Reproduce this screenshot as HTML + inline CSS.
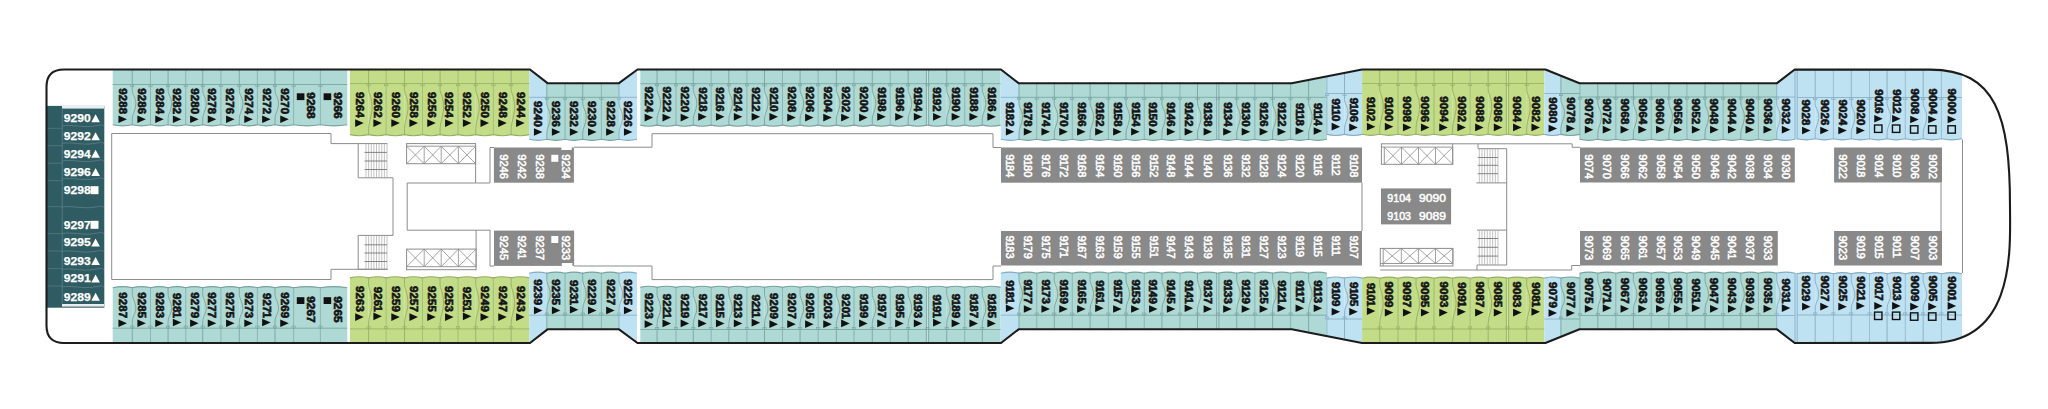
<!DOCTYPE html>
<html><head><meta charset="utf-8"><style>
html,body{margin:0;padding:0;background:#fff;width:2048px;height:409px;overflow:hidden}
svg{display:block}
.cb{font-family:"Liberation Sans", sans-serif;font-weight:bold;font-size:10.4px;fill:#141414;stroke:#141414;stroke-width:0.6px}
.cw{font-family:"Liberation Sans", sans-serif;font-weight:normal;font-size:10.3px;fill:#fff;stroke:#fff;stroke-width:0.5px}
.cwh{font-family:"Liberation Sans", sans-serif;font-weight:normal;font-size:11px;fill:#fff;stroke:#fff;stroke-width:0.5px}
.cwp{font-family:"Liberation Sans", sans-serif;font-weight:bold;font-size:11px;fill:#fff;stroke:#fff;stroke-width:0.25px}
</style></head><body>
<svg width="2048" height="409" viewBox="0 0 2048 409">
<defs><clipPath id="ship"><path d="M64,69.5 L530,69.5 L547.5,83.2 L619,83.2 L637.5,69.5 L1001,69.5 L1018.6,83.2 L1291.7,83.2 L1362,69.5 L1545.4,69.5 L1579.5,83.2 L1777,83.2 L1794.7,69.5 L1930,69.6 C1996,69.6 2010,116 2010,206 C2010,246 2017,342.9 1930,342.9 L1794.7,343 L1777,329.3 L1579.5,329.3 L1545.4,343 L1362,343 L1291.7,329.3 L1018.6,329.3 L1001,343 L637.5,343 L619,329.3 L547.5,329.3 L530,343 L64,343 Q46.5,343 46.5,325.5 L46.5,87 Q46.5,69.5 64,69.5 Z"/></clipPath></defs>
<rect width="2048" height="409" fill="#fff"/>
<g clip-path="url(#ship)">
<path d="M112.7,60 L132.3,60 L132.3,124.8 Q122.5,127 112.7,124.8 Z" fill="#aed9d4"/>
<path d="M132.3,60 L150.5,60 L150.5,124.8 Q141.4,127 132.3,124.8 Z" fill="#aed9d4"/>
<path d="M150.5,60 L168.1,60 L168.1,124.8 Q159.3,127 150.5,124.8 Z" fill="#aed9d4"/>
<path d="M168.1,60 L185.7,60 L185.7,124.8 Q176.9,127 168.1,124.8 Z" fill="#aed9d4"/>
<path d="M185.7,60 L202.7,60 L202.7,124.8 Q194.2,127 185.7,124.8 Z" fill="#aed9d4"/>
<path d="M202.7,60 L220.9,60 L220.9,124.8 Q211.8,127 202.7,124.8 Z" fill="#aed9d4"/>
<path d="M220.9,60 L239.3,60 L239.3,124.8 Q230.1,127 220.9,124.8 Z" fill="#aed9d4"/>
<path d="M239.3,60 L257.4,60 L257.4,124.8 Q248.35,127 239.3,124.8 Z" fill="#aed9d4"/>
<path d="M257.4,60 L275,60 L275,124.8 Q266.2,127 257.4,124.8 Z" fill="#aed9d4"/>
<path d="M275,60 L293.6,60 L293.6,124.8 Q284.3,127 275,124.8 Z" fill="#aed9d4"/>
<path d="M293.6,60 L320.4,60 L320.4,124.8 Q307,127 293.6,124.8 Z" fill="#aed9d4"/>
<path d="M320.4,60 L347.3,60 L347.3,124.8 Q333.85,127 320.4,124.8 Z" fill="#aed9d4"/>
<path d="M349.9,60 L368.6,60 L368.6,134.6 Q359.25,136.8 349.9,134.6 Z" fill="#c3dc88"/>
<path d="M368.6,60 L386.2,60 L386.2,134.6 Q377.4,136.8 368.6,134.6 Z" fill="#c3dc88"/>
<path d="M386.2,60 L404.5,60 L404.5,134.6 Q395.35,136.8 386.2,134.6 Z" fill="#c3dc88"/>
<path d="M404.5,60 L422.5,60 L422.5,134.6 Q413.5,136.8 404.5,134.6 Z" fill="#c3dc88"/>
<path d="M422.5,60 L440.1,60 L440.1,134.6 Q431.3,136.8 422.5,134.6 Z" fill="#c3dc88"/>
<path d="M440.1,60 L458.1,60 L458.1,134.6 Q449.1,136.8 440.1,134.6 Z" fill="#c3dc88"/>
<path d="M458.1,60 L475.7,60 L475.7,134.6 Q466.9,136.8 458.1,134.6 Z" fill="#c3dc88"/>
<path d="M475.7,60 L493.4,60 L493.4,134.6 Q484.55,136.8 475.7,134.6 Z" fill="#c3dc88"/>
<path d="M493.4,60 L511.2,60 L511.2,134.6 Q502.3,136.8 493.4,134.6 Z" fill="#c3dc88"/>
<path d="M511.2,60 L529.2,60 L529.2,134.6 Q520.2,136.8 511.2,134.6 Z" fill="#c3dc88"/>
<path d="M529.2,60 L546.8,60 L546.8,139.3 Q538,141.5 529.2,139.3 Z" fill="#bfe2f3"/>
<path d="M546.8,60 L565.1,60 L565.1,139.3 Q555.95,141.5 546.8,139.3 Z" fill="#aed9d4"/>
<path d="M565.1,60 L582.7,60 L582.7,139.3 Q573.9,141.5 565.1,139.3 Z" fill="#aed9d4"/>
<path d="M582.7,60 L601.4,60 L601.4,139.3 Q592.05,141.5 582.7,139.3 Z" fill="#aed9d4"/>
<path d="M601.4,60 L619,60 L619,139.3 Q610.2,141.5 601.4,139.3 Z" fill="#aed9d4"/>
<path d="M619,60 L637,60 L637,139.3 Q628,141.5 619,139.3 Z" fill="#bfe2f3"/>
<path d="M640.3,60 L657.1,60 L657.1,125.1 Q648.7,127.3 640.3,125.1 Z" fill="#aed9d4"/>
<path d="M657.1,60 L676,60 L676,125.1 Q666.55,127.3 657.1,125.1 Z" fill="#aed9d4"/>
<path d="M676,60 L693.3,60 L693.3,125.1 Q684.65,127.3 676,125.1 Z" fill="#aed9d4"/>
<path d="M693.3,60 L711.2,60 L711.2,125.1 Q702.25,127.3 693.3,125.1 Z" fill="#aed9d4"/>
<path d="M711.2,60 L728.8,60 L728.8,125.1 Q720,127.3 711.2,125.1 Z" fill="#aed9d4"/>
<path d="M728.8,60 L746.9,60 L746.9,125.1 Q737.85,127.3 728.8,125.1 Z" fill="#aed9d4"/>
<path d="M746.9,60 L764.5,60 L764.5,125.1 Q755.7,127.3 746.9,125.1 Z" fill="#aed9d4"/>
<path d="M764.5,60 L782.5,60 L782.5,125.1 Q773.5,127.3 764.5,125.1 Z" fill="#aed9d4"/>
<path d="M782.5,60 L800.1,60 L800.1,125.1 Q791.3,127.3 782.5,125.1 Z" fill="#aed9d4"/>
<path d="M800.1,60 L818.2,60 L818.2,125.1 Q809.15,127.3 800.1,125.1 Z" fill="#aed9d4"/>
<path d="M818.2,60 L836.4,60 L836.4,125.1 Q827.3,127.3 818.2,125.1 Z" fill="#aed9d4"/>
<path d="M836.4,60 L854,60 L854,125.1 Q845.2,127.3 836.4,125.1 Z" fill="#aed9d4"/>
<path d="M854,60 L872.3,60 L872.3,125.1 Q863.15,127.3 854,125.1 Z" fill="#aed9d4"/>
<path d="M872.3,60 L890.3,60 L890.3,125.1 Q881.3,127.3 872.3,125.1 Z" fill="#aed9d4"/>
<path d="M890.3,60 L908.2,60 L908.2,125.1 Q899.25,127.3 890.3,125.1 Z" fill="#aed9d4"/>
<path d="M908.2,60 L927.5,60 L927.5,125.1 Q917.85,127.3 908.2,125.1 Z" fill="#aed9d4"/>
<path d="M927.5,60 L946.7,60 L946.7,125.1 Q937.1,127.3 927.5,125.1 Z" fill="#aed9d4"/>
<path d="M946.7,60 L964.7,60 L964.7,125.1 Q955.7,127.3 946.7,125.1 Z" fill="#aed9d4"/>
<path d="M964.7,60 L982.3,60 L982.3,125.1 Q973.5,127.3 964.7,125.1 Z" fill="#aed9d4"/>
<path d="M982.3,60 L1000.6,60 L1000.6,125.1 Q991.45,127.3 982.3,125.1 Z" fill="#aed9d4"/>
<path d="M1000.8,60 L1019,60 L1019,139.3 Q1009.9,141.5 1000.8,139.3 Z" fill="#bfe2f3"/>
<path d="M1019,60 L1036.7,60 L1036.7,139.3 Q1027.85,141.5 1019,139.3 Z" fill="#aed9d4"/>
<path d="M1036.7,60 L1054.3,60 L1054.3,139.3 Q1045.5,141.5 1036.7,139.3 Z" fill="#aed9d4"/>
<path d="M1054.3,60 L1072.3,60 L1072.3,139.3 Q1063.3,141.5 1054.3,139.3 Z" fill="#aed9d4"/>
<path d="M1072.3,60 L1090.1,60 L1090.1,139.3 Q1081.2,141.5 1072.3,139.3 Z" fill="#aed9d4"/>
<path d="M1090.1,60 L1108.4,60 L1108.4,139.3 Q1099.25,141.5 1090.1,139.3 Z" fill="#aed9d4"/>
<path d="M1108.4,60 L1126,60 L1126,139.3 Q1117.2,141.5 1108.4,139.3 Z" fill="#aed9d4"/>
<path d="M1126,60 L1144.3,60 L1144.3,139.3 Q1135.15,141.5 1126,139.3 Z" fill="#aed9d4"/>
<path d="M1144.3,60 L1161.9,60 L1161.9,139.3 Q1153.1,141.5 1144.3,139.3 Z" fill="#aed9d4"/>
<path d="M1161.9,60 L1179.9,60 L1179.9,139.3 Q1170.9,141.5 1161.9,139.3 Z" fill="#aed9d4"/>
<path d="M1179.9,60 L1197.5,60 L1197.5,139.3 Q1188.7,141.5 1179.9,139.3 Z" fill="#aed9d4"/>
<path d="M1197.5,60 L1217.8,60 L1217.8,139.3 Q1207.65,141.5 1197.5,139.3 Z" fill="#aed9d4"/>
<path d="M1217.8,60 L1236.7,60 L1236.7,139.3 Q1227.25,141.5 1217.8,139.3 Z" fill="#aed9d4"/>
<path d="M1236.7,60 L1254.8,60 L1254.8,139.3 Q1245.75,141.5 1236.7,139.3 Z" fill="#aed9d4"/>
<path d="M1254.8,60 L1272.6,60 L1272.6,139.3 Q1263.7,141.5 1254.8,139.3 Z" fill="#aed9d4"/>
<path d="M1272.6,60 L1290.6,60 L1290.6,139.3 Q1281.6,141.5 1272.6,139.3 Z" fill="#aed9d4"/>
<path d="M1290.6,60 L1308.6,60 L1308.6,139.3 Q1299.6,141.5 1290.6,139.3 Z" fill="#aed9d4"/>
<path d="M1308.6,60 L1326.9,60 L1326.9,139.3 Q1317.75,141.5 1308.6,139.3 Z" fill="#aed9d4"/>
<path d="M1326.9,60 L1344.5,60 L1344.5,134.4 Q1335.7,136.6 1326.9,134.4 Z" fill="#bfe2f3"/>
<path d="M1344.5,60 L1362.1,60 L1362.1,134.4 Q1353.3,136.6 1344.5,134.4 Z" fill="#bfe2f3"/>
<path d="M1362.1,60 L1379.7,60 L1379.7,134.3 Q1370.9,136.5 1362.1,134.3 Z" fill="#c3dc88"/>
<path d="M1379.7,60 L1398,60 L1398,134.3 Q1388.85,136.5 1379.7,134.3 Z" fill="#c3dc88"/>
<path d="M1398,60 L1416,60 L1416,134.3 Q1407,136.5 1398,134.3 Z" fill="#c3dc88"/>
<path d="M1416,60 L1434,60 L1434,134.3 Q1425,136.5 1416,134.3 Z" fill="#c3dc88"/>
<path d="M1434,60 L1452.6,60 L1452.6,134.3 Q1443.3,136.5 1434,134.3 Z" fill="#c3dc88"/>
<path d="M1452.6,60 L1470.2,60 L1470.2,134.3 Q1461.4,136.5 1452.6,134.3 Z" fill="#c3dc88"/>
<path d="M1470.2,60 L1488.2,60 L1488.2,134.3 Q1479.2,136.5 1470.2,134.3 Z" fill="#c3dc88"/>
<path d="M1488.2,60 L1507.5,60 L1507.5,134.3 Q1497.85,136.5 1488.2,134.3 Z" fill="#c3dc88"/>
<path d="M1507.5,60 L1526.7,60 L1526.7,134.3 Q1517.1,136.5 1507.5,134.3 Z" fill="#c3dc88"/>
<path d="M1526.7,60 L1544.3,60 L1544.3,134.3 Q1535.5,136.5 1526.7,134.3 Z" fill="#c3dc88"/>
<path d="M1544.3,60 L1560.9,60 L1560.9,134.4 Q1552.6,136.6 1544.3,134.4 Z" fill="#bfe2f3"/>
<path d="M1560.9,60 L1579.9,60 L1579.9,134.4 Q1570.4,136.6 1560.9,134.4 Z" fill="#aed9d4"/>
<path d="M1579.9,60 L1597.8,60 L1597.8,139.3 Q1588.85,141.5 1579.9,139.3 Z" fill="#aed9d4"/>
<path d="M1597.8,60 L1615.8,60 L1615.8,139.3 Q1606.8,141.5 1597.8,139.3 Z" fill="#aed9d4"/>
<path d="M1615.8,60 L1633.4,60 L1633.4,139.3 Q1624.6,141.5 1615.8,139.3 Z" fill="#aed9d4"/>
<path d="M1633.4,60 L1651.3,60 L1651.3,139.3 Q1642.35,141.5 1633.4,139.3 Z" fill="#aed9d4"/>
<path d="M1651.3,60 L1668.9,60 L1668.9,139.3 Q1660.1,141.5 1651.3,139.3 Z" fill="#aed9d4"/>
<path d="M1668.9,60 L1686.9,60 L1686.9,139.3 Q1677.9,141.5 1668.9,139.3 Z" fill="#aed9d4"/>
<path d="M1686.9,60 L1705,60 L1705,139.3 Q1695.95,141.5 1686.9,139.3 Z" fill="#aed9d4"/>
<path d="M1705,60 L1723.2,60 L1723.2,139.3 Q1714.1,141.5 1705,139.3 Z" fill="#aed9d4"/>
<path d="M1723.2,60 L1740.8,60 L1740.8,139.3 Q1732,141.5 1723.2,139.3 Z" fill="#aed9d4"/>
<path d="M1740.8,60 L1758.4,60 L1758.4,139.3 Q1749.6,141.5 1740.8,139.3 Z" fill="#aed9d4"/>
<path d="M1758.4,60 L1776.7,60 L1776.7,139.3 Q1767.55,141.5 1758.4,139.3 Z" fill="#aed9d4"/>
<path d="M1776.7,60 L1795,60 L1795,139.3 Q1785.85,141.5 1776.7,139.3 Z" fill="#bfe2f3"/>
<path d="M1797,60 L1815.2,60 L1815.2,138.8 Q1806.1,141 1797,138.8 Z" fill="#bfe2f3"/>
<path d="M1815.2,60 L1833.4,60 L1833.4,138.8 Q1824.3,141 1815.2,138.8 Z" fill="#bfe2f3"/>
<path d="M1833.4,60 L1851.3,60 L1851.3,138.8 Q1842.35,141 1833.4,138.8 Z" fill="#bfe2f3"/>
<path d="M1851.3,60 L1869.5,60 L1869.5,138.8 Q1860.4,141 1851.3,138.8 Z" fill="#bfe2f3"/>
<path d="M1869.5,60 L1887.1,60 L1887.1,138.8 Q1878.3,141 1869.5,138.8 Z" fill="#bfe2f3"/>
<path d="M1887.1,60 L1905.3,60 L1905.3,138.8 Q1896.2,141 1887.1,138.8 Z" fill="#bfe2f3"/>
<path d="M1905.3,60 L1923.2,60 L1923.2,138.8 Q1914.25,141 1905.3,138.8 Z" fill="#bfe2f3"/>
<path d="M1923.2,60 L1941.4,60 L1941.4,138.8 Q1932.3,141 1923.2,138.8 Z" fill="#bfe2f3"/>
<path d="M1941.4,60 L1962,60 L1962,138.8 Q1951.7,141 1941.4,138.8 Z" fill="#bfe2f3"/>
<rect x="1794.6" y="60" width="2.8" height="79.5" fill="#bfe2f3"/>
<rect x="1794.6" y="273" width="2.8" height="80" fill="#bfe2f3"/>
<path d="M112.7,287.7 Q122.5,285.5 132.3,287.7 L132.3,352 L112.7,352 Z" fill="#aed9d4"/>
<path d="M132.3,287.7 Q141.4,285.5 150.5,287.7 L150.5,352 L132.3,352 Z" fill="#aed9d4"/>
<path d="M150.5,287.7 Q159.3,285.5 168.1,287.7 L168.1,352 L150.5,352 Z" fill="#aed9d4"/>
<path d="M168.1,287.7 Q176.9,285.5 185.7,287.7 L185.7,352 L168.1,352 Z" fill="#aed9d4"/>
<path d="M185.7,287.7 Q194.2,285.5 202.7,287.7 L202.7,352 L185.7,352 Z" fill="#aed9d4"/>
<path d="M202.7,287.7 Q211.8,285.5 220.9,287.7 L220.9,352 L202.7,352 Z" fill="#aed9d4"/>
<path d="M220.9,287.7 Q230.1,285.5 239.3,287.7 L239.3,352 L220.9,352 Z" fill="#aed9d4"/>
<path d="M239.3,287.7 Q248.35,285.5 257.4,287.7 L257.4,352 L239.3,352 Z" fill="#aed9d4"/>
<path d="M257.4,287.7 Q266.2,285.5 275,287.7 L275,352 L257.4,352 Z" fill="#aed9d4"/>
<path d="M275,287.7 Q284.3,285.5 293.6,287.7 L293.6,352 L275,352 Z" fill="#aed9d4"/>
<path d="M293.6,287.7 Q307,285.5 320.4,287.7 L320.4,352 L293.6,352 Z" fill="#aed9d4"/>
<path d="M320.4,287.7 Q333.85,285.5 347.3,287.7 L347.3,352 L320.4,352 Z" fill="#aed9d4"/>
<path d="M349.9,277.9 Q359.25,275.7 368.6,277.9 L368.6,352 L349.9,352 Z" fill="#c3dc88"/>
<path d="M368.6,277.9 Q377.4,275.7 386.2,277.9 L386.2,352 L368.6,352 Z" fill="#c3dc88"/>
<path d="M386.2,277.9 Q395.35,275.7 404.5,277.9 L404.5,352 L386.2,352 Z" fill="#c3dc88"/>
<path d="M404.5,277.9 Q413.5,275.7 422.5,277.9 L422.5,352 L404.5,352 Z" fill="#c3dc88"/>
<path d="M422.5,277.9 Q431.3,275.7 440.1,277.9 L440.1,352 L422.5,352 Z" fill="#c3dc88"/>
<path d="M440.1,277.9 Q449.1,275.7 458.1,277.9 L458.1,352 L440.1,352 Z" fill="#c3dc88"/>
<path d="M458.1,277.9 Q466.9,275.7 475.7,277.9 L475.7,352 L458.1,352 Z" fill="#c3dc88"/>
<path d="M475.7,277.9 Q484.55,275.7 493.4,277.9 L493.4,352 L475.7,352 Z" fill="#c3dc88"/>
<path d="M493.4,277.9 Q502.3,275.7 511.2,277.9 L511.2,352 L493.4,352 Z" fill="#c3dc88"/>
<path d="M511.2,277.9 Q520.2,275.7 529.2,277.9 L529.2,352 L511.2,352 Z" fill="#c3dc88"/>
<path d="M529.2,273.2 Q538,271 546.8,273.2 L546.8,352 L529.2,352 Z" fill="#bfe2f3"/>
<path d="M546.8,273.2 Q555.95,271 565.1,273.2 L565.1,352 L546.8,352 Z" fill="#aed9d4"/>
<path d="M565.1,273.2 Q573.9,271 582.7,273.2 L582.7,352 L565.1,352 Z" fill="#aed9d4"/>
<path d="M582.7,273.2 Q592.05,271 601.4,273.2 L601.4,352 L582.7,352 Z" fill="#aed9d4"/>
<path d="M601.4,273.2 Q610.2,271 619,273.2 L619,352 L601.4,352 Z" fill="#aed9d4"/>
<path d="M619,273.2 Q628,271 637,273.2 L637,352 L619,352 Z" fill="#bfe2f3"/>
<path d="M640.3,287.4 Q648.7,285.2 657.1,287.4 L657.1,352 L640.3,352 Z" fill="#aed9d4"/>
<path d="M657.1,287.4 Q666.55,285.2 676,287.4 L676,352 L657.1,352 Z" fill="#aed9d4"/>
<path d="M676,287.4 Q684.65,285.2 693.3,287.4 L693.3,352 L676,352 Z" fill="#aed9d4"/>
<path d="M693.3,287.4 Q702.25,285.2 711.2,287.4 L711.2,352 L693.3,352 Z" fill="#aed9d4"/>
<path d="M711.2,287.4 Q720,285.2 728.8,287.4 L728.8,352 L711.2,352 Z" fill="#aed9d4"/>
<path d="M728.8,287.4 Q737.85,285.2 746.9,287.4 L746.9,352 L728.8,352 Z" fill="#aed9d4"/>
<path d="M746.9,287.4 Q755.7,285.2 764.5,287.4 L764.5,352 L746.9,352 Z" fill="#aed9d4"/>
<path d="M764.5,287.4 Q773.5,285.2 782.5,287.4 L782.5,352 L764.5,352 Z" fill="#aed9d4"/>
<path d="M782.5,287.4 Q791.3,285.2 800.1,287.4 L800.1,352 L782.5,352 Z" fill="#aed9d4"/>
<path d="M800.1,287.4 Q809.15,285.2 818.2,287.4 L818.2,352 L800.1,352 Z" fill="#aed9d4"/>
<path d="M818.2,287.4 Q827.3,285.2 836.4,287.4 L836.4,352 L818.2,352 Z" fill="#aed9d4"/>
<path d="M836.4,287.4 Q845.2,285.2 854,287.4 L854,352 L836.4,352 Z" fill="#aed9d4"/>
<path d="M854,287.4 Q863.15,285.2 872.3,287.4 L872.3,352 L854,352 Z" fill="#aed9d4"/>
<path d="M872.3,287.4 Q881.3,285.2 890.3,287.4 L890.3,352 L872.3,352 Z" fill="#aed9d4"/>
<path d="M890.3,287.4 Q899.25,285.2 908.2,287.4 L908.2,352 L890.3,352 Z" fill="#aed9d4"/>
<path d="M908.2,287.4 Q917.85,285.2 927.5,287.4 L927.5,352 L908.2,352 Z" fill="#aed9d4"/>
<path d="M927.5,287.4 Q937.1,285.2 946.7,287.4 L946.7,352 L927.5,352 Z" fill="#aed9d4"/>
<path d="M946.7,287.4 Q955.7,285.2 964.7,287.4 L964.7,352 L946.7,352 Z" fill="#aed9d4"/>
<path d="M964.7,287.4 Q973.5,285.2 982.3,287.4 L982.3,352 L964.7,352 Z" fill="#aed9d4"/>
<path d="M982.3,287.4 Q991.45,285.2 1000.6,287.4 L1000.6,352 L982.3,352 Z" fill="#aed9d4"/>
<path d="M1000.8,273.2 Q1009.9,271 1019,273.2 L1019,352 L1000.8,352 Z" fill="#bfe2f3"/>
<path d="M1019,273.2 Q1027.85,271 1036.7,273.2 L1036.7,352 L1019,352 Z" fill="#aed9d4"/>
<path d="M1036.7,273.2 Q1045.5,271 1054.3,273.2 L1054.3,352 L1036.7,352 Z" fill="#aed9d4"/>
<path d="M1054.3,273.2 Q1063.3,271 1072.3,273.2 L1072.3,352 L1054.3,352 Z" fill="#aed9d4"/>
<path d="M1072.3,273.2 Q1081.2,271 1090.1,273.2 L1090.1,352 L1072.3,352 Z" fill="#aed9d4"/>
<path d="M1090.1,273.2 Q1099.25,271 1108.4,273.2 L1108.4,352 L1090.1,352 Z" fill="#aed9d4"/>
<path d="M1108.4,273.2 Q1117.2,271 1126,273.2 L1126,352 L1108.4,352 Z" fill="#aed9d4"/>
<path d="M1126,273.2 Q1135.15,271 1144.3,273.2 L1144.3,352 L1126,352 Z" fill="#aed9d4"/>
<path d="M1144.3,273.2 Q1153.1,271 1161.9,273.2 L1161.9,352 L1144.3,352 Z" fill="#aed9d4"/>
<path d="M1161.9,273.2 Q1170.9,271 1179.9,273.2 L1179.9,352 L1161.9,352 Z" fill="#aed9d4"/>
<path d="M1179.9,273.2 Q1188.7,271 1197.5,273.2 L1197.5,352 L1179.9,352 Z" fill="#aed9d4"/>
<path d="M1197.5,273.2 Q1207.65,271 1217.8,273.2 L1217.8,352 L1197.5,352 Z" fill="#aed9d4"/>
<path d="M1217.8,273.2 Q1227.25,271 1236.7,273.2 L1236.7,352 L1217.8,352 Z" fill="#aed9d4"/>
<path d="M1236.7,273.2 Q1245.75,271 1254.8,273.2 L1254.8,352 L1236.7,352 Z" fill="#aed9d4"/>
<path d="M1254.8,273.2 Q1263.7,271 1272.6,273.2 L1272.6,352 L1254.8,352 Z" fill="#aed9d4"/>
<path d="M1272.6,273.2 Q1281.6,271 1290.6,273.2 L1290.6,352 L1272.6,352 Z" fill="#aed9d4"/>
<path d="M1290.6,273.2 Q1299.6,271 1308.6,273.2 L1308.6,352 L1290.6,352 Z" fill="#aed9d4"/>
<path d="M1308.6,273.2 Q1317.75,271 1326.9,273.2 L1326.9,352 L1308.6,352 Z" fill="#aed9d4"/>
<path d="M1326.9,278.1 Q1335.7,275.9 1344.5,278.1 L1344.5,352 L1326.9,352 Z" fill="#bfe2f3"/>
<path d="M1344.5,278.1 Q1353.3,275.9 1362.1,278.1 L1362.1,352 L1344.5,352 Z" fill="#bfe2f3"/>
<path d="M1362.1,278.2 Q1370.9,276 1379.7,278.2 L1379.7,352 L1362.1,352 Z" fill="#c3dc88"/>
<path d="M1379.7,278.2 Q1388.85,276 1398,278.2 L1398,352 L1379.7,352 Z" fill="#c3dc88"/>
<path d="M1398,278.2 Q1407,276 1416,278.2 L1416,352 L1398,352 Z" fill="#c3dc88"/>
<path d="M1416,278.2 Q1425,276 1434,278.2 L1434,352 L1416,352 Z" fill="#c3dc88"/>
<path d="M1434,278.2 Q1443.3,276 1452.6,278.2 L1452.6,352 L1434,352 Z" fill="#c3dc88"/>
<path d="M1452.6,278.2 Q1461.4,276 1470.2,278.2 L1470.2,352 L1452.6,352 Z" fill="#c3dc88"/>
<path d="M1470.2,278.2 Q1479.2,276 1488.2,278.2 L1488.2,352 L1470.2,352 Z" fill="#c3dc88"/>
<path d="M1488.2,278.2 Q1497.85,276 1507.5,278.2 L1507.5,352 L1488.2,352 Z" fill="#c3dc88"/>
<path d="M1507.5,278.2 Q1517.1,276 1526.7,278.2 L1526.7,352 L1507.5,352 Z" fill="#c3dc88"/>
<path d="M1526.7,278.2 Q1535.5,276 1544.3,278.2 L1544.3,352 L1526.7,352 Z" fill="#c3dc88"/>
<path d="M1544.3,278.1 Q1552.6,275.9 1560.9,278.1 L1560.9,352 L1544.3,352 Z" fill="#bfe2f3"/>
<path d="M1560.9,278.1 Q1570.4,275.9 1579.9,278.1 L1579.9,352 L1560.9,352 Z" fill="#aed9d4"/>
<path d="M1579.9,273.2 Q1588.85,271 1597.8,273.2 L1597.8,352 L1579.9,352 Z" fill="#aed9d4"/>
<path d="M1597.8,273.2 Q1606.8,271 1615.8,273.2 L1615.8,352 L1597.8,352 Z" fill="#aed9d4"/>
<path d="M1615.8,273.2 Q1624.6,271 1633.4,273.2 L1633.4,352 L1615.8,352 Z" fill="#aed9d4"/>
<path d="M1633.4,273.2 Q1642.35,271 1651.3,273.2 L1651.3,352 L1633.4,352 Z" fill="#aed9d4"/>
<path d="M1651.3,273.2 Q1660.1,271 1668.9,273.2 L1668.9,352 L1651.3,352 Z" fill="#aed9d4"/>
<path d="M1668.9,273.2 Q1677.9,271 1686.9,273.2 L1686.9,352 L1668.9,352 Z" fill="#aed9d4"/>
<path d="M1686.9,273.2 Q1695.95,271 1705,273.2 L1705,352 L1686.9,352 Z" fill="#aed9d4"/>
<path d="M1705,273.2 Q1714.1,271 1723.2,273.2 L1723.2,352 L1705,352 Z" fill="#aed9d4"/>
<path d="M1723.2,273.2 Q1732,271 1740.8,273.2 L1740.8,352 L1723.2,352 Z" fill="#aed9d4"/>
<path d="M1740.8,273.2 Q1749.6,271 1758.4,273.2 L1758.4,352 L1740.8,352 Z" fill="#aed9d4"/>
<path d="M1758.4,273.2 Q1767.55,271 1776.7,273.2 L1776.7,352 L1758.4,352 Z" fill="#aed9d4"/>
<path d="M1776.7,273.2 Q1785.85,271 1795,273.2 L1795,352 L1776.7,352 Z" fill="#bfe2f3"/>
<path d="M1797,273.7 Q1806.1,271.5 1815.2,273.7 L1815.2,352 L1797,352 Z" fill="#bfe2f3"/>
<path d="M1815.2,273.7 Q1824.3,271.5 1833.4,273.7 L1833.4,352 L1815.2,352 Z" fill="#bfe2f3"/>
<path d="M1833.4,273.7 Q1842.35,271.5 1851.3,273.7 L1851.3,352 L1833.4,352 Z" fill="#bfe2f3"/>
<path d="M1851.3,273.7 Q1860.4,271.5 1869.5,273.7 L1869.5,352 L1851.3,352 Z" fill="#bfe2f3"/>
<path d="M1869.5,273.7 Q1878.3,271.5 1887.1,273.7 L1887.1,352 L1869.5,352 Z" fill="#bfe2f3"/>
<path d="M1887.1,273.7 Q1896.2,271.5 1905.3,273.7 L1905.3,352 L1887.1,352 Z" fill="#bfe2f3"/>
<path d="M1905.3,273.7 Q1914.25,271.5 1923.2,273.7 L1923.2,352 L1905.3,352 Z" fill="#bfe2f3"/>
<path d="M1923.2,273.7 Q1932.3,271.5 1941.4,273.7 L1941.4,352 L1923.2,352 Z" fill="#bfe2f3"/>
<path d="M1941.4,273.7 Q1951.7,271.5 1962,273.7 L1962,352 L1941.4,352 Z" fill="#bfe2f3"/>
<path d="M112.7,124.8 Q122.5,127 132.3,124.8" stroke="#77a19e" stroke-width="1.1" fill="none"/>
<path d="M112.7,84.5H132.3" stroke="#77a19e" stroke-width="0.8" fill="none"/>
<path d="M132.3,124.8 Q141.4,127 150.5,124.8" stroke="#77a19e" stroke-width="1.1" fill="none"/>
<path d="M132.3,84.5H150.5" stroke="#77a19e" stroke-width="0.8" fill="none"/>
<rect x="130.7" y="84.7" width="3.2" height="2" fill="#aed9d4" stroke="#77a19e" stroke-width="0.6"/>
<path d="M132.3,60V90.5 C132.3,95.5 136.3,97.5 135.8,105 C135.3,111 132.3,113.5 132.3,118.5 V125.5" stroke="#77a19e" stroke-width="0.9" fill="none"/>
<path d="M150.5,124.8 Q159.3,127 168.1,124.8" stroke="#77a19e" stroke-width="1.1" fill="none"/>
<path d="M150.5,84.5H168.1" stroke="#77a19e" stroke-width="0.8" fill="none"/>
<rect x="148.9" y="84.7" width="3.2" height="2" fill="#aed9d4" stroke="#77a19e" stroke-width="0.6"/>
<path d="M150.5,60V125.5" stroke="#77a19e" stroke-width="0.7" fill="none"/>
<path d="M168.1,124.8 Q176.9,127 185.7,124.8" stroke="#77a19e" stroke-width="1.1" fill="none"/>
<path d="M168.1,84.5H185.7" stroke="#77a19e" stroke-width="0.8" fill="none"/>
<rect x="166.5" y="84.7" width="3.2" height="2" fill="#aed9d4" stroke="#77a19e" stroke-width="0.6"/>
<path d="M168.1,60V90.5 C168.1,95.5 172.1,97.5 171.6,105 C171.1,111 168.1,113.5 168.1,118.5 V125.5" stroke="#77a19e" stroke-width="0.9" fill="none"/>
<path d="M185.7,124.8 Q194.2,127 202.7,124.8" stroke="#77a19e" stroke-width="1.1" fill="none"/>
<path d="M185.7,84.5H202.7" stroke="#77a19e" stroke-width="0.8" fill="none"/>
<rect x="184.1" y="84.7" width="3.2" height="2" fill="#aed9d4" stroke="#77a19e" stroke-width="0.6"/>
<path d="M185.7,60V125.5" stroke="#77a19e" stroke-width="0.7" fill="none"/>
<path d="M202.7,124.8 Q211.8,127 220.9,124.8" stroke="#77a19e" stroke-width="1.1" fill="none"/>
<path d="M202.7,84.5H220.9" stroke="#77a19e" stroke-width="0.8" fill="none"/>
<rect x="201.1" y="84.7" width="3.2" height="2" fill="#aed9d4" stroke="#77a19e" stroke-width="0.6"/>
<path d="M202.7,60V90.5 C202.7,95.5 206.7,97.5 206.2,105 C205.7,111 202.7,113.5 202.7,118.5 V125.5" stroke="#77a19e" stroke-width="0.9" fill="none"/>
<path d="M220.9,124.8 Q230.1,127 239.3,124.8" stroke="#77a19e" stroke-width="1.1" fill="none"/>
<path d="M220.9,84.5H239.3" stroke="#77a19e" stroke-width="0.8" fill="none"/>
<rect x="219.3" y="84.7" width="3.2" height="2" fill="#aed9d4" stroke="#77a19e" stroke-width="0.6"/>
<path d="M220.9,60V125.5" stroke="#77a19e" stroke-width="0.7" fill="none"/>
<path d="M239.3,124.8 Q248.35,127 257.4,124.8" stroke="#77a19e" stroke-width="1.1" fill="none"/>
<path d="M239.3,84.5H257.4" stroke="#77a19e" stroke-width="0.8" fill="none"/>
<rect x="237.7" y="84.7" width="3.2" height="2" fill="#aed9d4" stroke="#77a19e" stroke-width="0.6"/>
<path d="M239.3,60V90.5 C239.3,95.5 243.3,97.5 242.8,105 C242.3,111 239.3,113.5 239.3,118.5 V125.5" stroke="#77a19e" stroke-width="0.9" fill="none"/>
<path d="M257.4,124.8 Q266.2,127 275,124.8" stroke="#77a19e" stroke-width="1.1" fill="none"/>
<path d="M257.4,84.5H275" stroke="#77a19e" stroke-width="0.8" fill="none"/>
<rect x="255.8" y="84.7" width="3.2" height="2" fill="#aed9d4" stroke="#77a19e" stroke-width="0.6"/>
<path d="M257.4,60V125.5" stroke="#77a19e" stroke-width="0.7" fill="none"/>
<path d="M275,124.8 Q284.3,127 293.6,124.8" stroke="#77a19e" stroke-width="1.1" fill="none"/>
<path d="M275,84.5H293.6" stroke="#77a19e" stroke-width="0.8" fill="none"/>
<rect x="273.4" y="84.7" width="3.2" height="2" fill="#aed9d4" stroke="#77a19e" stroke-width="0.6"/>
<path d="M275,60V90.5 C275,95.5 279,97.5 278.5,105 C278,111 275,113.5 275,118.5 V125.5" stroke="#77a19e" stroke-width="0.9" fill="none"/>
<path d="M293.6,124.8 Q307,127 320.4,124.8" stroke="#77a19e" stroke-width="1.1" fill="none"/>
<path d="M293.6,84.5H320.4" stroke="#77a19e" stroke-width="0.8" fill="none"/>
<rect x="292" y="84.7" width="3.2" height="2" fill="#aed9d4" stroke="#77a19e" stroke-width="0.6"/>
<path d="M293.6,60V125.5" stroke="#77a19e" stroke-width="0.7" fill="none"/>
<path d="M320.4,124.8 Q333.85,127 347.3,124.8" stroke="#77a19e" stroke-width="1.1" fill="none"/>
<path d="M320.4,84.5H347.3" stroke="#77a19e" stroke-width="0.8" fill="none"/>
<rect x="318.8" y="84.7" width="3.2" height="2" fill="#aed9d4" stroke="#77a19e" stroke-width="0.6"/>
<path d="M320.4,60V125.5" stroke="#77a19e" stroke-width="0.7" fill="none"/>
<path d="M349.9,134.6 Q359.25,136.8 368.6,134.6" stroke="#94ad64" stroke-width="1.1" fill="none"/>
<path d="M349.9,83.6H368.6" stroke="#94ad64" stroke-width="0.8" fill="none"/>
<path d="M368.6,134.6 Q377.4,136.8 386.2,134.6" stroke="#94ad64" stroke-width="1.1" fill="none"/>
<path d="M368.6,83.6H386.2" stroke="#94ad64" stroke-width="0.8" fill="none"/>
<rect x="367" y="83.8" width="3.2" height="2" fill="#c3dc88" stroke="#94ad64" stroke-width="0.6"/>
<path d="M368.6,60V89.6 C368.6,94.6 372.6,96.6 372.1,109.45 C371.6,115.45 368.6,123.3 368.6,128.3 V135.3" stroke="#94ad64" stroke-width="0.9" fill="none"/>
<path d="M386.2,134.6 Q395.35,136.8 404.5,134.6" stroke="#94ad64" stroke-width="1.1" fill="none"/>
<path d="M386.2,83.6H404.5" stroke="#94ad64" stroke-width="0.8" fill="none"/>
<rect x="384.6" y="83.8" width="3.2" height="2" fill="#c3dc88" stroke="#94ad64" stroke-width="0.6"/>
<path d="M386.2,60V135.3" stroke="#94ad64" stroke-width="0.7" fill="none"/>
<path d="M404.5,134.6 Q413.5,136.8 422.5,134.6" stroke="#94ad64" stroke-width="1.1" fill="none"/>
<path d="M404.5,83.6H422.5" stroke="#94ad64" stroke-width="0.8" fill="none"/>
<rect x="402.9" y="83.8" width="3.2" height="2" fill="#c3dc88" stroke="#94ad64" stroke-width="0.6"/>
<path d="M404.5,60V89.6 C404.5,94.6 408.5,96.6 408,109.45 C407.5,115.45 404.5,123.3 404.5,128.3 V135.3" stroke="#94ad64" stroke-width="0.9" fill="none"/>
<path d="M422.5,134.6 Q431.3,136.8 440.1,134.6" stroke="#94ad64" stroke-width="1.1" fill="none"/>
<path d="M422.5,83.6H440.1" stroke="#94ad64" stroke-width="0.8" fill="none"/>
<rect x="420.9" y="83.8" width="3.2" height="2" fill="#c3dc88" stroke="#94ad64" stroke-width="0.6"/>
<path d="M422.5,60V135.3" stroke="#94ad64" stroke-width="0.7" fill="none"/>
<path d="M440.1,134.6 Q449.1,136.8 458.1,134.6" stroke="#94ad64" stroke-width="1.1" fill="none"/>
<path d="M440.1,83.6H458.1" stroke="#94ad64" stroke-width="0.8" fill="none"/>
<rect x="438.5" y="83.8" width="3.2" height="2" fill="#c3dc88" stroke="#94ad64" stroke-width="0.6"/>
<path d="M440.1,60V89.6 C440.1,94.6 444.1,96.6 443.6,109.45 C443.1,115.45 440.1,123.3 440.1,128.3 V135.3" stroke="#94ad64" stroke-width="0.9" fill="none"/>
<path d="M458.1,134.6 Q466.9,136.8 475.7,134.6" stroke="#94ad64" stroke-width="1.1" fill="none"/>
<path d="M458.1,83.6H475.7" stroke="#94ad64" stroke-width="0.8" fill="none"/>
<rect x="456.5" y="83.8" width="3.2" height="2" fill="#c3dc88" stroke="#94ad64" stroke-width="0.6"/>
<path d="M458.1,60V135.3" stroke="#94ad64" stroke-width="0.7" fill="none"/>
<path d="M475.7,134.6 Q484.55,136.8 493.4,134.6" stroke="#94ad64" stroke-width="1.1" fill="none"/>
<path d="M475.7,83.6H493.4" stroke="#94ad64" stroke-width="0.8" fill="none"/>
<rect x="474.1" y="83.8" width="3.2" height="2" fill="#c3dc88" stroke="#94ad64" stroke-width="0.6"/>
<path d="M475.7,60V89.6 C475.7,94.6 479.7,96.6 479.2,109.45 C478.7,115.45 475.7,123.3 475.7,128.3 V135.3" stroke="#94ad64" stroke-width="0.9" fill="none"/>
<path d="M493.4,134.6 Q502.3,136.8 511.2,134.6" stroke="#94ad64" stroke-width="1.1" fill="none"/>
<path d="M493.4,83.6H511.2" stroke="#94ad64" stroke-width="0.8" fill="none"/>
<rect x="491.8" y="83.8" width="3.2" height="2" fill="#c3dc88" stroke="#94ad64" stroke-width="0.6"/>
<path d="M493.4,60V135.3" stroke="#94ad64" stroke-width="0.7" fill="none"/>
<path d="M511.2,134.6 Q520.2,136.8 529.2,134.6" stroke="#94ad64" stroke-width="1.1" fill="none"/>
<path d="M511.2,83.6H529.2" stroke="#94ad64" stroke-width="0.8" fill="none"/>
<rect x="509.6" y="83.8" width="3.2" height="2" fill="#c3dc88" stroke="#94ad64" stroke-width="0.6"/>
<path d="M511.2,60V89.6 C511.2,94.6 515.2,96.6 514.7,109.45 C514.2,115.45 511.2,123.3 511.2,128.3 V135.3" stroke="#94ad64" stroke-width="0.9" fill="none"/>
<path d="M529.2,139.3 Q538,141.5 546.8,139.3" stroke="#84abc1" stroke-width="1.1" fill="none"/>
<path d="M529.2,97.3H546.8" stroke="#84abc1" stroke-width="0.8" fill="none"/>
<path d="M546.8,139.3 Q555.95,141.5 565.1,139.3" stroke="#77a19e" stroke-width="1.1" fill="none"/>
<path d="M546.8,97.3H565.1" stroke="#77a19e" stroke-width="0.8" fill="none"/>
<rect x="545.2" y="97.5" width="3.2" height="2" fill="#aed9d4" stroke="#77a19e" stroke-width="0.6"/>
<path d="M546.8,60V103.3 C546.8,108.3 550.8,110.3 550.3,118.65 C549.8,124.65 546.8,128 546.8,133 V140" stroke="#77a19e" stroke-width="0.9" fill="none"/>
<path d="M565.1,139.3 Q573.9,141.5 582.7,139.3" stroke="#77a19e" stroke-width="1.1" fill="none"/>
<path d="M565.1,97.3H582.7" stroke="#77a19e" stroke-width="0.8" fill="none"/>
<rect x="563.5" y="97.5" width="3.2" height="2" fill="#aed9d4" stroke="#77a19e" stroke-width="0.6"/>
<path d="M565.1,60V140" stroke="#77a19e" stroke-width="0.7" fill="none"/>
<path d="M582.7,139.3 Q592.05,141.5 601.4,139.3" stroke="#77a19e" stroke-width="1.1" fill="none"/>
<path d="M582.7,97.3H601.4" stroke="#77a19e" stroke-width="0.8" fill="none"/>
<rect x="581.1" y="97.5" width="3.2" height="2" fill="#aed9d4" stroke="#77a19e" stroke-width="0.6"/>
<path d="M582.7,60V103.3 C582.7,108.3 586.7,110.3 586.2,118.65 C585.7,124.65 582.7,128 582.7,133 V140" stroke="#77a19e" stroke-width="0.9" fill="none"/>
<path d="M601.4,139.3 Q610.2,141.5 619,139.3" stroke="#77a19e" stroke-width="1.1" fill="none"/>
<path d="M601.4,97.3H619" stroke="#77a19e" stroke-width="0.8" fill="none"/>
<rect x="599.8" y="97.5" width="3.2" height="2" fill="#aed9d4" stroke="#77a19e" stroke-width="0.6"/>
<path d="M601.4,60V140" stroke="#77a19e" stroke-width="0.7" fill="none"/>
<path d="M619,139.3 Q628,141.5 637,139.3" stroke="#84abc1" stroke-width="1.1" fill="none"/>
<path d="M619,97.3H637" stroke="#84abc1" stroke-width="0.8" fill="none"/>
<rect x="617.4" y="97.5" width="3.2" height="2" fill="#bfe2f3" stroke="#84abc1" stroke-width="0.6"/>
<path d="M619,60V103.3 C619,108.3 623,110.3 622.5,118.65 C622,124.65 619,128 619,133 V140" stroke="#84abc1" stroke-width="0.9" fill="none"/>
<path d="M640.3,125.1 Q648.7,127.3 657.1,125.1" stroke="#77a19e" stroke-width="1.1" fill="none"/>
<path d="M640.3,83.7H657.1" stroke="#77a19e" stroke-width="0.8" fill="none"/>
<path d="M657.1,125.1 Q666.55,127.3 676,125.1" stroke="#77a19e" stroke-width="1.1" fill="none"/>
<path d="M657.1,83.7H676" stroke="#77a19e" stroke-width="0.8" fill="none"/>
<rect x="655.5" y="83.9" width="3.2" height="2" fill="#aed9d4" stroke="#77a19e" stroke-width="0.6"/>
<path d="M657.1,60V89.7 C657.1,94.7 661.1,96.7 660.6,104.75 C660.1,110.75 657.1,113.8 657.1,118.8 V125.8" stroke="#77a19e" stroke-width="0.9" fill="none"/>
<path d="M676,125.1 Q684.65,127.3 693.3,125.1" stroke="#77a19e" stroke-width="1.1" fill="none"/>
<path d="M676,83.7H693.3" stroke="#77a19e" stroke-width="0.8" fill="none"/>
<rect x="674.4" y="83.9" width="3.2" height="2" fill="#aed9d4" stroke="#77a19e" stroke-width="0.6"/>
<path d="M676,60V125.8" stroke="#77a19e" stroke-width="0.7" fill="none"/>
<path d="M693.3,125.1 Q702.25,127.3 711.2,125.1" stroke="#77a19e" stroke-width="1.1" fill="none"/>
<path d="M693.3,83.7H711.2" stroke="#77a19e" stroke-width="0.8" fill="none"/>
<rect x="691.7" y="83.9" width="3.2" height="2" fill="#aed9d4" stroke="#77a19e" stroke-width="0.6"/>
<path d="M693.3,60V89.7 C693.3,94.7 697.3,96.7 696.8,104.75 C696.3,110.75 693.3,113.8 693.3,118.8 V125.8" stroke="#77a19e" stroke-width="0.9" fill="none"/>
<path d="M711.2,125.1 Q720,127.3 728.8,125.1" stroke="#77a19e" stroke-width="1.1" fill="none"/>
<path d="M711.2,83.7H728.8" stroke="#77a19e" stroke-width="0.8" fill="none"/>
<rect x="709.6" y="83.9" width="3.2" height="2" fill="#aed9d4" stroke="#77a19e" stroke-width="0.6"/>
<path d="M711.2,60V125.8" stroke="#77a19e" stroke-width="0.7" fill="none"/>
<path d="M728.8,125.1 Q737.85,127.3 746.9,125.1" stroke="#77a19e" stroke-width="1.1" fill="none"/>
<path d="M728.8,83.7H746.9" stroke="#77a19e" stroke-width="0.8" fill="none"/>
<rect x="727.2" y="83.9" width="3.2" height="2" fill="#aed9d4" stroke="#77a19e" stroke-width="0.6"/>
<path d="M728.8,60V89.7 C728.8,94.7 732.8,96.7 732.3,104.75 C731.8,110.75 728.8,113.8 728.8,118.8 V125.8" stroke="#77a19e" stroke-width="0.9" fill="none"/>
<path d="M746.9,125.1 Q755.7,127.3 764.5,125.1" stroke="#77a19e" stroke-width="1.1" fill="none"/>
<path d="M746.9,83.7H764.5" stroke="#77a19e" stroke-width="0.8" fill="none"/>
<rect x="745.3" y="83.9" width="3.2" height="2" fill="#aed9d4" stroke="#77a19e" stroke-width="0.6"/>
<path d="M746.9,60V125.8" stroke="#77a19e" stroke-width="0.7" fill="none"/>
<path d="M764.5,125.1 Q773.5,127.3 782.5,125.1" stroke="#77a19e" stroke-width="1.1" fill="none"/>
<path d="M764.5,83.7H782.5" stroke="#77a19e" stroke-width="0.8" fill="none"/>
<rect x="762.9" y="83.9" width="3.2" height="2" fill="#aed9d4" stroke="#77a19e" stroke-width="0.6"/>
<path d="M764.5,60V89.7 C764.5,94.7 768.5,96.7 768,104.75 C767.5,110.75 764.5,113.8 764.5,118.8 V125.8" stroke="#77a19e" stroke-width="0.9" fill="none"/>
<path d="M782.5,125.1 Q791.3,127.3 800.1,125.1" stroke="#77a19e" stroke-width="1.1" fill="none"/>
<path d="M782.5,83.7H800.1" stroke="#77a19e" stroke-width="0.8" fill="none"/>
<rect x="780.9" y="83.9" width="3.2" height="2" fill="#aed9d4" stroke="#77a19e" stroke-width="0.6"/>
<path d="M782.5,60V125.8" stroke="#77a19e" stroke-width="0.7" fill="none"/>
<path d="M800.1,125.1 Q809.15,127.3 818.2,125.1" stroke="#77a19e" stroke-width="1.1" fill="none"/>
<path d="M800.1,83.7H818.2" stroke="#77a19e" stroke-width="0.8" fill="none"/>
<rect x="798.5" y="83.9" width="3.2" height="2" fill="#aed9d4" stroke="#77a19e" stroke-width="0.6"/>
<path d="M800.1,60V89.7 C800.1,94.7 804.1,96.7 803.6,104.75 C803.1,110.75 800.1,113.8 800.1,118.8 V125.8" stroke="#77a19e" stroke-width="0.9" fill="none"/>
<path d="M818.2,125.1 Q827.3,127.3 836.4,125.1" stroke="#77a19e" stroke-width="1.1" fill="none"/>
<path d="M818.2,83.7H836.4" stroke="#77a19e" stroke-width="0.8" fill="none"/>
<rect x="816.6" y="83.9" width="3.2" height="2" fill="#aed9d4" stroke="#77a19e" stroke-width="0.6"/>
<path d="M818.2,60V125.8" stroke="#77a19e" stroke-width="0.7" fill="none"/>
<path d="M836.4,125.1 Q845.2,127.3 854,125.1" stroke="#77a19e" stroke-width="1.1" fill="none"/>
<path d="M836.4,83.7H854" stroke="#77a19e" stroke-width="0.8" fill="none"/>
<rect x="834.8" y="83.9" width="3.2" height="2" fill="#aed9d4" stroke="#77a19e" stroke-width="0.6"/>
<path d="M836.4,60V89.7 C836.4,94.7 840.4,96.7 839.9,104.75 C839.4,110.75 836.4,113.8 836.4,118.8 V125.8" stroke="#77a19e" stroke-width="0.9" fill="none"/>
<path d="M854,125.1 Q863.15,127.3 872.3,125.1" stroke="#77a19e" stroke-width="1.1" fill="none"/>
<path d="M854,83.7H872.3" stroke="#77a19e" stroke-width="0.8" fill="none"/>
<rect x="852.4" y="83.9" width="3.2" height="2" fill="#aed9d4" stroke="#77a19e" stroke-width="0.6"/>
<path d="M854,60V125.8" stroke="#77a19e" stroke-width="0.7" fill="none"/>
<path d="M872.3,125.1 Q881.3,127.3 890.3,125.1" stroke="#77a19e" stroke-width="1.1" fill="none"/>
<path d="M872.3,83.7H890.3" stroke="#77a19e" stroke-width="0.8" fill="none"/>
<rect x="870.7" y="83.9" width="3.2" height="2" fill="#aed9d4" stroke="#77a19e" stroke-width="0.6"/>
<path d="M872.3,60V89.7 C872.3,94.7 876.3,96.7 875.8,104.75 C875.3,110.75 872.3,113.8 872.3,118.8 V125.8" stroke="#77a19e" stroke-width="0.9" fill="none"/>
<path d="M890.3,125.1 Q899.25,127.3 908.2,125.1" stroke="#77a19e" stroke-width="1.1" fill="none"/>
<path d="M890.3,83.7H908.2" stroke="#77a19e" stroke-width="0.8" fill="none"/>
<rect x="888.7" y="83.9" width="3.2" height="2" fill="#aed9d4" stroke="#77a19e" stroke-width="0.6"/>
<path d="M890.3,60V125.8" stroke="#77a19e" stroke-width="0.7" fill="none"/>
<path d="M908.2,125.1 Q917.85,127.3 927.5,125.1" stroke="#77a19e" stroke-width="1.1" fill="none"/>
<path d="M908.2,83.7H927.5" stroke="#77a19e" stroke-width="0.8" fill="none"/>
<rect x="906.6" y="83.9" width="3.2" height="2" fill="#aed9d4" stroke="#77a19e" stroke-width="0.6"/>
<path d="M908.2,60V89.7 C908.2,94.7 912.2,96.7 911.7,104.75 C911.2,110.75 908.2,113.8 908.2,118.8 V125.8" stroke="#77a19e" stroke-width="0.9" fill="none"/>
<path d="M927.5,125.1 Q937.1,127.3 946.7,125.1" stroke="#77a19e" stroke-width="1.1" fill="none"/>
<path d="M927.5,83.7H946.7" stroke="#77a19e" stroke-width="0.8" fill="none"/>
<rect x="925.9" y="83.9" width="3.2" height="2" fill="#aed9d4" stroke="#77a19e" stroke-width="0.6"/>
<path d="M926.4,60V125.8M928.6,60V125.8" stroke="#77a19e" stroke-width="0.8" fill="none"/>
<path d="M946.7,125.1 Q955.7,127.3 964.7,125.1" stroke="#77a19e" stroke-width="1.1" fill="none"/>
<path d="M946.7,83.7H964.7" stroke="#77a19e" stroke-width="0.8" fill="none"/>
<rect x="945.1" y="83.9" width="3.2" height="2" fill="#aed9d4" stroke="#77a19e" stroke-width="0.6"/>
<path d="M946.7,60V89.7 C946.7,94.7 950.7,96.7 950.2,104.75 C949.7,110.75 946.7,113.8 946.7,118.8 V125.8" stroke="#77a19e" stroke-width="0.9" fill="none"/>
<path d="M964.7,125.1 Q973.5,127.3 982.3,125.1" stroke="#77a19e" stroke-width="1.1" fill="none"/>
<path d="M964.7,83.7H982.3" stroke="#77a19e" stroke-width="0.8" fill="none"/>
<rect x="963.1" y="83.9" width="3.2" height="2" fill="#aed9d4" stroke="#77a19e" stroke-width="0.6"/>
<path d="M964.7,60V125.8" stroke="#77a19e" stroke-width="0.7" fill="none"/>
<path d="M982.3,125.1 Q991.45,127.3 1000.6,125.1" stroke="#77a19e" stroke-width="1.1" fill="none"/>
<path d="M982.3,83.7H1000.6" stroke="#77a19e" stroke-width="0.8" fill="none"/>
<rect x="980.7" y="83.9" width="3.2" height="2" fill="#aed9d4" stroke="#77a19e" stroke-width="0.6"/>
<path d="M982.3,60V89.7 C982.3,94.7 986.3,96.7 985.8,104.75 C985.3,110.75 982.3,113.8 982.3,118.8 V125.8" stroke="#77a19e" stroke-width="0.9" fill="none"/>
<path d="M1000.8,139.3 Q1009.9,141.5 1019,139.3" stroke="#84abc1" stroke-width="1.1" fill="none"/>
<path d="M1000.8,97.3H1019" stroke="#84abc1" stroke-width="0.8" fill="none"/>
<path d="M1019,139.3 Q1027.85,141.5 1036.7,139.3" stroke="#77a19e" stroke-width="1.1" fill="none"/>
<path d="M1019,97.3H1036.7" stroke="#77a19e" stroke-width="0.8" fill="none"/>
<rect x="1017.4" y="97.5" width="3.2" height="2" fill="#aed9d4" stroke="#77a19e" stroke-width="0.6"/>
<path d="M1019,60V103.3 C1019,108.3 1023,110.3 1022.5,118.65 C1022,124.65 1019,128 1019,133 V140" stroke="#77a19e" stroke-width="0.9" fill="none"/>
<path d="M1036.7,139.3 Q1045.5,141.5 1054.3,139.3" stroke="#77a19e" stroke-width="1.1" fill="none"/>
<path d="M1036.7,97.3H1054.3" stroke="#77a19e" stroke-width="0.8" fill="none"/>
<rect x="1035.1" y="97.5" width="3.2" height="2" fill="#aed9d4" stroke="#77a19e" stroke-width="0.6"/>
<path d="M1036.7,60V140" stroke="#77a19e" stroke-width="0.7" fill="none"/>
<path d="M1054.3,139.3 Q1063.3,141.5 1072.3,139.3" stroke="#77a19e" stroke-width="1.1" fill="none"/>
<path d="M1054.3,97.3H1072.3" stroke="#77a19e" stroke-width="0.8" fill="none"/>
<rect x="1052.7" y="97.5" width="3.2" height="2" fill="#aed9d4" stroke="#77a19e" stroke-width="0.6"/>
<path d="M1054.3,60V103.3 C1054.3,108.3 1058.3,110.3 1057.8,118.65 C1057.3,124.65 1054.3,128 1054.3,133 V140" stroke="#77a19e" stroke-width="0.9" fill="none"/>
<path d="M1072.3,139.3 Q1081.2,141.5 1090.1,139.3" stroke="#77a19e" stroke-width="1.1" fill="none"/>
<path d="M1072.3,97.3H1090.1" stroke="#77a19e" stroke-width="0.8" fill="none"/>
<rect x="1070.7" y="97.5" width="3.2" height="2" fill="#aed9d4" stroke="#77a19e" stroke-width="0.6"/>
<path d="M1072.3,60V140" stroke="#77a19e" stroke-width="0.7" fill="none"/>
<path d="M1090.1,139.3 Q1099.25,141.5 1108.4,139.3" stroke="#77a19e" stroke-width="1.1" fill="none"/>
<path d="M1090.1,97.3H1108.4" stroke="#77a19e" stroke-width="0.8" fill="none"/>
<rect x="1088.5" y="97.5" width="3.2" height="2" fill="#aed9d4" stroke="#77a19e" stroke-width="0.6"/>
<path d="M1090.1,60V103.3 C1090.1,108.3 1094.1,110.3 1093.6,118.65 C1093.1,124.65 1090.1,128 1090.1,133 V140" stroke="#77a19e" stroke-width="0.9" fill="none"/>
<path d="M1108.4,139.3 Q1117.2,141.5 1126,139.3" stroke="#77a19e" stroke-width="1.1" fill="none"/>
<path d="M1108.4,97.3H1126" stroke="#77a19e" stroke-width="0.8" fill="none"/>
<rect x="1106.8" y="97.5" width="3.2" height="2" fill="#aed9d4" stroke="#77a19e" stroke-width="0.6"/>
<path d="M1108.4,60V140" stroke="#77a19e" stroke-width="0.7" fill="none"/>
<path d="M1126,139.3 Q1135.15,141.5 1144.3,139.3" stroke="#77a19e" stroke-width="1.1" fill="none"/>
<path d="M1126,97.3H1144.3" stroke="#77a19e" stroke-width="0.8" fill="none"/>
<rect x="1124.4" y="97.5" width="3.2" height="2" fill="#aed9d4" stroke="#77a19e" stroke-width="0.6"/>
<path d="M1126,60V103.3 C1126,108.3 1130,110.3 1129.5,118.65 C1129,124.65 1126,128 1126,133 V140" stroke="#77a19e" stroke-width="0.9" fill="none"/>
<path d="M1144.3,139.3 Q1153.1,141.5 1161.9,139.3" stroke="#77a19e" stroke-width="1.1" fill="none"/>
<path d="M1144.3,97.3H1161.9" stroke="#77a19e" stroke-width="0.8" fill="none"/>
<rect x="1142.7" y="97.5" width="3.2" height="2" fill="#aed9d4" stroke="#77a19e" stroke-width="0.6"/>
<path d="M1144.3,60V140" stroke="#77a19e" stroke-width="0.7" fill="none"/>
<path d="M1161.9,139.3 Q1170.9,141.5 1179.9,139.3" stroke="#77a19e" stroke-width="1.1" fill="none"/>
<path d="M1161.9,97.3H1179.9" stroke="#77a19e" stroke-width="0.8" fill="none"/>
<rect x="1160.3" y="97.5" width="3.2" height="2" fill="#aed9d4" stroke="#77a19e" stroke-width="0.6"/>
<path d="M1161.9,60V103.3 C1161.9,108.3 1165.9,110.3 1165.4,118.65 C1164.9,124.65 1161.9,128 1161.9,133 V140" stroke="#77a19e" stroke-width="0.9" fill="none"/>
<path d="M1179.9,139.3 Q1188.7,141.5 1197.5,139.3" stroke="#77a19e" stroke-width="1.1" fill="none"/>
<path d="M1179.9,97.3H1197.5" stroke="#77a19e" stroke-width="0.8" fill="none"/>
<rect x="1178.3" y="97.5" width="3.2" height="2" fill="#aed9d4" stroke="#77a19e" stroke-width="0.6"/>
<path d="M1179.9,60V140" stroke="#77a19e" stroke-width="0.7" fill="none"/>
<path d="M1197.5,139.3 Q1207.65,141.5 1217.8,139.3" stroke="#77a19e" stroke-width="1.1" fill="none"/>
<path d="M1197.5,97.3H1217.8" stroke="#77a19e" stroke-width="0.8" fill="none"/>
<rect x="1195.9" y="97.5" width="3.2" height="2" fill="#aed9d4" stroke="#77a19e" stroke-width="0.6"/>
<path d="M1197.5,60V103.3 C1197.5,108.3 1201.5,110.3 1201,118.65 C1200.5,124.65 1197.5,128 1197.5,133 V140" stroke="#77a19e" stroke-width="0.9" fill="none"/>
<path d="M1217.8,139.3 Q1227.25,141.5 1236.7,139.3" stroke="#77a19e" stroke-width="1.1" fill="none"/>
<path d="M1217.8,97.3H1236.7" stroke="#77a19e" stroke-width="0.8" fill="none"/>
<rect x="1216.2" y="97.5" width="3.2" height="2" fill="#aed9d4" stroke="#77a19e" stroke-width="0.6"/>
<path d="M1216.7,60V140M1218.9,60V140" stroke="#77a19e" stroke-width="0.8" fill="none"/>
<path d="M1236.7,139.3 Q1245.75,141.5 1254.8,139.3" stroke="#77a19e" stroke-width="1.1" fill="none"/>
<path d="M1236.7,97.3H1254.8" stroke="#77a19e" stroke-width="0.8" fill="none"/>
<rect x="1235.1" y="97.5" width="3.2" height="2" fill="#aed9d4" stroke="#77a19e" stroke-width="0.6"/>
<path d="M1236.7,60V103.3 C1236.7,108.3 1240.7,110.3 1240.2,118.65 C1239.7,124.65 1236.7,128 1236.7,133 V140" stroke="#77a19e" stroke-width="0.9" fill="none"/>
<path d="M1254.8,139.3 Q1263.7,141.5 1272.6,139.3" stroke="#77a19e" stroke-width="1.1" fill="none"/>
<path d="M1254.8,97.3H1272.6" stroke="#77a19e" stroke-width="0.8" fill="none"/>
<rect x="1253.2" y="97.5" width="3.2" height="2" fill="#aed9d4" stroke="#77a19e" stroke-width="0.6"/>
<path d="M1254.8,60V140" stroke="#77a19e" stroke-width="0.7" fill="none"/>
<path d="M1272.6,139.3 Q1281.6,141.5 1290.6,139.3" stroke="#77a19e" stroke-width="1.1" fill="none"/>
<path d="M1272.6,97.3H1290.6" stroke="#77a19e" stroke-width="0.8" fill="none"/>
<rect x="1271" y="97.5" width="3.2" height="2" fill="#aed9d4" stroke="#77a19e" stroke-width="0.6"/>
<path d="M1272.6,60V103.3 C1272.6,108.3 1276.6,110.3 1276.1,118.65 C1275.6,124.65 1272.6,128 1272.6,133 V140" stroke="#77a19e" stroke-width="0.9" fill="none"/>
<path d="M1290.6,139.3 Q1299.6,141.5 1308.6,139.3" stroke="#77a19e" stroke-width="1.1" fill="none"/>
<path d="M1290.6,97.3H1308.6" stroke="#77a19e" stroke-width="0.8" fill="none"/>
<rect x="1289" y="97.5" width="3.2" height="2" fill="#aed9d4" stroke="#77a19e" stroke-width="0.6"/>
<path d="M1290.6,60V140" stroke="#77a19e" stroke-width="0.7" fill="none"/>
<path d="M1308.6,139.3 Q1317.75,141.5 1326.9,139.3" stroke="#77a19e" stroke-width="1.1" fill="none"/>
<path d="M1308.6,97.3H1326.9" stroke="#77a19e" stroke-width="0.8" fill="none"/>
<rect x="1307" y="97.5" width="3.2" height="2" fill="#aed9d4" stroke="#77a19e" stroke-width="0.6"/>
<path d="M1308.6,60V103.3 C1308.6,108.3 1312.6,110.3 1312.1,118.65 C1311.6,124.65 1308.6,128 1308.6,133 V140" stroke="#77a19e" stroke-width="0.9" fill="none"/>
<path d="M1326.9,134.4 Q1335.7,136.6 1344.5,134.4" stroke="#84abc1" stroke-width="1.1" fill="none"/>
<path d="M1326.9,93.5H1344.5" stroke="#84abc1" stroke-width="0.8" fill="none"/>
<rect x="1325.3" y="93.7" width="3.2" height="2" fill="#bfe2f3" stroke="#84abc1" stroke-width="0.6"/>
<path d="M1326.9,60V135.1" stroke="#84abc1" stroke-width="0.7" fill="none"/>
<path d="M1344.5,134.4 Q1353.3,136.6 1362.1,134.4" stroke="#84abc1" stroke-width="1.1" fill="none"/>
<path d="M1344.5,93.5H1362.1" stroke="#84abc1" stroke-width="0.8" fill="none"/>
<rect x="1342.9" y="93.7" width="3.2" height="2" fill="#bfe2f3" stroke="#84abc1" stroke-width="0.6"/>
<path d="M1344.5,60V99.5 C1344.5,104.5 1348.5,106.5 1348,114.3 C1347.5,120.3 1344.5,123.1 1344.5,128.1 V135.1" stroke="#84abc1" stroke-width="0.9" fill="none"/>
<path d="M1362.1,134.3 Q1370.9,136.5 1379.7,134.3" stroke="#94ad64" stroke-width="1.1" fill="none"/>
<path d="M1362.1,83.5H1379.7" stroke="#94ad64" stroke-width="0.8" fill="none"/>
<path d="M1379.7,134.3 Q1388.85,136.5 1398,134.3" stroke="#94ad64" stroke-width="1.1" fill="none"/>
<path d="M1379.7,83.5H1398" stroke="#94ad64" stroke-width="0.8" fill="none"/>
<rect x="1378.1" y="83.7" width="3.2" height="2" fill="#c3dc88" stroke="#94ad64" stroke-width="0.6"/>
<path d="M1379.7,60V89.5 C1379.7,94.5 1383.7,96.5 1383.2,109.25 C1382.7,115.25 1379.7,123 1379.7,128 V135" stroke="#94ad64" stroke-width="0.9" fill="none"/>
<path d="M1398,134.3 Q1407,136.5 1416,134.3" stroke="#94ad64" stroke-width="1.1" fill="none"/>
<path d="M1398,83.5H1416" stroke="#94ad64" stroke-width="0.8" fill="none"/>
<rect x="1396.4" y="83.7" width="3.2" height="2" fill="#c3dc88" stroke="#94ad64" stroke-width="0.6"/>
<path d="M1398,60V135" stroke="#94ad64" stroke-width="0.7" fill="none"/>
<path d="M1416,134.3 Q1425,136.5 1434,134.3" stroke="#94ad64" stroke-width="1.1" fill="none"/>
<path d="M1416,83.5H1434" stroke="#94ad64" stroke-width="0.8" fill="none"/>
<rect x="1414.4" y="83.7" width="3.2" height="2" fill="#c3dc88" stroke="#94ad64" stroke-width="0.6"/>
<path d="M1416,60V89.5 C1416,94.5 1420,96.5 1419.5,109.25 C1419,115.25 1416,123 1416,128 V135" stroke="#94ad64" stroke-width="0.9" fill="none"/>
<path d="M1434,134.3 Q1443.3,136.5 1452.6,134.3" stroke="#94ad64" stroke-width="1.1" fill="none"/>
<path d="M1434,83.5H1452.6" stroke="#94ad64" stroke-width="0.8" fill="none"/>
<rect x="1432.4" y="83.7" width="3.2" height="2" fill="#c3dc88" stroke="#94ad64" stroke-width="0.6"/>
<path d="M1434,60V135" stroke="#94ad64" stroke-width="0.7" fill="none"/>
<path d="M1452.6,134.3 Q1461.4,136.5 1470.2,134.3" stroke="#94ad64" stroke-width="1.1" fill="none"/>
<path d="M1452.6,83.5H1470.2" stroke="#94ad64" stroke-width="0.8" fill="none"/>
<rect x="1451" y="83.7" width="3.2" height="2" fill="#c3dc88" stroke="#94ad64" stroke-width="0.6"/>
<path d="M1452.6,60V89.5 C1452.6,94.5 1456.6,96.5 1456.1,109.25 C1455.6,115.25 1452.6,123 1452.6,128 V135" stroke="#94ad64" stroke-width="0.9" fill="none"/>
<path d="M1470.2,134.3 Q1479.2,136.5 1488.2,134.3" stroke="#94ad64" stroke-width="1.1" fill="none"/>
<path d="M1470.2,83.5H1488.2" stroke="#94ad64" stroke-width="0.8" fill="none"/>
<rect x="1468.6" y="83.7" width="3.2" height="2" fill="#c3dc88" stroke="#94ad64" stroke-width="0.6"/>
<path d="M1470.2,60V135" stroke="#94ad64" stroke-width="0.7" fill="none"/>
<path d="M1488.2,134.3 Q1497.85,136.5 1507.5,134.3" stroke="#94ad64" stroke-width="1.1" fill="none"/>
<path d="M1488.2,83.5H1507.5" stroke="#94ad64" stroke-width="0.8" fill="none"/>
<rect x="1486.6" y="83.7" width="3.2" height="2" fill="#c3dc88" stroke="#94ad64" stroke-width="0.6"/>
<path d="M1488.2,60V89.5 C1488.2,94.5 1492.2,96.5 1491.7,109.25 C1491.2,115.25 1488.2,123 1488.2,128 V135" stroke="#94ad64" stroke-width="0.9" fill="none"/>
<path d="M1507.5,134.3 Q1517.1,136.5 1526.7,134.3" stroke="#94ad64" stroke-width="1.1" fill="none"/>
<path d="M1507.5,83.5H1526.7" stroke="#94ad64" stroke-width="0.8" fill="none"/>
<rect x="1505.9" y="83.7" width="3.2" height="2" fill="#c3dc88" stroke="#94ad64" stroke-width="0.6"/>
<path d="M1506.4,60V135M1508.6,60V135" stroke="#94ad64" stroke-width="0.8" fill="none"/>
<path d="M1526.7,134.3 Q1535.5,136.5 1544.3,134.3" stroke="#94ad64" stroke-width="1.1" fill="none"/>
<path d="M1526.7,83.5H1544.3" stroke="#94ad64" stroke-width="0.8" fill="none"/>
<rect x="1525.1" y="83.7" width="3.2" height="2" fill="#c3dc88" stroke="#94ad64" stroke-width="0.6"/>
<path d="M1526.7,60V89.5 C1526.7,94.5 1530.7,96.5 1530.2,109.25 C1529.7,115.25 1526.7,123 1526.7,128 V135" stroke="#94ad64" stroke-width="0.9" fill="none"/>
<path d="M1544.3,134.4 Q1552.6,136.6 1560.9,134.4" stroke="#84abc1" stroke-width="1.1" fill="none"/>
<path d="M1544.3,93.5H1560.9" stroke="#84abc1" stroke-width="0.8" fill="none"/>
<path d="M1560.9,134.4 Q1570.4,136.6 1579.9,134.4" stroke="#77a19e" stroke-width="1.1" fill="none"/>
<path d="M1560.9,93.5H1579.9" stroke="#77a19e" stroke-width="0.8" fill="none"/>
<rect x="1559.3" y="93.7" width="3.2" height="2" fill="#aed9d4" stroke="#77a19e" stroke-width="0.6"/>
<path d="M1560.9,60V99.5 C1560.9,104.5 1564.9,106.5 1564.4,114.3 C1563.9,120.3 1560.9,123.1 1560.9,128.1 V135.1" stroke="#77a19e" stroke-width="0.9" fill="none"/>
<path d="M1579.9,139.3 Q1588.85,141.5 1597.8,139.3" stroke="#77a19e" stroke-width="1.1" fill="none"/>
<path d="M1579.9,97H1597.8" stroke="#77a19e" stroke-width="0.8" fill="none"/>
<rect x="1578.3" y="97.2" width="3.2" height="2" fill="#aed9d4" stroke="#77a19e" stroke-width="0.6"/>
<path d="M1579.9,60V140" stroke="#77a19e" stroke-width="0.7" fill="none"/>
<path d="M1597.8,139.3 Q1606.8,141.5 1615.8,139.3" stroke="#77a19e" stroke-width="1.1" fill="none"/>
<path d="M1597.8,97H1615.8" stroke="#77a19e" stroke-width="0.8" fill="none"/>
<rect x="1596.2" y="97.2" width="3.2" height="2" fill="#aed9d4" stroke="#77a19e" stroke-width="0.6"/>
<path d="M1597.8,60V103 C1597.8,108 1601.8,110 1601.3,118.5 C1600.8,124.5 1597.8,128 1597.8,133 V140" stroke="#77a19e" stroke-width="0.9" fill="none"/>
<path d="M1615.8,139.3 Q1624.6,141.5 1633.4,139.3" stroke="#77a19e" stroke-width="1.1" fill="none"/>
<path d="M1615.8,97H1633.4" stroke="#77a19e" stroke-width="0.8" fill="none"/>
<rect x="1614.2" y="97.2" width="3.2" height="2" fill="#aed9d4" stroke="#77a19e" stroke-width="0.6"/>
<path d="M1615.8,60V140" stroke="#77a19e" stroke-width="0.7" fill="none"/>
<path d="M1633.4,139.3 Q1642.35,141.5 1651.3,139.3" stroke="#77a19e" stroke-width="1.1" fill="none"/>
<path d="M1633.4,97H1651.3" stroke="#77a19e" stroke-width="0.8" fill="none"/>
<rect x="1631.8" y="97.2" width="3.2" height="2" fill="#aed9d4" stroke="#77a19e" stroke-width="0.6"/>
<path d="M1633.4,60V103 C1633.4,108 1637.4,110 1636.9,118.5 C1636.4,124.5 1633.4,128 1633.4,133 V140" stroke="#77a19e" stroke-width="0.9" fill="none"/>
<path d="M1651.3,139.3 Q1660.1,141.5 1668.9,139.3" stroke="#77a19e" stroke-width="1.1" fill="none"/>
<path d="M1651.3,97H1668.9" stroke="#77a19e" stroke-width="0.8" fill="none"/>
<rect x="1649.7" y="97.2" width="3.2" height="2" fill="#aed9d4" stroke="#77a19e" stroke-width="0.6"/>
<path d="M1651.3,60V140" stroke="#77a19e" stroke-width="0.7" fill="none"/>
<path d="M1668.9,139.3 Q1677.9,141.5 1686.9,139.3" stroke="#77a19e" stroke-width="1.1" fill="none"/>
<path d="M1668.9,97H1686.9" stroke="#77a19e" stroke-width="0.8" fill="none"/>
<rect x="1667.3" y="97.2" width="3.2" height="2" fill="#aed9d4" stroke="#77a19e" stroke-width="0.6"/>
<path d="M1668.9,60V103 C1668.9,108 1672.9,110 1672.4,118.5 C1671.9,124.5 1668.9,128 1668.9,133 V140" stroke="#77a19e" stroke-width="0.9" fill="none"/>
<path d="M1686.9,139.3 Q1695.95,141.5 1705,139.3" stroke="#77a19e" stroke-width="1.1" fill="none"/>
<path d="M1686.9,97H1705" stroke="#77a19e" stroke-width="0.8" fill="none"/>
<rect x="1685.3" y="97.2" width="3.2" height="2" fill="#aed9d4" stroke="#77a19e" stroke-width="0.6"/>
<path d="M1686.9,60V140" stroke="#77a19e" stroke-width="0.7" fill="none"/>
<path d="M1705,139.3 Q1714.1,141.5 1723.2,139.3" stroke="#77a19e" stroke-width="1.1" fill="none"/>
<path d="M1705,97H1723.2" stroke="#77a19e" stroke-width="0.8" fill="none"/>
<rect x="1703.4" y="97.2" width="3.2" height="2" fill="#aed9d4" stroke="#77a19e" stroke-width="0.6"/>
<path d="M1705,60V103 C1705,108 1709,110 1708.5,118.5 C1708,124.5 1705,128 1705,133 V140" stroke="#77a19e" stroke-width="0.9" fill="none"/>
<path d="M1723.2,139.3 Q1732,141.5 1740.8,139.3" stroke="#77a19e" stroke-width="1.1" fill="none"/>
<path d="M1723.2,97H1740.8" stroke="#77a19e" stroke-width="0.8" fill="none"/>
<rect x="1721.6" y="97.2" width="3.2" height="2" fill="#aed9d4" stroke="#77a19e" stroke-width="0.6"/>
<path d="M1723.2,60V140" stroke="#77a19e" stroke-width="0.7" fill="none"/>
<path d="M1740.8,139.3 Q1749.6,141.5 1758.4,139.3" stroke="#77a19e" stroke-width="1.1" fill="none"/>
<path d="M1740.8,97H1758.4" stroke="#77a19e" stroke-width="0.8" fill="none"/>
<rect x="1739.2" y="97.2" width="3.2" height="2" fill="#aed9d4" stroke="#77a19e" stroke-width="0.6"/>
<path d="M1740.8,60V103 C1740.8,108 1744.8,110 1744.3,118.5 C1743.8,124.5 1740.8,128 1740.8,133 V140" stroke="#77a19e" stroke-width="0.9" fill="none"/>
<path d="M1758.4,139.3 Q1767.55,141.5 1776.7,139.3" stroke="#77a19e" stroke-width="1.1" fill="none"/>
<path d="M1758.4,97H1776.7" stroke="#77a19e" stroke-width="0.8" fill="none"/>
<rect x="1756.8" y="97.2" width="3.2" height="2" fill="#aed9d4" stroke="#77a19e" stroke-width="0.6"/>
<path d="M1758.4,60V140" stroke="#77a19e" stroke-width="0.7" fill="none"/>
<path d="M1776.7,139.3 Q1785.85,141.5 1795,139.3" stroke="#84abc1" stroke-width="1.1" fill="none"/>
<path d="M1776.7,97H1795" stroke="#84abc1" stroke-width="0.8" fill="none"/>
<rect x="1775.1" y="97.2" width="3.2" height="2" fill="#bfe2f3" stroke="#84abc1" stroke-width="0.6"/>
<path d="M1776.7,60V103 C1776.7,108 1780.7,110 1780.2,118.5 C1779.7,124.5 1776.7,128 1776.7,133 V140" stroke="#84abc1" stroke-width="0.9" fill="none"/>
<path d="M1797,138.8 Q1806.1,141 1815.2,138.8" stroke="#84abc1" stroke-width="1.1" fill="none"/>
<path d="M1797,97.5H1815.2" stroke="#84abc1" stroke-width="0.8" fill="none"/>
<path d="M1815.2,138.8 Q1824.3,141 1833.4,138.8" stroke="#84abc1" stroke-width="1.1" fill="none"/>
<path d="M1815.2,97.5H1833.4" stroke="#84abc1" stroke-width="0.8" fill="none"/>
<rect x="1813.6" y="97.7" width="3.2" height="2" fill="#bfe2f3" stroke="#84abc1" stroke-width="0.6"/>
<path d="M1815.2,60V103.5 C1815.2,108.5 1819.2,110.5 1818.7,118.5 C1818.2,124.5 1815.2,127.5 1815.2,132.5 V139.5" stroke="#84abc1" stroke-width="0.9" fill="none"/>
<path d="M1833.4,138.8 Q1842.35,141 1851.3,138.8" stroke="#84abc1" stroke-width="1.1" fill="none"/>
<path d="M1833.4,97.5H1851.3" stroke="#84abc1" stroke-width="0.8" fill="none"/>
<rect x="1831.8" y="97.7" width="3.2" height="2" fill="#bfe2f3" stroke="#84abc1" stroke-width="0.6"/>
<path d="M1833.4,60V139.5" stroke="#84abc1" stroke-width="0.7" fill="none"/>
<path d="M1851.3,138.8 Q1860.4,141 1869.5,138.8" stroke="#84abc1" stroke-width="1.1" fill="none"/>
<path d="M1851.3,97.5H1869.5" stroke="#84abc1" stroke-width="0.8" fill="none"/>
<rect x="1849.7" y="97.7" width="3.2" height="2" fill="#bfe2f3" stroke="#84abc1" stroke-width="0.6"/>
<path d="M1851.3,60V103.5 C1851.3,108.5 1855.3,110.5 1854.8,118.5 C1854.3,124.5 1851.3,127.5 1851.3,132.5 V139.5" stroke="#84abc1" stroke-width="0.9" fill="none"/>
<path d="M1869.5,138.8 Q1878.3,141 1887.1,138.8" stroke="#84abc1" stroke-width="1.1" fill="none"/>
<path d="M1869.5,97.5H1887.1" stroke="#84abc1" stroke-width="0.8" fill="none"/>
<rect x="1867.9" y="97.7" width="3.2" height="2" fill="#bfe2f3" stroke="#84abc1" stroke-width="0.6"/>
<path d="M1869.5,60V139.5" stroke="#84abc1" stroke-width="0.7" fill="none"/>
<path d="M1887.1,138.8 Q1896.2,141 1905.3,138.8" stroke="#84abc1" stroke-width="1.1" fill="none"/>
<path d="M1887.1,97.5H1905.3" stroke="#84abc1" stroke-width="0.8" fill="none"/>
<rect x="1885.5" y="97.7" width="3.2" height="2" fill="#bfe2f3" stroke="#84abc1" stroke-width="0.6"/>
<path d="M1887.1,60V103.5 C1887.1,108.5 1891.1,110.5 1890.6,118.5 C1890.1,124.5 1887.1,127.5 1887.1,132.5 V139.5" stroke="#84abc1" stroke-width="0.9" fill="none"/>
<path d="M1905.3,138.8 Q1914.25,141 1923.2,138.8" stroke="#84abc1" stroke-width="1.1" fill="none"/>
<path d="M1905.3,97.5H1923.2" stroke="#84abc1" stroke-width="0.8" fill="none"/>
<rect x="1903.7" y="97.7" width="3.2" height="2" fill="#bfe2f3" stroke="#84abc1" stroke-width="0.6"/>
<path d="M1905.3,60V139.5" stroke="#84abc1" stroke-width="0.7" fill="none"/>
<path d="M1923.2,138.8 Q1932.3,141 1941.4,138.8" stroke="#84abc1" stroke-width="1.1" fill="none"/>
<path d="M1923.2,97.5H1941.4" stroke="#84abc1" stroke-width="0.8" fill="none"/>
<rect x="1921.6" y="97.7" width="3.2" height="2" fill="#bfe2f3" stroke="#84abc1" stroke-width="0.6"/>
<path d="M1923.2,60V103.5 C1923.2,108.5 1927.2,110.5 1926.7,118.5 C1926.2,124.5 1923.2,127.5 1923.2,132.5 V139.5" stroke="#84abc1" stroke-width="0.9" fill="none"/>
<path d="M1941.4,138.8 Q1951.7,141 1962,138.8" stroke="#84abc1" stroke-width="1.1" fill="none"/>
<path d="M1941.4,97.5H1962" stroke="#84abc1" stroke-width="0.8" fill="none"/>
<rect x="1939.8" y="97.7" width="3.2" height="2" fill="#bfe2f3" stroke="#84abc1" stroke-width="0.6"/>
<path d="M1941.4,60V139.5" stroke="#84abc1" stroke-width="0.7" fill="none"/>
<path d="M1795,60V139.5M1797.2,60V139.5M1795,273V353M1797.2,273V353" stroke="#84abc1" stroke-width="0.8"/>
<path d="M112.7,287.7 Q122.5,285.5 132.3,287.7" stroke="#77a19e" stroke-width="1.1" fill="none"/>
<path d="M112.7,328.2H132.3" stroke="#77a19e" stroke-width="0.8" fill="none"/>
<path d="M132.3,287.7 Q141.4,285.5 150.5,287.7" stroke="#77a19e" stroke-width="1.1" fill="none"/>
<path d="M132.3,328.2H150.5" stroke="#77a19e" stroke-width="0.8" fill="none"/>
<rect x="130.7" y="326" width="3.2" height="2" fill="#aed9d4" stroke="#77a19e" stroke-width="0.6"/>
<path d="M132.3,287V294 C132.3,299 135.3,301 135.8,307.6 C136.3,313.6 132.3,315.2 132.3,322.2 V352" stroke="#77a19e" stroke-width="0.9" fill="none"/>
<path d="M150.5,287.7 Q159.3,285.5 168.1,287.7" stroke="#77a19e" stroke-width="1.1" fill="none"/>
<path d="M150.5,328.2H168.1" stroke="#77a19e" stroke-width="0.8" fill="none"/>
<rect x="148.9" y="326" width="3.2" height="2" fill="#aed9d4" stroke="#77a19e" stroke-width="0.6"/>
<path d="M150.5,287V352" stroke="#77a19e" stroke-width="0.7" fill="none"/>
<path d="M168.1,287.7 Q176.9,285.5 185.7,287.7" stroke="#77a19e" stroke-width="1.1" fill="none"/>
<path d="M168.1,328.2H185.7" stroke="#77a19e" stroke-width="0.8" fill="none"/>
<rect x="166.5" y="326" width="3.2" height="2" fill="#aed9d4" stroke="#77a19e" stroke-width="0.6"/>
<path d="M168.1,287V294 C168.1,299 171.1,301 171.6,307.6 C172.1,313.6 168.1,315.2 168.1,322.2 V352" stroke="#77a19e" stroke-width="0.9" fill="none"/>
<path d="M185.7,287.7 Q194.2,285.5 202.7,287.7" stroke="#77a19e" stroke-width="1.1" fill="none"/>
<path d="M185.7,328.2H202.7" stroke="#77a19e" stroke-width="0.8" fill="none"/>
<rect x="184.1" y="326" width="3.2" height="2" fill="#aed9d4" stroke="#77a19e" stroke-width="0.6"/>
<path d="M185.7,287V352" stroke="#77a19e" stroke-width="0.7" fill="none"/>
<path d="M202.7,287.7 Q211.8,285.5 220.9,287.7" stroke="#77a19e" stroke-width="1.1" fill="none"/>
<path d="M202.7,328.2H220.9" stroke="#77a19e" stroke-width="0.8" fill="none"/>
<rect x="201.1" y="326" width="3.2" height="2" fill="#aed9d4" stroke="#77a19e" stroke-width="0.6"/>
<path d="M202.7,287V294 C202.7,299 205.7,301 206.2,307.6 C206.7,313.6 202.7,315.2 202.7,322.2 V352" stroke="#77a19e" stroke-width="0.9" fill="none"/>
<path d="M220.9,287.7 Q230.1,285.5 239.3,287.7" stroke="#77a19e" stroke-width="1.1" fill="none"/>
<path d="M220.9,328.2H239.3" stroke="#77a19e" stroke-width="0.8" fill="none"/>
<rect x="219.3" y="326" width="3.2" height="2" fill="#aed9d4" stroke="#77a19e" stroke-width="0.6"/>
<path d="M220.9,287V352" stroke="#77a19e" stroke-width="0.7" fill="none"/>
<path d="M239.3,287.7 Q248.35,285.5 257.4,287.7" stroke="#77a19e" stroke-width="1.1" fill="none"/>
<path d="M239.3,328.2H257.4" stroke="#77a19e" stroke-width="0.8" fill="none"/>
<rect x="237.7" y="326" width="3.2" height="2" fill="#aed9d4" stroke="#77a19e" stroke-width="0.6"/>
<path d="M239.3,287V294 C239.3,299 242.3,301 242.8,307.6 C243.3,313.6 239.3,315.2 239.3,322.2 V352" stroke="#77a19e" stroke-width="0.9" fill="none"/>
<path d="M257.4,287.7 Q266.2,285.5 275,287.7" stroke="#77a19e" stroke-width="1.1" fill="none"/>
<path d="M257.4,328.2H275" stroke="#77a19e" stroke-width="0.8" fill="none"/>
<rect x="255.8" y="326" width="3.2" height="2" fill="#aed9d4" stroke="#77a19e" stroke-width="0.6"/>
<path d="M257.4,287V352" stroke="#77a19e" stroke-width="0.7" fill="none"/>
<path d="M275,287.7 Q284.3,285.5 293.6,287.7" stroke="#77a19e" stroke-width="1.1" fill="none"/>
<path d="M275,328.2H293.6" stroke="#77a19e" stroke-width="0.8" fill="none"/>
<rect x="273.4" y="326" width="3.2" height="2" fill="#aed9d4" stroke="#77a19e" stroke-width="0.6"/>
<path d="M275,287V294 C275,299 278,301 278.5,307.6 C279,313.6 275,315.2 275,322.2 V352" stroke="#77a19e" stroke-width="0.9" fill="none"/>
<path d="M293.6,287.7 Q307,285.5 320.4,287.7" stroke="#77a19e" stroke-width="1.1" fill="none"/>
<path d="M293.6,328.2H320.4" stroke="#77a19e" stroke-width="0.8" fill="none"/>
<rect x="292" y="326" width="3.2" height="2" fill="#aed9d4" stroke="#77a19e" stroke-width="0.6"/>
<path d="M293.6,287V352" stroke="#77a19e" stroke-width="0.7" fill="none"/>
<path d="M320.4,287.7 Q333.85,285.5 347.3,287.7" stroke="#77a19e" stroke-width="1.1" fill="none"/>
<path d="M320.4,328.2H347.3" stroke="#77a19e" stroke-width="0.8" fill="none"/>
<rect x="318.8" y="326" width="3.2" height="2" fill="#aed9d4" stroke="#77a19e" stroke-width="0.6"/>
<path d="M320.4,287V352" stroke="#77a19e" stroke-width="0.7" fill="none"/>
<path d="M349.9,277.9 Q359.25,275.7 368.6,277.9" stroke="#94ad64" stroke-width="1.1" fill="none"/>
<path d="M349.9,328.9H368.6" stroke="#94ad64" stroke-width="0.8" fill="none"/>
<path d="M368.6,277.9 Q377.4,275.7 386.2,277.9" stroke="#94ad64" stroke-width="1.1" fill="none"/>
<path d="M368.6,328.9H386.2" stroke="#94ad64" stroke-width="0.8" fill="none"/>
<rect x="367" y="326.7" width="3.2" height="2" fill="#c3dc88" stroke="#94ad64" stroke-width="0.6"/>
<path d="M368.6,277.2V284.2 C368.6,289.2 371.6,291.2 372.1,303.05 C372.6,309.05 368.6,315.9 368.6,322.9 V352" stroke="#94ad64" stroke-width="0.9" fill="none"/>
<path d="M386.2,277.9 Q395.35,275.7 404.5,277.9" stroke="#94ad64" stroke-width="1.1" fill="none"/>
<path d="M386.2,328.9H404.5" stroke="#94ad64" stroke-width="0.8" fill="none"/>
<rect x="384.6" y="326.7" width="3.2" height="2" fill="#c3dc88" stroke="#94ad64" stroke-width="0.6"/>
<path d="M386.2,277.2V352" stroke="#94ad64" stroke-width="0.7" fill="none"/>
<path d="M404.5,277.9 Q413.5,275.7 422.5,277.9" stroke="#94ad64" stroke-width="1.1" fill="none"/>
<path d="M404.5,328.9H422.5" stroke="#94ad64" stroke-width="0.8" fill="none"/>
<rect x="402.9" y="326.7" width="3.2" height="2" fill="#c3dc88" stroke="#94ad64" stroke-width="0.6"/>
<path d="M404.5,277.2V284.2 C404.5,289.2 407.5,291.2 408,303.05 C408.5,309.05 404.5,315.9 404.5,322.9 V352" stroke="#94ad64" stroke-width="0.9" fill="none"/>
<path d="M422.5,277.9 Q431.3,275.7 440.1,277.9" stroke="#94ad64" stroke-width="1.1" fill="none"/>
<path d="M422.5,328.9H440.1" stroke="#94ad64" stroke-width="0.8" fill="none"/>
<rect x="420.9" y="326.7" width="3.2" height="2" fill="#c3dc88" stroke="#94ad64" stroke-width="0.6"/>
<path d="M422.5,277.2V352" stroke="#94ad64" stroke-width="0.7" fill="none"/>
<path d="M440.1,277.9 Q449.1,275.7 458.1,277.9" stroke="#94ad64" stroke-width="1.1" fill="none"/>
<path d="M440.1,328.9H458.1" stroke="#94ad64" stroke-width="0.8" fill="none"/>
<rect x="438.5" y="326.7" width="3.2" height="2" fill="#c3dc88" stroke="#94ad64" stroke-width="0.6"/>
<path d="M440.1,277.2V284.2 C440.1,289.2 443.1,291.2 443.6,303.05 C444.1,309.05 440.1,315.9 440.1,322.9 V352" stroke="#94ad64" stroke-width="0.9" fill="none"/>
<path d="M458.1,277.9 Q466.9,275.7 475.7,277.9" stroke="#94ad64" stroke-width="1.1" fill="none"/>
<path d="M458.1,328.9H475.7" stroke="#94ad64" stroke-width="0.8" fill="none"/>
<rect x="456.5" y="326.7" width="3.2" height="2" fill="#c3dc88" stroke="#94ad64" stroke-width="0.6"/>
<path d="M458.1,277.2V352" stroke="#94ad64" stroke-width="0.7" fill="none"/>
<path d="M475.7,277.9 Q484.55,275.7 493.4,277.9" stroke="#94ad64" stroke-width="1.1" fill="none"/>
<path d="M475.7,328.9H493.4" stroke="#94ad64" stroke-width="0.8" fill="none"/>
<rect x="474.1" y="326.7" width="3.2" height="2" fill="#c3dc88" stroke="#94ad64" stroke-width="0.6"/>
<path d="M475.7,277.2V284.2 C475.7,289.2 478.7,291.2 479.2,303.05 C479.7,309.05 475.7,315.9 475.7,322.9 V352" stroke="#94ad64" stroke-width="0.9" fill="none"/>
<path d="M493.4,277.9 Q502.3,275.7 511.2,277.9" stroke="#94ad64" stroke-width="1.1" fill="none"/>
<path d="M493.4,328.9H511.2" stroke="#94ad64" stroke-width="0.8" fill="none"/>
<rect x="491.8" y="326.7" width="3.2" height="2" fill="#c3dc88" stroke="#94ad64" stroke-width="0.6"/>
<path d="M493.4,277.2V352" stroke="#94ad64" stroke-width="0.7" fill="none"/>
<path d="M511.2,277.9 Q520.2,275.7 529.2,277.9" stroke="#94ad64" stroke-width="1.1" fill="none"/>
<path d="M511.2,328.9H529.2" stroke="#94ad64" stroke-width="0.8" fill="none"/>
<rect x="509.6" y="326.7" width="3.2" height="2" fill="#c3dc88" stroke="#94ad64" stroke-width="0.6"/>
<path d="M511.2,277.2V284.2 C511.2,289.2 514.2,291.2 514.7,303.05 C515.2,309.05 511.2,315.9 511.2,322.9 V352" stroke="#94ad64" stroke-width="0.9" fill="none"/>
<path d="M529.2,273.2 Q538,271 546.8,273.2" stroke="#84abc1" stroke-width="1.1" fill="none"/>
<path d="M529.2,315.2H546.8" stroke="#84abc1" stroke-width="0.8" fill="none"/>
<path d="M546.8,273.2 Q555.95,271 565.1,273.2" stroke="#77a19e" stroke-width="1.1" fill="none"/>
<path d="M546.8,315.2H565.1" stroke="#77a19e" stroke-width="0.8" fill="none"/>
<rect x="545.2" y="313" width="3.2" height="2" fill="#aed9d4" stroke="#77a19e" stroke-width="0.6"/>
<path d="M546.8,272.5V279.5 C546.8,284.5 549.8,286.5 550.3,293.85 C550.8,299.85 546.8,302.2 546.8,309.2 V352" stroke="#77a19e" stroke-width="0.9" fill="none"/>
<path d="M565.1,273.2 Q573.9,271 582.7,273.2" stroke="#77a19e" stroke-width="1.1" fill="none"/>
<path d="M565.1,315.2H582.7" stroke="#77a19e" stroke-width="0.8" fill="none"/>
<rect x="563.5" y="313" width="3.2" height="2" fill="#aed9d4" stroke="#77a19e" stroke-width="0.6"/>
<path d="M565.1,272.5V352" stroke="#77a19e" stroke-width="0.7" fill="none"/>
<path d="M582.7,273.2 Q592.05,271 601.4,273.2" stroke="#77a19e" stroke-width="1.1" fill="none"/>
<path d="M582.7,315.2H601.4" stroke="#77a19e" stroke-width="0.8" fill="none"/>
<rect x="581.1" y="313" width="3.2" height="2" fill="#aed9d4" stroke="#77a19e" stroke-width="0.6"/>
<path d="M582.7,272.5V279.5 C582.7,284.5 585.7,286.5 586.2,293.85 C586.7,299.85 582.7,302.2 582.7,309.2 V352" stroke="#77a19e" stroke-width="0.9" fill="none"/>
<path d="M601.4,273.2 Q610.2,271 619,273.2" stroke="#77a19e" stroke-width="1.1" fill="none"/>
<path d="M601.4,315.2H619" stroke="#77a19e" stroke-width="0.8" fill="none"/>
<rect x="599.8" y="313" width="3.2" height="2" fill="#aed9d4" stroke="#77a19e" stroke-width="0.6"/>
<path d="M601.4,272.5V352" stroke="#77a19e" stroke-width="0.7" fill="none"/>
<path d="M619,273.2 Q628,271 637,273.2" stroke="#84abc1" stroke-width="1.1" fill="none"/>
<path d="M619,315.2H637" stroke="#84abc1" stroke-width="0.8" fill="none"/>
<rect x="617.4" y="313" width="3.2" height="2" fill="#bfe2f3" stroke="#84abc1" stroke-width="0.6"/>
<path d="M619,272.5V279.5 C619,284.5 622,286.5 622.5,293.85 C623,299.85 619,302.2 619,309.2 V352" stroke="#84abc1" stroke-width="0.9" fill="none"/>
<path d="M640.3,287.4 Q648.7,285.2 657.1,287.4" stroke="#77a19e" stroke-width="1.1" fill="none"/>
<path d="M640.3,329.5H657.1" stroke="#77a19e" stroke-width="0.8" fill="none"/>
<path d="M657.1,287.4 Q666.55,285.2 676,287.4" stroke="#77a19e" stroke-width="1.1" fill="none"/>
<path d="M657.1,329.5H676" stroke="#77a19e" stroke-width="0.8" fill="none"/>
<rect x="655.5" y="327.3" width="3.2" height="2" fill="#aed9d4" stroke="#77a19e" stroke-width="0.6"/>
<path d="M657.1,286.7V293.7 C657.1,298.7 660.1,300.7 660.6,308.1 C661.1,314.1 657.1,316.5 657.1,323.5 V352" stroke="#77a19e" stroke-width="0.9" fill="none"/>
<path d="M676,287.4 Q684.65,285.2 693.3,287.4" stroke="#77a19e" stroke-width="1.1" fill="none"/>
<path d="M676,329.5H693.3" stroke="#77a19e" stroke-width="0.8" fill="none"/>
<rect x="674.4" y="327.3" width="3.2" height="2" fill="#aed9d4" stroke="#77a19e" stroke-width="0.6"/>
<path d="M676,286.7V352" stroke="#77a19e" stroke-width="0.7" fill="none"/>
<path d="M693.3,287.4 Q702.25,285.2 711.2,287.4" stroke="#77a19e" stroke-width="1.1" fill="none"/>
<path d="M693.3,329.5H711.2" stroke="#77a19e" stroke-width="0.8" fill="none"/>
<rect x="691.7" y="327.3" width="3.2" height="2" fill="#aed9d4" stroke="#77a19e" stroke-width="0.6"/>
<path d="M693.3,286.7V293.7 C693.3,298.7 696.3,300.7 696.8,308.1 C697.3,314.1 693.3,316.5 693.3,323.5 V352" stroke="#77a19e" stroke-width="0.9" fill="none"/>
<path d="M711.2,287.4 Q720,285.2 728.8,287.4" stroke="#77a19e" stroke-width="1.1" fill="none"/>
<path d="M711.2,329.5H728.8" stroke="#77a19e" stroke-width="0.8" fill="none"/>
<rect x="709.6" y="327.3" width="3.2" height="2" fill="#aed9d4" stroke="#77a19e" stroke-width="0.6"/>
<path d="M711.2,286.7V352" stroke="#77a19e" stroke-width="0.7" fill="none"/>
<path d="M728.8,287.4 Q737.85,285.2 746.9,287.4" stroke="#77a19e" stroke-width="1.1" fill="none"/>
<path d="M728.8,329.5H746.9" stroke="#77a19e" stroke-width="0.8" fill="none"/>
<rect x="727.2" y="327.3" width="3.2" height="2" fill="#aed9d4" stroke="#77a19e" stroke-width="0.6"/>
<path d="M728.8,286.7V293.7 C728.8,298.7 731.8,300.7 732.3,308.1 C732.8,314.1 728.8,316.5 728.8,323.5 V352" stroke="#77a19e" stroke-width="0.9" fill="none"/>
<path d="M746.9,287.4 Q755.7,285.2 764.5,287.4" stroke="#77a19e" stroke-width="1.1" fill="none"/>
<path d="M746.9,329.5H764.5" stroke="#77a19e" stroke-width="0.8" fill="none"/>
<rect x="745.3" y="327.3" width="3.2" height="2" fill="#aed9d4" stroke="#77a19e" stroke-width="0.6"/>
<path d="M746.9,286.7V352" stroke="#77a19e" stroke-width="0.7" fill="none"/>
<path d="M764.5,287.4 Q773.5,285.2 782.5,287.4" stroke="#77a19e" stroke-width="1.1" fill="none"/>
<path d="M764.5,329.5H782.5" stroke="#77a19e" stroke-width="0.8" fill="none"/>
<rect x="762.9" y="327.3" width="3.2" height="2" fill="#aed9d4" stroke="#77a19e" stroke-width="0.6"/>
<path d="M764.5,286.7V293.7 C764.5,298.7 767.5,300.7 768,308.1 C768.5,314.1 764.5,316.5 764.5,323.5 V352" stroke="#77a19e" stroke-width="0.9" fill="none"/>
<path d="M782.5,287.4 Q791.3,285.2 800.1,287.4" stroke="#77a19e" stroke-width="1.1" fill="none"/>
<path d="M782.5,329.5H800.1" stroke="#77a19e" stroke-width="0.8" fill="none"/>
<rect x="780.9" y="327.3" width="3.2" height="2" fill="#aed9d4" stroke="#77a19e" stroke-width="0.6"/>
<path d="M782.5,286.7V352" stroke="#77a19e" stroke-width="0.7" fill="none"/>
<path d="M800.1,287.4 Q809.15,285.2 818.2,287.4" stroke="#77a19e" stroke-width="1.1" fill="none"/>
<path d="M800.1,329.5H818.2" stroke="#77a19e" stroke-width="0.8" fill="none"/>
<rect x="798.5" y="327.3" width="3.2" height="2" fill="#aed9d4" stroke="#77a19e" stroke-width="0.6"/>
<path d="M800.1,286.7V293.7 C800.1,298.7 803.1,300.7 803.6,308.1 C804.1,314.1 800.1,316.5 800.1,323.5 V352" stroke="#77a19e" stroke-width="0.9" fill="none"/>
<path d="M818.2,287.4 Q827.3,285.2 836.4,287.4" stroke="#77a19e" stroke-width="1.1" fill="none"/>
<path d="M818.2,329.5H836.4" stroke="#77a19e" stroke-width="0.8" fill="none"/>
<rect x="816.6" y="327.3" width="3.2" height="2" fill="#aed9d4" stroke="#77a19e" stroke-width="0.6"/>
<path d="M818.2,286.7V352" stroke="#77a19e" stroke-width="0.7" fill="none"/>
<path d="M836.4,287.4 Q845.2,285.2 854,287.4" stroke="#77a19e" stroke-width="1.1" fill="none"/>
<path d="M836.4,329.5H854" stroke="#77a19e" stroke-width="0.8" fill="none"/>
<rect x="834.8" y="327.3" width="3.2" height="2" fill="#aed9d4" stroke="#77a19e" stroke-width="0.6"/>
<path d="M836.4,286.7V293.7 C836.4,298.7 839.4,300.7 839.9,308.1 C840.4,314.1 836.4,316.5 836.4,323.5 V352" stroke="#77a19e" stroke-width="0.9" fill="none"/>
<path d="M854,287.4 Q863.15,285.2 872.3,287.4" stroke="#77a19e" stroke-width="1.1" fill="none"/>
<path d="M854,329.5H872.3" stroke="#77a19e" stroke-width="0.8" fill="none"/>
<rect x="852.4" y="327.3" width="3.2" height="2" fill="#aed9d4" stroke="#77a19e" stroke-width="0.6"/>
<path d="M854,286.7V352" stroke="#77a19e" stroke-width="0.7" fill="none"/>
<path d="M872.3,287.4 Q881.3,285.2 890.3,287.4" stroke="#77a19e" stroke-width="1.1" fill="none"/>
<path d="M872.3,329.5H890.3" stroke="#77a19e" stroke-width="0.8" fill="none"/>
<rect x="870.7" y="327.3" width="3.2" height="2" fill="#aed9d4" stroke="#77a19e" stroke-width="0.6"/>
<path d="M872.3,286.7V293.7 C872.3,298.7 875.3,300.7 875.8,308.1 C876.3,314.1 872.3,316.5 872.3,323.5 V352" stroke="#77a19e" stroke-width="0.9" fill="none"/>
<path d="M890.3,287.4 Q899.25,285.2 908.2,287.4" stroke="#77a19e" stroke-width="1.1" fill="none"/>
<path d="M890.3,329.5H908.2" stroke="#77a19e" stroke-width="0.8" fill="none"/>
<rect x="888.7" y="327.3" width="3.2" height="2" fill="#aed9d4" stroke="#77a19e" stroke-width="0.6"/>
<path d="M890.3,286.7V352" stroke="#77a19e" stroke-width="0.7" fill="none"/>
<path d="M908.2,287.4 Q917.85,285.2 927.5,287.4" stroke="#77a19e" stroke-width="1.1" fill="none"/>
<path d="M908.2,329.5H927.5" stroke="#77a19e" stroke-width="0.8" fill="none"/>
<rect x="906.6" y="327.3" width="3.2" height="2" fill="#aed9d4" stroke="#77a19e" stroke-width="0.6"/>
<path d="M908.2,286.7V293.7 C908.2,298.7 911.2,300.7 911.7,308.1 C912.2,314.1 908.2,316.5 908.2,323.5 V352" stroke="#77a19e" stroke-width="0.9" fill="none"/>
<path d="M927.5,287.4 Q937.1,285.2 946.7,287.4" stroke="#77a19e" stroke-width="1.1" fill="none"/>
<path d="M927.5,329.5H946.7" stroke="#77a19e" stroke-width="0.8" fill="none"/>
<rect x="925.9" y="327.3" width="3.2" height="2" fill="#aed9d4" stroke="#77a19e" stroke-width="0.6"/>
<path d="M926.4,286.7V352M928.6,286.7V352" stroke="#77a19e" stroke-width="0.8" fill="none"/>
<path d="M946.7,287.4 Q955.7,285.2 964.7,287.4" stroke="#77a19e" stroke-width="1.1" fill="none"/>
<path d="M946.7,329.5H964.7" stroke="#77a19e" stroke-width="0.8" fill="none"/>
<rect x="945.1" y="327.3" width="3.2" height="2" fill="#aed9d4" stroke="#77a19e" stroke-width="0.6"/>
<path d="M946.7,286.7V293.7 C946.7,298.7 949.7,300.7 950.2,308.1 C950.7,314.1 946.7,316.5 946.7,323.5 V352" stroke="#77a19e" stroke-width="0.9" fill="none"/>
<path d="M964.7,287.4 Q973.5,285.2 982.3,287.4" stroke="#77a19e" stroke-width="1.1" fill="none"/>
<path d="M964.7,329.5H982.3" stroke="#77a19e" stroke-width="0.8" fill="none"/>
<rect x="963.1" y="327.3" width="3.2" height="2" fill="#aed9d4" stroke="#77a19e" stroke-width="0.6"/>
<path d="M964.7,286.7V352" stroke="#77a19e" stroke-width="0.7" fill="none"/>
<path d="M982.3,287.4 Q991.45,285.2 1000.6,287.4" stroke="#77a19e" stroke-width="1.1" fill="none"/>
<path d="M982.3,329.5H1000.6" stroke="#77a19e" stroke-width="0.8" fill="none"/>
<rect x="980.7" y="327.3" width="3.2" height="2" fill="#aed9d4" stroke="#77a19e" stroke-width="0.6"/>
<path d="M982.3,286.7V293.7 C982.3,298.7 985.3,300.7 985.8,308.1 C986.3,314.1 982.3,316.5 982.3,323.5 V352" stroke="#77a19e" stroke-width="0.9" fill="none"/>
<path d="M1000.8,273.2 Q1009.9,271 1019,273.2" stroke="#84abc1" stroke-width="1.1" fill="none"/>
<path d="M1000.8,315.2H1019" stroke="#84abc1" stroke-width="0.8" fill="none"/>
<path d="M1019,273.2 Q1027.85,271 1036.7,273.2" stroke="#77a19e" stroke-width="1.1" fill="none"/>
<path d="M1019,315.2H1036.7" stroke="#77a19e" stroke-width="0.8" fill="none"/>
<rect x="1017.4" y="313" width="3.2" height="2" fill="#aed9d4" stroke="#77a19e" stroke-width="0.6"/>
<path d="M1019,272.5V279.5 C1019,284.5 1022,286.5 1022.5,293.85 C1023,299.85 1019,302.2 1019,309.2 V352" stroke="#77a19e" stroke-width="0.9" fill="none"/>
<path d="M1036.7,273.2 Q1045.5,271 1054.3,273.2" stroke="#77a19e" stroke-width="1.1" fill="none"/>
<path d="M1036.7,315.2H1054.3" stroke="#77a19e" stroke-width="0.8" fill="none"/>
<rect x="1035.1" y="313" width="3.2" height="2" fill="#aed9d4" stroke="#77a19e" stroke-width="0.6"/>
<path d="M1036.7,272.5V352" stroke="#77a19e" stroke-width="0.7" fill="none"/>
<path d="M1054.3,273.2 Q1063.3,271 1072.3,273.2" stroke="#77a19e" stroke-width="1.1" fill="none"/>
<path d="M1054.3,315.2H1072.3" stroke="#77a19e" stroke-width="0.8" fill="none"/>
<rect x="1052.7" y="313" width="3.2" height="2" fill="#aed9d4" stroke="#77a19e" stroke-width="0.6"/>
<path d="M1054.3,272.5V279.5 C1054.3,284.5 1057.3,286.5 1057.8,293.85 C1058.3,299.85 1054.3,302.2 1054.3,309.2 V352" stroke="#77a19e" stroke-width="0.9" fill="none"/>
<path d="M1072.3,273.2 Q1081.2,271 1090.1,273.2" stroke="#77a19e" stroke-width="1.1" fill="none"/>
<path d="M1072.3,315.2H1090.1" stroke="#77a19e" stroke-width="0.8" fill="none"/>
<rect x="1070.7" y="313" width="3.2" height="2" fill="#aed9d4" stroke="#77a19e" stroke-width="0.6"/>
<path d="M1072.3,272.5V352" stroke="#77a19e" stroke-width="0.7" fill="none"/>
<path d="M1090.1,273.2 Q1099.25,271 1108.4,273.2" stroke="#77a19e" stroke-width="1.1" fill="none"/>
<path d="M1090.1,315.2H1108.4" stroke="#77a19e" stroke-width="0.8" fill="none"/>
<rect x="1088.5" y="313" width="3.2" height="2" fill="#aed9d4" stroke="#77a19e" stroke-width="0.6"/>
<path d="M1090.1,272.5V279.5 C1090.1,284.5 1093.1,286.5 1093.6,293.85 C1094.1,299.85 1090.1,302.2 1090.1,309.2 V352" stroke="#77a19e" stroke-width="0.9" fill="none"/>
<path d="M1108.4,273.2 Q1117.2,271 1126,273.2" stroke="#77a19e" stroke-width="1.1" fill="none"/>
<path d="M1108.4,315.2H1126" stroke="#77a19e" stroke-width="0.8" fill="none"/>
<rect x="1106.8" y="313" width="3.2" height="2" fill="#aed9d4" stroke="#77a19e" stroke-width="0.6"/>
<path d="M1108.4,272.5V352" stroke="#77a19e" stroke-width="0.7" fill="none"/>
<path d="M1126,273.2 Q1135.15,271 1144.3,273.2" stroke="#77a19e" stroke-width="1.1" fill="none"/>
<path d="M1126,315.2H1144.3" stroke="#77a19e" stroke-width="0.8" fill="none"/>
<rect x="1124.4" y="313" width="3.2" height="2" fill="#aed9d4" stroke="#77a19e" stroke-width="0.6"/>
<path d="M1126,272.5V279.5 C1126,284.5 1129,286.5 1129.5,293.85 C1130,299.85 1126,302.2 1126,309.2 V352" stroke="#77a19e" stroke-width="0.9" fill="none"/>
<path d="M1144.3,273.2 Q1153.1,271 1161.9,273.2" stroke="#77a19e" stroke-width="1.1" fill="none"/>
<path d="M1144.3,315.2H1161.9" stroke="#77a19e" stroke-width="0.8" fill="none"/>
<rect x="1142.7" y="313" width="3.2" height="2" fill="#aed9d4" stroke="#77a19e" stroke-width="0.6"/>
<path d="M1144.3,272.5V352" stroke="#77a19e" stroke-width="0.7" fill="none"/>
<path d="M1161.9,273.2 Q1170.9,271 1179.9,273.2" stroke="#77a19e" stroke-width="1.1" fill="none"/>
<path d="M1161.9,315.2H1179.9" stroke="#77a19e" stroke-width="0.8" fill="none"/>
<rect x="1160.3" y="313" width="3.2" height="2" fill="#aed9d4" stroke="#77a19e" stroke-width="0.6"/>
<path d="M1161.9,272.5V279.5 C1161.9,284.5 1164.9,286.5 1165.4,293.85 C1165.9,299.85 1161.9,302.2 1161.9,309.2 V352" stroke="#77a19e" stroke-width="0.9" fill="none"/>
<path d="M1179.9,273.2 Q1188.7,271 1197.5,273.2" stroke="#77a19e" stroke-width="1.1" fill="none"/>
<path d="M1179.9,315.2H1197.5" stroke="#77a19e" stroke-width="0.8" fill="none"/>
<rect x="1178.3" y="313" width="3.2" height="2" fill="#aed9d4" stroke="#77a19e" stroke-width="0.6"/>
<path d="M1179.9,272.5V352" stroke="#77a19e" stroke-width="0.7" fill="none"/>
<path d="M1197.5,273.2 Q1207.65,271 1217.8,273.2" stroke="#77a19e" stroke-width="1.1" fill="none"/>
<path d="M1197.5,315.2H1217.8" stroke="#77a19e" stroke-width="0.8" fill="none"/>
<rect x="1195.9" y="313" width="3.2" height="2" fill="#aed9d4" stroke="#77a19e" stroke-width="0.6"/>
<path d="M1197.5,272.5V279.5 C1197.5,284.5 1200.5,286.5 1201,293.85 C1201.5,299.85 1197.5,302.2 1197.5,309.2 V352" stroke="#77a19e" stroke-width="0.9" fill="none"/>
<path d="M1217.8,273.2 Q1227.25,271 1236.7,273.2" stroke="#77a19e" stroke-width="1.1" fill="none"/>
<path d="M1217.8,315.2H1236.7" stroke="#77a19e" stroke-width="0.8" fill="none"/>
<rect x="1216.2" y="313" width="3.2" height="2" fill="#aed9d4" stroke="#77a19e" stroke-width="0.6"/>
<path d="M1216.7,272.5V352M1218.9,272.5V352" stroke="#77a19e" stroke-width="0.8" fill="none"/>
<path d="M1236.7,273.2 Q1245.75,271 1254.8,273.2" stroke="#77a19e" stroke-width="1.1" fill="none"/>
<path d="M1236.7,315.2H1254.8" stroke="#77a19e" stroke-width="0.8" fill="none"/>
<rect x="1235.1" y="313" width="3.2" height="2" fill="#aed9d4" stroke="#77a19e" stroke-width="0.6"/>
<path d="M1236.7,272.5V279.5 C1236.7,284.5 1239.7,286.5 1240.2,293.85 C1240.7,299.85 1236.7,302.2 1236.7,309.2 V352" stroke="#77a19e" stroke-width="0.9" fill="none"/>
<path d="M1254.8,273.2 Q1263.7,271 1272.6,273.2" stroke="#77a19e" stroke-width="1.1" fill="none"/>
<path d="M1254.8,315.2H1272.6" stroke="#77a19e" stroke-width="0.8" fill="none"/>
<rect x="1253.2" y="313" width="3.2" height="2" fill="#aed9d4" stroke="#77a19e" stroke-width="0.6"/>
<path d="M1254.8,272.5V352" stroke="#77a19e" stroke-width="0.7" fill="none"/>
<path d="M1272.6,273.2 Q1281.6,271 1290.6,273.2" stroke="#77a19e" stroke-width="1.1" fill="none"/>
<path d="M1272.6,315.2H1290.6" stroke="#77a19e" stroke-width="0.8" fill="none"/>
<rect x="1271" y="313" width="3.2" height="2" fill="#aed9d4" stroke="#77a19e" stroke-width="0.6"/>
<path d="M1272.6,272.5V279.5 C1272.6,284.5 1275.6,286.5 1276.1,293.85 C1276.6,299.85 1272.6,302.2 1272.6,309.2 V352" stroke="#77a19e" stroke-width="0.9" fill="none"/>
<path d="M1290.6,273.2 Q1299.6,271 1308.6,273.2" stroke="#77a19e" stroke-width="1.1" fill="none"/>
<path d="M1290.6,315.2H1308.6" stroke="#77a19e" stroke-width="0.8" fill="none"/>
<rect x="1289" y="313" width="3.2" height="2" fill="#aed9d4" stroke="#77a19e" stroke-width="0.6"/>
<path d="M1290.6,272.5V352" stroke="#77a19e" stroke-width="0.7" fill="none"/>
<path d="M1308.6,273.2 Q1317.75,271 1326.9,273.2" stroke="#77a19e" stroke-width="1.1" fill="none"/>
<path d="M1308.6,315.2H1326.9" stroke="#77a19e" stroke-width="0.8" fill="none"/>
<rect x="1307" y="313" width="3.2" height="2" fill="#aed9d4" stroke="#77a19e" stroke-width="0.6"/>
<path d="M1308.6,272.5V279.5 C1308.6,284.5 1311.6,286.5 1312.1,293.85 C1312.6,299.85 1308.6,302.2 1308.6,309.2 V352" stroke="#77a19e" stroke-width="0.9" fill="none"/>
<path d="M1326.9,278.1 Q1335.7,275.9 1344.5,278.1" stroke="#84abc1" stroke-width="1.1" fill="none"/>
<path d="M1326.9,319H1344.5" stroke="#84abc1" stroke-width="0.8" fill="none"/>
<rect x="1325.3" y="316.8" width="3.2" height="2" fill="#bfe2f3" stroke="#84abc1" stroke-width="0.6"/>
<path d="M1326.9,277.4V352" stroke="#84abc1" stroke-width="0.7" fill="none"/>
<path d="M1344.5,278.1 Q1353.3,275.9 1362.1,278.1" stroke="#84abc1" stroke-width="1.1" fill="none"/>
<path d="M1344.5,319H1362.1" stroke="#84abc1" stroke-width="0.8" fill="none"/>
<rect x="1342.9" y="316.8" width="3.2" height="2" fill="#bfe2f3" stroke="#84abc1" stroke-width="0.6"/>
<path d="M1344.5,277.4V284.4 C1344.5,289.4 1347.5,291.4 1348,298.2 C1348.5,304.2 1344.5,306 1344.5,313 V352" stroke="#84abc1" stroke-width="0.9" fill="none"/>
<path d="M1362.1,278.2 Q1370.9,276 1379.7,278.2" stroke="#94ad64" stroke-width="1.1" fill="none"/>
<path d="M1362.1,329H1379.7" stroke="#94ad64" stroke-width="0.8" fill="none"/>
<path d="M1379.7,278.2 Q1388.85,276 1398,278.2" stroke="#94ad64" stroke-width="1.1" fill="none"/>
<path d="M1379.7,329H1398" stroke="#94ad64" stroke-width="0.8" fill="none"/>
<rect x="1378.1" y="326.8" width="3.2" height="2" fill="#c3dc88" stroke="#94ad64" stroke-width="0.6"/>
<path d="M1379.7,277.5V284.5 C1379.7,289.5 1382.7,291.5 1383.2,303.25 C1383.7,309.25 1379.7,316 1379.7,323 V352" stroke="#94ad64" stroke-width="0.9" fill="none"/>
<path d="M1398,278.2 Q1407,276 1416,278.2" stroke="#94ad64" stroke-width="1.1" fill="none"/>
<path d="M1398,329H1416" stroke="#94ad64" stroke-width="0.8" fill="none"/>
<rect x="1396.4" y="326.8" width="3.2" height="2" fill="#c3dc88" stroke="#94ad64" stroke-width="0.6"/>
<path d="M1398,277.5V352" stroke="#94ad64" stroke-width="0.7" fill="none"/>
<path d="M1416,278.2 Q1425,276 1434,278.2" stroke="#94ad64" stroke-width="1.1" fill="none"/>
<path d="M1416,329H1434" stroke="#94ad64" stroke-width="0.8" fill="none"/>
<rect x="1414.4" y="326.8" width="3.2" height="2" fill="#c3dc88" stroke="#94ad64" stroke-width="0.6"/>
<path d="M1416,277.5V284.5 C1416,289.5 1419,291.5 1419.5,303.25 C1420,309.25 1416,316 1416,323 V352" stroke="#94ad64" stroke-width="0.9" fill="none"/>
<path d="M1434,278.2 Q1443.3,276 1452.6,278.2" stroke="#94ad64" stroke-width="1.1" fill="none"/>
<path d="M1434,329H1452.6" stroke="#94ad64" stroke-width="0.8" fill="none"/>
<rect x="1432.4" y="326.8" width="3.2" height="2" fill="#c3dc88" stroke="#94ad64" stroke-width="0.6"/>
<path d="M1434,277.5V352" stroke="#94ad64" stroke-width="0.7" fill="none"/>
<path d="M1452.6,278.2 Q1461.4,276 1470.2,278.2" stroke="#94ad64" stroke-width="1.1" fill="none"/>
<path d="M1452.6,329H1470.2" stroke="#94ad64" stroke-width="0.8" fill="none"/>
<rect x="1451" y="326.8" width="3.2" height="2" fill="#c3dc88" stroke="#94ad64" stroke-width="0.6"/>
<path d="M1452.6,277.5V284.5 C1452.6,289.5 1455.6,291.5 1456.1,303.25 C1456.6,309.25 1452.6,316 1452.6,323 V352" stroke="#94ad64" stroke-width="0.9" fill="none"/>
<path d="M1470.2,278.2 Q1479.2,276 1488.2,278.2" stroke="#94ad64" stroke-width="1.1" fill="none"/>
<path d="M1470.2,329H1488.2" stroke="#94ad64" stroke-width="0.8" fill="none"/>
<rect x="1468.6" y="326.8" width="3.2" height="2" fill="#c3dc88" stroke="#94ad64" stroke-width="0.6"/>
<path d="M1470.2,277.5V352" stroke="#94ad64" stroke-width="0.7" fill="none"/>
<path d="M1488.2,278.2 Q1497.85,276 1507.5,278.2" stroke="#94ad64" stroke-width="1.1" fill="none"/>
<path d="M1488.2,329H1507.5" stroke="#94ad64" stroke-width="0.8" fill="none"/>
<rect x="1486.6" y="326.8" width="3.2" height="2" fill="#c3dc88" stroke="#94ad64" stroke-width="0.6"/>
<path d="M1488.2,277.5V284.5 C1488.2,289.5 1491.2,291.5 1491.7,303.25 C1492.2,309.25 1488.2,316 1488.2,323 V352" stroke="#94ad64" stroke-width="0.9" fill="none"/>
<path d="M1507.5,278.2 Q1517.1,276 1526.7,278.2" stroke="#94ad64" stroke-width="1.1" fill="none"/>
<path d="M1507.5,329H1526.7" stroke="#94ad64" stroke-width="0.8" fill="none"/>
<rect x="1505.9" y="326.8" width="3.2" height="2" fill="#c3dc88" stroke="#94ad64" stroke-width="0.6"/>
<path d="M1506.4,277.5V352M1508.6,277.5V352" stroke="#94ad64" stroke-width="0.8" fill="none"/>
<path d="M1526.7,278.2 Q1535.5,276 1544.3,278.2" stroke="#94ad64" stroke-width="1.1" fill="none"/>
<path d="M1526.7,329H1544.3" stroke="#94ad64" stroke-width="0.8" fill="none"/>
<rect x="1525.1" y="326.8" width="3.2" height="2" fill="#c3dc88" stroke="#94ad64" stroke-width="0.6"/>
<path d="M1526.7,277.5V284.5 C1526.7,289.5 1529.7,291.5 1530.2,303.25 C1530.7,309.25 1526.7,316 1526.7,323 V352" stroke="#94ad64" stroke-width="0.9" fill="none"/>
<path d="M1544.3,278.1 Q1552.6,275.9 1560.9,278.1" stroke="#84abc1" stroke-width="1.1" fill="none"/>
<path d="M1544.3,319H1560.9" stroke="#84abc1" stroke-width="0.8" fill="none"/>
<path d="M1560.9,278.1 Q1570.4,275.9 1579.9,278.1" stroke="#77a19e" stroke-width="1.1" fill="none"/>
<path d="M1560.9,319H1579.9" stroke="#77a19e" stroke-width="0.8" fill="none"/>
<rect x="1559.3" y="316.8" width="3.2" height="2" fill="#aed9d4" stroke="#77a19e" stroke-width="0.6"/>
<path d="M1560.9,277.4V284.4 C1560.9,289.4 1563.9,291.4 1564.4,298.2 C1564.9,304.2 1560.9,306 1560.9,313 V352" stroke="#77a19e" stroke-width="0.9" fill="none"/>
<path d="M1579.9,273.2 Q1588.85,271 1597.8,273.2" stroke="#77a19e" stroke-width="1.1" fill="none"/>
<path d="M1579.9,315.5H1597.8" stroke="#77a19e" stroke-width="0.8" fill="none"/>
<rect x="1578.3" y="313.3" width="3.2" height="2" fill="#aed9d4" stroke="#77a19e" stroke-width="0.6"/>
<path d="M1579.9,272.5V352" stroke="#77a19e" stroke-width="0.7" fill="none"/>
<path d="M1597.8,273.2 Q1606.8,271 1615.8,273.2" stroke="#77a19e" stroke-width="1.1" fill="none"/>
<path d="M1597.8,315.5H1615.8" stroke="#77a19e" stroke-width="0.8" fill="none"/>
<rect x="1596.2" y="313.3" width="3.2" height="2" fill="#aed9d4" stroke="#77a19e" stroke-width="0.6"/>
<path d="M1597.8,272.5V279.5 C1597.8,284.5 1600.8,286.5 1601.3,294 C1601.8,300 1597.8,302.5 1597.8,309.5 V352" stroke="#77a19e" stroke-width="0.9" fill="none"/>
<path d="M1615.8,273.2 Q1624.6,271 1633.4,273.2" stroke="#77a19e" stroke-width="1.1" fill="none"/>
<path d="M1615.8,315.5H1633.4" stroke="#77a19e" stroke-width="0.8" fill="none"/>
<rect x="1614.2" y="313.3" width="3.2" height="2" fill="#aed9d4" stroke="#77a19e" stroke-width="0.6"/>
<path d="M1615.8,272.5V352" stroke="#77a19e" stroke-width="0.7" fill="none"/>
<path d="M1633.4,273.2 Q1642.35,271 1651.3,273.2" stroke="#77a19e" stroke-width="1.1" fill="none"/>
<path d="M1633.4,315.5H1651.3" stroke="#77a19e" stroke-width="0.8" fill="none"/>
<rect x="1631.8" y="313.3" width="3.2" height="2" fill="#aed9d4" stroke="#77a19e" stroke-width="0.6"/>
<path d="M1633.4,272.5V279.5 C1633.4,284.5 1636.4,286.5 1636.9,294 C1637.4,300 1633.4,302.5 1633.4,309.5 V352" stroke="#77a19e" stroke-width="0.9" fill="none"/>
<path d="M1651.3,273.2 Q1660.1,271 1668.9,273.2" stroke="#77a19e" stroke-width="1.1" fill="none"/>
<path d="M1651.3,315.5H1668.9" stroke="#77a19e" stroke-width="0.8" fill="none"/>
<rect x="1649.7" y="313.3" width="3.2" height="2" fill="#aed9d4" stroke="#77a19e" stroke-width="0.6"/>
<path d="M1651.3,272.5V352" stroke="#77a19e" stroke-width="0.7" fill="none"/>
<path d="M1668.9,273.2 Q1677.9,271 1686.9,273.2" stroke="#77a19e" stroke-width="1.1" fill="none"/>
<path d="M1668.9,315.5H1686.9" stroke="#77a19e" stroke-width="0.8" fill="none"/>
<rect x="1667.3" y="313.3" width="3.2" height="2" fill="#aed9d4" stroke="#77a19e" stroke-width="0.6"/>
<path d="M1668.9,272.5V279.5 C1668.9,284.5 1671.9,286.5 1672.4,294 C1672.9,300 1668.9,302.5 1668.9,309.5 V352" stroke="#77a19e" stroke-width="0.9" fill="none"/>
<path d="M1686.9,273.2 Q1695.95,271 1705,273.2" stroke="#77a19e" stroke-width="1.1" fill="none"/>
<path d="M1686.9,315.5H1705" stroke="#77a19e" stroke-width="0.8" fill="none"/>
<rect x="1685.3" y="313.3" width="3.2" height="2" fill="#aed9d4" stroke="#77a19e" stroke-width="0.6"/>
<path d="M1686.9,272.5V352" stroke="#77a19e" stroke-width="0.7" fill="none"/>
<path d="M1705,273.2 Q1714.1,271 1723.2,273.2" stroke="#77a19e" stroke-width="1.1" fill="none"/>
<path d="M1705,315.5H1723.2" stroke="#77a19e" stroke-width="0.8" fill="none"/>
<rect x="1703.4" y="313.3" width="3.2" height="2" fill="#aed9d4" stroke="#77a19e" stroke-width="0.6"/>
<path d="M1705,272.5V279.5 C1705,284.5 1708,286.5 1708.5,294 C1709,300 1705,302.5 1705,309.5 V352" stroke="#77a19e" stroke-width="0.9" fill="none"/>
<path d="M1723.2,273.2 Q1732,271 1740.8,273.2" stroke="#77a19e" stroke-width="1.1" fill="none"/>
<path d="M1723.2,315.5H1740.8" stroke="#77a19e" stroke-width="0.8" fill="none"/>
<rect x="1721.6" y="313.3" width="3.2" height="2" fill="#aed9d4" stroke="#77a19e" stroke-width="0.6"/>
<path d="M1723.2,272.5V352" stroke="#77a19e" stroke-width="0.7" fill="none"/>
<path d="M1740.8,273.2 Q1749.6,271 1758.4,273.2" stroke="#77a19e" stroke-width="1.1" fill="none"/>
<path d="M1740.8,315.5H1758.4" stroke="#77a19e" stroke-width="0.8" fill="none"/>
<rect x="1739.2" y="313.3" width="3.2" height="2" fill="#aed9d4" stroke="#77a19e" stroke-width="0.6"/>
<path d="M1740.8,272.5V279.5 C1740.8,284.5 1743.8,286.5 1744.3,294 C1744.8,300 1740.8,302.5 1740.8,309.5 V352" stroke="#77a19e" stroke-width="0.9" fill="none"/>
<path d="M1758.4,273.2 Q1767.55,271 1776.7,273.2" stroke="#77a19e" stroke-width="1.1" fill="none"/>
<path d="M1758.4,315.5H1776.7" stroke="#77a19e" stroke-width="0.8" fill="none"/>
<rect x="1756.8" y="313.3" width="3.2" height="2" fill="#aed9d4" stroke="#77a19e" stroke-width="0.6"/>
<path d="M1758.4,272.5V352" stroke="#77a19e" stroke-width="0.7" fill="none"/>
<path d="M1776.7,273.2 Q1785.85,271 1795,273.2" stroke="#84abc1" stroke-width="1.1" fill="none"/>
<path d="M1776.7,315.5H1795" stroke="#84abc1" stroke-width="0.8" fill="none"/>
<rect x="1775.1" y="313.3" width="3.2" height="2" fill="#bfe2f3" stroke="#84abc1" stroke-width="0.6"/>
<path d="M1776.7,272.5V279.5 C1776.7,284.5 1779.7,286.5 1780.2,294 C1780.7,300 1776.7,302.5 1776.7,309.5 V352" stroke="#84abc1" stroke-width="0.9" fill="none"/>
<path d="M1797,273.7 Q1806.1,271.5 1815.2,273.7" stroke="#84abc1" stroke-width="1.1" fill="none"/>
<path d="M1797,315H1815.2" stroke="#84abc1" stroke-width="0.8" fill="none"/>
<path d="M1815.2,273.7 Q1824.3,271.5 1833.4,273.7" stroke="#84abc1" stroke-width="1.1" fill="none"/>
<path d="M1815.2,315H1833.4" stroke="#84abc1" stroke-width="0.8" fill="none"/>
<rect x="1813.6" y="312.8" width="3.2" height="2" fill="#bfe2f3" stroke="#84abc1" stroke-width="0.6"/>
<path d="M1815.2,273V280 C1815.2,285 1818.2,287 1818.7,294 C1819.2,300 1815.2,302 1815.2,309 V352" stroke="#84abc1" stroke-width="0.9" fill="none"/>
<path d="M1833.4,273.7 Q1842.35,271.5 1851.3,273.7" stroke="#84abc1" stroke-width="1.1" fill="none"/>
<path d="M1833.4,315H1851.3" stroke="#84abc1" stroke-width="0.8" fill="none"/>
<rect x="1831.8" y="312.8" width="3.2" height="2" fill="#bfe2f3" stroke="#84abc1" stroke-width="0.6"/>
<path d="M1833.4,273V352" stroke="#84abc1" stroke-width="0.7" fill="none"/>
<path d="M1851.3,273.7 Q1860.4,271.5 1869.5,273.7" stroke="#84abc1" stroke-width="1.1" fill="none"/>
<path d="M1851.3,315H1869.5" stroke="#84abc1" stroke-width="0.8" fill="none"/>
<rect x="1849.7" y="312.8" width="3.2" height="2" fill="#bfe2f3" stroke="#84abc1" stroke-width="0.6"/>
<path d="M1851.3,273V280 C1851.3,285 1854.3,287 1854.8,294 C1855.3,300 1851.3,302 1851.3,309 V352" stroke="#84abc1" stroke-width="0.9" fill="none"/>
<path d="M1869.5,273.7 Q1878.3,271.5 1887.1,273.7" stroke="#84abc1" stroke-width="1.1" fill="none"/>
<path d="M1869.5,315H1887.1" stroke="#84abc1" stroke-width="0.8" fill="none"/>
<rect x="1867.9" y="312.8" width="3.2" height="2" fill="#bfe2f3" stroke="#84abc1" stroke-width="0.6"/>
<path d="M1869.5,273V352" stroke="#84abc1" stroke-width="0.7" fill="none"/>
<path d="M1887.1,273.7 Q1896.2,271.5 1905.3,273.7" stroke="#84abc1" stroke-width="1.1" fill="none"/>
<path d="M1887.1,315H1905.3" stroke="#84abc1" stroke-width="0.8" fill="none"/>
<rect x="1885.5" y="312.8" width="3.2" height="2" fill="#bfe2f3" stroke="#84abc1" stroke-width="0.6"/>
<path d="M1887.1,273V280 C1887.1,285 1890.1,287 1890.6,294 C1891.1,300 1887.1,302 1887.1,309 V352" stroke="#84abc1" stroke-width="0.9" fill="none"/>
<path d="M1905.3,273.7 Q1914.25,271.5 1923.2,273.7" stroke="#84abc1" stroke-width="1.1" fill="none"/>
<path d="M1905.3,315H1923.2" stroke="#84abc1" stroke-width="0.8" fill="none"/>
<rect x="1903.7" y="312.8" width="3.2" height="2" fill="#bfe2f3" stroke="#84abc1" stroke-width="0.6"/>
<path d="M1905.3,273V352" stroke="#84abc1" stroke-width="0.7" fill="none"/>
<path d="M1923.2,273.7 Q1932.3,271.5 1941.4,273.7" stroke="#84abc1" stroke-width="1.1" fill="none"/>
<path d="M1923.2,315H1941.4" stroke="#84abc1" stroke-width="0.8" fill="none"/>
<rect x="1921.6" y="312.8" width="3.2" height="2" fill="#bfe2f3" stroke="#84abc1" stroke-width="0.6"/>
<path d="M1923.2,273V280 C1923.2,285 1926.2,287 1926.7,294 C1927.2,300 1923.2,302 1923.2,309 V352" stroke="#84abc1" stroke-width="0.9" fill="none"/>
<path d="M1941.4,273.7 Q1951.7,271.5 1962,273.7" stroke="#84abc1" stroke-width="1.1" fill="none"/>
<path d="M1941.4,315H1962" stroke="#84abc1" stroke-width="0.8" fill="none"/>
<rect x="1939.8" y="312.8" width="3.2" height="2" fill="#bfe2f3" stroke="#84abc1" stroke-width="0.6"/>
<path d="M1941.4,273V352" stroke="#84abc1" stroke-width="0.7" fill="none"/>
<rect x="46.5" y="105.9" width="57.8" height="201.8" fill="#2f5b63"/>
<rect x="62" y="106" width="42" height="2.6" fill="#e8eef0"/>
<rect x="62" y="304" width="42" height="2.6" fill="#e8eef0"/>
<path d="M62.2,108V304" stroke="#5d8188" stroke-width="0.8"/>
<path d="M46.5,128.3H62" stroke="#56797f" stroke-width="0.8"/>
<path d="M46.5,145.7H62" stroke="#56797f" stroke-width="0.8"/>
<path d="M46.5,163.2H62" stroke="#56797f" stroke-width="0.8"/>
<path d="M46.5,180.7H62" stroke="#56797f" stroke-width="0.8"/>
<path d="M46.5,206.7H62" stroke="#56797f" stroke-width="0.8"/>
<path d="M46.5,233.6H62" stroke="#56797f" stroke-width="0.8"/>
<path d="M46.5,251H62" stroke="#56797f" stroke-width="0.8"/>
<path d="M46.5,268.6H62" stroke="#56797f" stroke-width="0.8"/>
<path d="M46.5,286H62" stroke="#56797f" stroke-width="0.8"/>
<path d="M62,126 C72,124 82,128 94,126 S100,125 104,126" stroke="#5d8188" stroke-width="0.8" fill="none"/>
<path d="M62,143.5 C72,141.5 82,145.5 94,143.5 S100,142.5 104,143.5" stroke="#5d8188" stroke-width="0.8" fill="none"/>
<path d="M62,161 C72,159 82,163 94,161 S100,160 104,161" stroke="#5d8188" stroke-width="0.8" fill="none"/>
<path d="M62,179 C72,177 82,181 94,179 S100,178 104,179" stroke="#5d8188" stroke-width="0.8" fill="none"/>
<path d="M62,207.2 C72,205.2 82,209.2 94,207.2 S100,206.2 104,207.2" stroke="#5d8188" stroke-width="0.8" fill="none"/>
<path d="M62,233.6 C72,231.6 82,235.6 94,233.6 S100,232.6 104,233.6" stroke="#5d8188" stroke-width="0.8" fill="none"/>
<path d="M62,251.5 C72,249.5 82,253.5 94,251.5 S100,250.5 104,251.5" stroke="#5d8188" stroke-width="0.8" fill="none"/>
<path d="M62,269.5 C72,267.5 82,271.5 94,269.5 S100,268.5 104,269.5" stroke="#5d8188" stroke-width="0.8" fill="none"/>
<path d="M62,287 C72,285 82,289 94,287 S100,286 104,287" stroke="#5d8188" stroke-width="0.8" fill="none"/>
<text x="63.7" y="122" textLength="27" lengthAdjust="spacingAndGlyphs" class="cwp">9290</text>
<path d="M91.3,122.2 L99.9,122.2 L95.6,114.2 Z" fill="#fff"/>
<text x="63.7" y="140" textLength="27" lengthAdjust="spacingAndGlyphs" class="cwp">9292</text>
<path d="M91.3,140.2 L99.9,140.2 L95.6,132.2 Z" fill="#fff"/>
<text x="63.7" y="157.5" textLength="27" lengthAdjust="spacingAndGlyphs" class="cwp">9294</text>
<path d="M91.3,157.7 L99.9,157.7 L95.6,149.7 Z" fill="#fff"/>
<text x="63.7" y="175.8" textLength="27" lengthAdjust="spacingAndGlyphs" class="cwp">9296</text>
<path d="M91.3,176 L99.9,176 L95.6,168 Z" fill="#fff"/>
<text x="63.7" y="193.9" textLength="27" lengthAdjust="spacingAndGlyphs" class="cwp">9298</text>
<rect x="90.5" y="186.2" width="8" height="8" fill="#fff"/>
<text x="63.7" y="228.5" textLength="27" lengthAdjust="spacingAndGlyphs" class="cwp">9297</text>
<rect x="90.5" y="220.8" width="8" height="8" fill="#fff"/>
<text x="63.7" y="246.2" textLength="27" lengthAdjust="spacingAndGlyphs" class="cwp">9295</text>
<path d="M91.3,246.4 L99.9,246.4 L95.6,238.4 Z" fill="#fff"/>
<text x="63.7" y="264.7" textLength="27" lengthAdjust="spacingAndGlyphs" class="cwp">9293</text>
<path d="M91.3,264.9 L99.9,264.9 L95.6,256.9 Z" fill="#fff"/>
<text x="63.7" y="282.2" textLength="27" lengthAdjust="spacingAndGlyphs" class="cwp">9291</text>
<path d="M91.3,282.4 L99.9,282.4 L95.6,274.4 Z" fill="#fff"/>
<text x="63.7" y="300.6" textLength="27" lengthAdjust="spacingAndGlyphs" class="cwp">9289</text>
<path d="M91.3,300.8 L99.9,300.8 L95.6,292.8 Z" fill="#fff"/>
</g>
<path d="M111.7,133.5 L331,133.5 L331,143.6 L387.5,143.6" stroke="#8c8c8c" stroke-width="1" fill="none"/>
<path d="M358.2,143.6 L358.2,177.8 L393,177.8 L393,235.4 L358.2,235.4 L358.2,269.3 L387.5,269.3" stroke="#8c8c8c" stroke-width="1" fill="none"/>
<path d="M387.5,269.3 L331,269.3 L331,279.5 L111.7,279.5 L111.7,133.5" stroke="#8c8c8c" stroke-width="1" fill="none"/>
<path d="M366,143.6V177.8" stroke="#9a9a9a" stroke-width="0.6"/>
<path d="M368.62,143.6V177.8" stroke="#9a9a9a" stroke-width="0.6"/>
<path d="M371.25,143.6V177.8" stroke="#9a9a9a" stroke-width="0.6"/>
<path d="M373.88,143.6V177.8" stroke="#9a9a9a" stroke-width="0.6"/>
<path d="M376.5,143.6V177.8" stroke="#9a9a9a" stroke-width="0.6"/>
<path d="M379.12,143.6V177.8" stroke="#9a9a9a" stroke-width="0.6"/>
<path d="M381.75,143.6V177.8" stroke="#9a9a9a" stroke-width="0.6"/>
<path d="M384.38,143.6V177.8" stroke="#9a9a9a" stroke-width="0.6"/>
<path d="M387,143.6V177.8" stroke="#9a9a9a" stroke-width="0.6"/>
<path d="M364.5,152.4H387" stroke="#777" stroke-width="0.9"/>
<path d="M364.5,161H387" stroke="#777" stroke-width="0.9"/>
<path d="M364.5,169.5H387" stroke="#777" stroke-width="0.9"/>
<path d="M366,235.4V269.3" stroke="#9a9a9a" stroke-width="0.6"/>
<path d="M368.62,235.4V269.3" stroke="#9a9a9a" stroke-width="0.6"/>
<path d="M371.25,235.4V269.3" stroke="#9a9a9a" stroke-width="0.6"/>
<path d="M373.88,235.4V269.3" stroke="#9a9a9a" stroke-width="0.6"/>
<path d="M376.5,235.4V269.3" stroke="#9a9a9a" stroke-width="0.6"/>
<path d="M379.12,235.4V269.3" stroke="#9a9a9a" stroke-width="0.6"/>
<path d="M381.75,235.4V269.3" stroke="#9a9a9a" stroke-width="0.6"/>
<path d="M384.38,235.4V269.3" stroke="#9a9a9a" stroke-width="0.6"/>
<path d="M387,235.4V269.3" stroke="#9a9a9a" stroke-width="0.6"/>
<path d="M364.5,244.8H387" stroke="#777" stroke-width="0.9"/>
<path d="M364.5,253H387" stroke="#777" stroke-width="0.9"/>
<path d="M364.5,261.5H387" stroke="#777" stroke-width="0.9"/>
<rect x="406.6" y="143.6" width="69" height="20.1" fill="none" stroke="#8c8c8c" stroke-width="1"/>
<path d="M406.6,146.2H475.6" stroke="#8c8c8c" stroke-width="0.9"/>
<path d="M424.2,146.2V163.7 M406.6,146.2L424.2,163.7 M424.2,146.2L406.6,163.7" stroke="#8c8c8c" stroke-width="0.8" fill="none"/>
<path d="M441.2,146.2V163.7 M424.2,146.2L441.2,163.7 M441.2,146.2L424.2,163.7" stroke="#8c8c8c" stroke-width="0.8" fill="none"/>
<path d="M458.4,146.2V163.7 M441.2,146.2L458.4,163.7 M458.4,146.2L441.2,163.7" stroke="#8c8c8c" stroke-width="0.8" fill="none"/>
<path d="M475.6,146.2V163.7 M458.4,146.2L475.6,163.7 M475.6,146.2L458.4,163.7" stroke="#8c8c8c" stroke-width="0.8" fill="none"/>
<rect x="406.6" y="249.1" width="69.5" height="20.6" fill="none" stroke="#8c8c8c" stroke-width="1"/>
<path d="M406.6,266.7H476.1" stroke="#8c8c8c" stroke-width="0.9"/>
<path d="M424.2,249.1V266.7 M406.6,249.1L424.2,266.7 M424.2,249.1L406.6,266.7" stroke="#8c8c8c" stroke-width="0.8" fill="none"/>
<path d="M441.2,249.1V266.7 M424.2,249.1L441.2,266.7 M441.2,249.1L424.2,266.7" stroke="#8c8c8c" stroke-width="0.8" fill="none"/>
<path d="M458.4,249.1V266.7 M441.2,249.1L458.4,266.7 M458.4,249.1L441.2,266.7" stroke="#8c8c8c" stroke-width="0.8" fill="none"/>
<path d="M476.1,249.1V266.7 M458.4,249.1L476.1,266.7 M476.1,249.1L458.4,266.7" stroke="#8c8c8c" stroke-width="0.8" fill="none"/>
<path d="M475.6,163.7 L475.6,183 L407.2,183 L407.2,230.2 L490.2,230.2" stroke="#8c8c8c" stroke-width="1" fill="none"/>
<path d="M476.1,230.2 L476.1,249.1" stroke="#8c8c8c" stroke-width="1" fill="none"/>
<path d="M475.6,183 L490,183 L490,147.5 L494,147.5" stroke="#8c8c8c" stroke-width="1" fill="none"/>
<path d="M490,230.2 L490,266 L494,266" stroke="#8c8c8c" stroke-width="1" fill="none"/>
<path d="M574,147.2 L652,147.2 L652,133.7 L993,133.7 L993,147.5 L1001,147.5" stroke="#8c8c8c" stroke-width="1" fill="none"/>
<path d="M574,266 L652,266 L652,279.6 L993,279.6 L993,266 L1001,266" stroke="#8c8c8c" stroke-width="1" fill="none"/>
<path d="M1362,182.7 L1362,231" stroke="#8c8c8c" stroke-width="1" fill="none"/>
<rect x="1381.4" y="143.8" width="71.3" height="20.5" fill="none" stroke="#8c8c8c" stroke-width="1"/>
<path d="M1381.4,147.1H1452.7" stroke="#8c8c8c" stroke-width="0.9"/>
<path d="M1401.5,147.1V164.3 M1384.3,147.1L1401.5,164.3 M1401.5,147.1L1384.3,164.3" stroke="#8c8c8c" stroke-width="0.8" fill="none"/>
<path d="M1418.5,147.1V164.3 M1401.5,147.1L1418.5,164.3 M1418.5,147.1L1401.5,164.3" stroke="#8c8c8c" stroke-width="0.8" fill="none"/>
<path d="M1435.5,147.1V164.3 M1418.5,147.1L1435.5,164.3 M1435.5,147.1L1418.5,164.3" stroke="#8c8c8c" stroke-width="0.8" fill="none"/>
<path d="M1452.7,147.1V164.3 M1435.5,147.1L1452.7,164.3 M1452.7,147.1L1435.5,164.3" stroke="#8c8c8c" stroke-width="0.8" fill="none"/>
<path d="M1384.3,147.1V164.3" stroke="#8c8c8c" stroke-width="0.9"/>
<rect x="1380.3" y="248.4" width="72.6" height="17.6" fill="none" stroke="#8c8c8c" stroke-width="1"/>
<path d="M1380.3,263.5H1452.9" stroke="#8c8c8c" stroke-width="0.9"/>
<path d="M1401.3,248.4V263.5 M1383.2,248.4L1401.3,263.5 M1401.3,248.4L1383.2,263.5" stroke="#8c8c8c" stroke-width="0.8" fill="none"/>
<path d="M1418.4,248.4V263.5 M1401.3,248.4L1418.4,263.5 M1418.4,248.4L1401.3,263.5" stroke="#8c8c8c" stroke-width="0.8" fill="none"/>
<path d="M1435.5,248.4V263.5 M1418.4,248.4L1435.5,263.5 M1435.5,248.4L1418.4,263.5" stroke="#8c8c8c" stroke-width="0.8" fill="none"/>
<path d="M1452.9,248.4V263.5 M1435.5,248.4L1452.9,263.5 M1452.9,248.4L1435.5,263.5" stroke="#8c8c8c" stroke-width="0.8" fill="none"/>
<path d="M1383.2,248.4V266" stroke="#8c8c8c" stroke-width="0.9"/>
<path d="M1452.7,143.8 L1572.2,143.8 L1572.2,147.3 L1580,147.3" stroke="#8c8c8c" stroke-width="1" fill="none"/>
<path d="M1478,143.8 L1478,148.7 L1506.7,148.7 L1506.7,265 L1477,265 L1477,270" stroke="#8c8c8c" stroke-width="1" fill="none"/>
<path d="M1476.4,182.9 L1506.7,182.9" stroke="#8c8c8c" stroke-width="1" fill="none"/>
<path d="M1477,230.1 L1506.7,230.1" stroke="#8c8c8c" stroke-width="1" fill="none"/>
<path d="M1380.3,270 L1571.7,270 L1571.7,265.5 L1580,265.5" stroke="#8c8c8c" stroke-width="1" fill="none"/>
<path d="M1479.3,148.7V182.9" stroke="#9a9a9a" stroke-width="0.6"/>
<path d="M1481.97,148.7V182.9" stroke="#9a9a9a" stroke-width="0.6"/>
<path d="M1484.64,148.7V182.9" stroke="#9a9a9a" stroke-width="0.6"/>
<path d="M1487.31,148.7V182.9" stroke="#9a9a9a" stroke-width="0.6"/>
<path d="M1489.99,148.7V182.9" stroke="#9a9a9a" stroke-width="0.6"/>
<path d="M1492.66,148.7V182.9" stroke="#9a9a9a" stroke-width="0.6"/>
<path d="M1495.33,148.7V182.9" stroke="#9a9a9a" stroke-width="0.6"/>
<path d="M1498,148.7V182.9" stroke="#9a9a9a" stroke-width="0.6"/>
<path d="M1477.8,157.5H1498" stroke="#777" stroke-width="0.9"/>
<path d="M1477.8,165.3H1498" stroke="#777" stroke-width="0.9"/>
<path d="M1477.8,173.7H1498" stroke="#777" stroke-width="0.9"/>
<path d="M1479.3,230.1V265" stroke="#9a9a9a" stroke-width="0.6"/>
<path d="M1481.97,230.1V265" stroke="#9a9a9a" stroke-width="0.6"/>
<path d="M1484.64,230.1V265" stroke="#9a9a9a" stroke-width="0.6"/>
<path d="M1487.31,230.1V265" stroke="#9a9a9a" stroke-width="0.6"/>
<path d="M1489.99,230.1V265" stroke="#9a9a9a" stroke-width="0.6"/>
<path d="M1492.66,230.1V265" stroke="#9a9a9a" stroke-width="0.6"/>
<path d="M1495.33,230.1V265" stroke="#9a9a9a" stroke-width="0.6"/>
<path d="M1498,230.1V265" stroke="#9a9a9a" stroke-width="0.6"/>
<path d="M1477.8,238.5H1498" stroke="#777" stroke-width="0.9"/>
<path d="M1477.8,247.3H1498" stroke="#777" stroke-width="0.9"/>
<path d="M1477.8,256.1H1498" stroke="#777" stroke-width="0.9"/>
<path d="M1941,182.5 L1941,231" stroke="#8c8c8c" stroke-width="1" fill="none"/>
<path d="M1962.5,139.5 L1962.5,273" stroke="#8c8c8c" stroke-width="1" fill="none"/>
<rect x="493.9" y="147.5" width="80" height="35.2" fill="#898989"/>
<text transform="translate(499.9,154.2) rotate(90) scale(1.08,1)" x="0 5.74 11.48 17.22" class="cw">9246</text>
<text transform="translate(517.5,154.2) rotate(90) scale(1.08,1)" x="0 5.74 11.48 17.22" class="cw">9242</text>
<text transform="translate(535.9,154.2) rotate(90) scale(1.08,1)" x="0 5.74 11.48 17.22" class="cw">9238</text>
<rect x="551.3" y="154.8" width="7" height="7" fill="#fff"/>
<text transform="translate(562,154.2) rotate(90) scale(1.08,1)" x="0 5.74 11.48 17.22" class="cw">9234</text>
<rect x="561.4" y="147" width="10.3" height="3" fill="#fff"/>
<rect x="494" y="230.6" width="80.1" height="35.3" fill="#898989"/>
<text transform="translate(499.9,235.4) rotate(90) scale(1.08,1)" x="0 5.74 11.48 17.22" class="cw">9245</text>
<text transform="translate(517.5,235.4) rotate(90) scale(1.08,1)" x="0 5.74 11.48 16.57" class="cw">9241</text>
<text transform="translate(535.9,235.4) rotate(90) scale(1.08,1)" x="0 5.74 11.48 17.22" class="cw">9237</text>
<rect x="551.3" y="236" width="7" height="7" fill="#fff"/>
<text transform="translate(562,235.4) rotate(90) scale(1.08,1)" x="0 5.74 11.48 17.22" class="cw">9233</text>
<rect x="561.8" y="263" width="10.6" height="3.4" fill="#fff"/>
<rect x="1001" y="147.5" width="361" height="35.2" fill="#898989"/>
<text transform="translate(1006.3,154.2) rotate(90) scale(1.08,1)" x="0 5.09 10 15.74" class="cw">9184</text>
<text transform="translate(1024.25,154.2) rotate(90) scale(1.08,1)" x="0 5.09 10 15.74" class="cw">9180</text>
<text transform="translate(1041.9,154.2) rotate(90) scale(1.08,1)" x="0 5.09 10 15.74" class="cw">9176</text>
<text transform="translate(1059.7,154.2) rotate(90) scale(1.08,1)" x="0 5.09 10 15.74" class="cw">9172</text>
<text transform="translate(1077.6,154.2) rotate(90) scale(1.08,1)" x="0 5.09 10 15.74" class="cw">9168</text>
<text transform="translate(1095.65,154.2) rotate(90) scale(1.08,1)" x="0 5.09 10 15.74" class="cw">9164</text>
<text transform="translate(1113.6,154.2) rotate(90) scale(1.08,1)" x="0 5.09 10 15.74" class="cw">9160</text>
<text transform="translate(1131.55,154.2) rotate(90) scale(1.08,1)" x="0 5.09 10 15.74" class="cw">9156</text>
<text transform="translate(1149.5,154.2) rotate(90) scale(1.08,1)" x="0 5.09 10 15.74" class="cw">9152</text>
<text transform="translate(1167.3,154.2) rotate(90) scale(1.08,1)" x="0 5.09 10 15.74" class="cw">9148</text>
<text transform="translate(1185.1,154.2) rotate(90) scale(1.08,1)" x="0 5.09 10 15.74" class="cw">9144</text>
<text transform="translate(1204.05,154.2) rotate(90) scale(1.08,1)" x="0 5.09 10 15.74" class="cw">9140</text>
<text transform="translate(1223.65,154.2) rotate(90) scale(1.08,1)" x="0 5.09 10 15.74" class="cw">9136</text>
<text transform="translate(1242.15,154.2) rotate(90) scale(1.08,1)" x="0 5.09 10 15.74" class="cw">9132</text>
<text transform="translate(1260.1,154.2) rotate(90) scale(1.08,1)" x="0 5.09 10 15.74" class="cw">9128</text>
<text transform="translate(1278,154.2) rotate(90) scale(1.08,1)" x="0 5.09 10 15.74" class="cw">9124</text>
<text transform="translate(1296,154.2) rotate(90) scale(1.08,1)" x="0 5.09 10 15.74" class="cw">9120</text>
<text transform="translate(1314.15,154.2) rotate(90) scale(1.08,1)" x="0 5.09 9.35 14.26" class="cw">9116</text>
<text transform="translate(1332.1,154.2) rotate(90) scale(1.08,1)" x="0 5.09 9.35 14.26" class="cw">9112</text>
<text transform="translate(1349.7,154.2) rotate(90) scale(1.08,1)" x="0 5.09 10 15.74" class="cw">9108</text>
<rect x="1001" y="231" width="361" height="34.5" fill="#898989"/>
<text transform="translate(1006.3,235.4) rotate(90) scale(1.08,1)" x="0 5.09 10 15.74" class="cw">9183</text>
<text transform="translate(1024.25,235.4) rotate(90) scale(1.08,1)" x="0 5.09 10 15.74" class="cw">9179</text>
<text transform="translate(1041.9,235.4) rotate(90) scale(1.08,1)" x="0 5.09 10 15.74" class="cw">9175</text>
<text transform="translate(1059.7,235.4) rotate(90) scale(1.08,1)" x="0 5.09 10 15.09" class="cw">9171</text>
<text transform="translate(1077.6,235.4) rotate(90) scale(1.08,1)" x="0 5.09 10 15.74" class="cw">9167</text>
<text transform="translate(1095.65,235.4) rotate(90) scale(1.08,1)" x="0 5.09 10 15.74" class="cw">9163</text>
<text transform="translate(1113.6,235.4) rotate(90) scale(1.08,1)" x="0 5.09 10 15.74" class="cw">9159</text>
<text transform="translate(1131.55,235.4) rotate(90) scale(1.08,1)" x="0 5.09 10 15.74" class="cw">9155</text>
<text transform="translate(1149.5,235.4) rotate(90) scale(1.08,1)" x="0 5.09 10 15.09" class="cw">9151</text>
<text transform="translate(1167.3,235.4) rotate(90) scale(1.08,1)" x="0 5.09 10 15.74" class="cw">9147</text>
<text transform="translate(1185.1,235.4) rotate(90) scale(1.08,1)" x="0 5.09 10 15.74" class="cw">9143</text>
<text transform="translate(1204.05,235.4) rotate(90) scale(1.08,1)" x="0 5.09 10 15.74" class="cw">9139</text>
<text transform="translate(1223.65,235.4) rotate(90) scale(1.08,1)" x="0 5.09 10 15.74" class="cw">9135</text>
<text transform="translate(1242.15,235.4) rotate(90) scale(1.08,1)" x="0 5.09 10 15.09" class="cw">9131</text>
<text transform="translate(1260.1,235.4) rotate(90) scale(1.08,1)" x="0 5.09 10 15.74" class="cw">9127</text>
<text transform="translate(1278,235.4) rotate(90) scale(1.08,1)" x="0 5.09 10 15.74" class="cw">9123</text>
<text transform="translate(1296,235.4) rotate(90) scale(1.08,1)" x="0 5.09 9.35 14.26" class="cw">9119</text>
<text transform="translate(1314.15,235.4) rotate(90) scale(1.08,1)" x="0 5.09 9.35 14.26" class="cw">9115</text>
<text transform="translate(1332.1,235.4) rotate(90) scale(1.08,1)" x="0 5.09 9.35 13.61" class="cw">9111</text>
<text transform="translate(1349.7,235.4) rotate(90) scale(1.08,1)" x="0 5.09 10 15.74" class="cw">9107</text>
<rect x="1580" y="147.5" width="214.8" height="35" fill="#898989"/>
<text transform="translate(1585.25,154.2) rotate(90) scale(1.08,1)" x="0 5.74 11.48 17.22" class="cw">9074</text>
<text transform="translate(1603.2,154.2) rotate(90) scale(1.08,1)" x="0 5.74 11.48 17.22" class="cw">9070</text>
<text transform="translate(1621,154.2) rotate(90) scale(1.08,1)" x="0 5.74 11.48 17.22" class="cw">9066</text>
<text transform="translate(1638.75,154.2) rotate(90) scale(1.08,1)" x="0 5.74 11.48 17.22" class="cw">9062</text>
<text transform="translate(1656.5,154.2) rotate(90) scale(1.08,1)" x="0 5.74 11.48 17.22" class="cw">9058</text>
<text transform="translate(1674.3,154.2) rotate(90) scale(1.08,1)" x="0 5.74 11.48 17.22" class="cw">9054</text>
<text transform="translate(1692.35,154.2) rotate(90) scale(1.08,1)" x="0 5.74 11.48 17.22" class="cw">9050</text>
<text transform="translate(1710.5,154.2) rotate(90) scale(1.08,1)" x="0 5.74 11.48 17.22" class="cw">9046</text>
<text transform="translate(1728.4,154.2) rotate(90) scale(1.08,1)" x="0 5.74 11.48 17.22" class="cw">9042</text>
<text transform="translate(1746,154.2) rotate(90) scale(1.08,1)" x="0 5.74 11.48 17.22" class="cw">9038</text>
<text transform="translate(1763.95,154.2) rotate(90) scale(1.08,1)" x="0 5.74 11.48 17.22" class="cw">9034</text>
<text transform="translate(1782.25,154.2) rotate(90) scale(1.08,1)" x="0 5.74 11.48 17.22" class="cw">9030</text>
<rect x="1580" y="231" width="197.8" height="34.5" fill="#898989"/>
<text transform="translate(1585.25,235.4) rotate(90) scale(1.08,1)" x="0 5.74 11.48 17.22" class="cw">9073</text>
<text transform="translate(1603.2,235.4) rotate(90) scale(1.08,1)" x="0 5.74 11.48 17.22" class="cw">9069</text>
<text transform="translate(1621,235.4) rotate(90) scale(1.08,1)" x="0 5.74 11.48 17.22" class="cw">9065</text>
<text transform="translate(1638.75,235.4) rotate(90) scale(1.08,1)" x="0 5.74 11.48 16.57" class="cw">9061</text>
<text transform="translate(1656.5,235.4) rotate(90) scale(1.08,1)" x="0 5.74 11.48 17.22" class="cw">9057</text>
<text transform="translate(1674.3,235.4) rotate(90) scale(1.08,1)" x="0 5.74 11.48 17.22" class="cw">9053</text>
<text transform="translate(1692.35,235.4) rotate(90) scale(1.08,1)" x="0 5.74 11.48 17.22" class="cw">9049</text>
<text transform="translate(1710.5,235.4) rotate(90) scale(1.08,1)" x="0 5.74 11.48 17.22" class="cw">9045</text>
<text transform="translate(1728.4,235.4) rotate(90) scale(1.08,1)" x="0 5.74 11.48 16.57" class="cw">9041</text>
<text transform="translate(1746,235.4) rotate(90) scale(1.08,1)" x="0 5.74 11.48 17.22" class="cw">9037</text>
<text transform="translate(1763.95,235.4) rotate(90) scale(1.08,1)" x="0 5.74 11.48 17.22" class="cw">9033</text>
<rect x="1834.1" y="147.5" width="107.9" height="35" fill="#898989"/>
<text transform="translate(1839.3,154.2) rotate(90) scale(1.08,1)" x="0 5.74 11.48 17.22" class="cw">9022</text>
<text transform="translate(1857.24,154.2) rotate(90) scale(1.08,1)" x="0 5.74 10.83 15.74" class="cw">9018</text>
<text transform="translate(1875.18,154.2) rotate(90) scale(1.08,1)" x="0 5.74 10.83 15.74" class="cw">9014</text>
<text transform="translate(1893.12,154.2) rotate(90) scale(1.08,1)" x="0 5.74 10.83 15.74" class="cw">9010</text>
<text transform="translate(1911.06,154.2) rotate(90) scale(1.08,1)" x="0 5.74 11.48 17.22" class="cw">9006</text>
<text transform="translate(1929,154.2) rotate(90) scale(1.08,1)" x="0 5.74 11.48 17.22" class="cw">9002</text>
<rect x="1834.1" y="231" width="107.9" height="34.5" fill="#898989"/>
<text transform="translate(1839.3,235.4) rotate(90) scale(1.08,1)" x="0 5.74 11.48 17.22" class="cw">9023</text>
<text transform="translate(1857.24,235.4) rotate(90) scale(1.08,1)" x="0 5.74 10.83 15.74" class="cw">9019</text>
<text transform="translate(1875.18,235.4) rotate(90) scale(1.08,1)" x="0 5.74 10.83 15.74" class="cw">9015</text>
<text transform="translate(1893.12,235.4) rotate(90) scale(1.08,1)" x="0 5.74 10.83 15.09" class="cw">9011</text>
<text transform="translate(1911.06,235.4) rotate(90) scale(1.08,1)" x="0 5.74 11.48 17.22" class="cw">9007</text>
<text transform="translate(1929,235.4) rotate(90) scale(1.08,1)" x="0 5.74 11.48 17.22" class="cw">9003</text>
<rect x="1381" y="188.4" width="70.1" height="36" fill="#898989"/>
<text x="1387.3" y="202" textLength="23.7" lengthAdjust="spacingAndGlyphs" class="cwh">9104</text>
<text x="1419.1" y="202" textLength="26.9" lengthAdjust="spacingAndGlyphs" class="cwh">9090</text>
<text x="1387.3" y="219.9" textLength="23.7" lengthAdjust="spacingAndGlyphs" class="cwh">9103</text>
<text x="1419.1" y="219.9" textLength="26.9" lengthAdjust="spacingAndGlyphs" class="cwh">9089</text>
<text transform="translate(118.85,88.15) rotate(90) scale(1.1,1)" x="0 5.91 11.82 17.73" class="cb">9288</text>
<path d="M118.45,115.45L118.45,123.05L126.95,119.25Z" fill="#111"/>
<text transform="translate(137.75,88.15) rotate(90) scale(1.1,1)" x="0 5.91 11.82 17.73" class="cb">9286</text>
<path d="M137.35,115.45L137.35,123.05L145.85,119.25Z" fill="#111"/>
<text transform="translate(155.65,88.15) rotate(90) scale(1.1,1)" x="0 5.91 11.82 17.73" class="cb">9284</text>
<path d="M155.25,115.45L155.25,123.05L163.75,119.25Z" fill="#111"/>
<text transform="translate(173.25,88.15) rotate(90) scale(1.1,1)" x="0 5.91 11.82 17.73" class="cb">9282</text>
<path d="M172.85,115.45L172.85,123.05L181.35,119.25Z" fill="#111"/>
<text transform="translate(190.55,88.15) rotate(90) scale(1.1,1)" x="0 5.91 11.82 17.73" class="cb">9280</text>
<path d="M190.15,115.45L190.15,123.05L198.65,119.25Z" fill="#111"/>
<text transform="translate(208.15,88.15) rotate(90) scale(1.1,1)" x="0 5.91 11.82 17.73" class="cb">9278</text>
<path d="M207.75,115.45L207.75,123.05L216.25,119.25Z" fill="#111"/>
<text transform="translate(226.45,88.15) rotate(90) scale(1.1,1)" x="0 5.91 11.82 17.73" class="cb">9276</text>
<path d="M226.05,115.45L226.05,123.05L234.55,119.25Z" fill="#111"/>
<text transform="translate(244.7,88.15) rotate(90) scale(1.1,1)" x="0 5.91 11.82 17.73" class="cb">9274</text>
<path d="M244.3,115.45L244.3,123.05L252.8,119.25Z" fill="#111"/>
<text transform="translate(262.55,88.15) rotate(90) scale(1.1,1)" x="0 5.91 11.82 17.73" class="cb">9272</text>
<path d="M262.15,115.45L262.15,123.05L270.65,119.25Z" fill="#111"/>
<text transform="translate(280.65,88.15) rotate(90) scale(1.1,1)" x="0 5.91 11.82 17.73" class="cb">9270</text>
<path d="M280.25,115.45L280.25,123.05L288.75,119.25Z" fill="#111"/>
<text transform="translate(307.2,92.3) rotate(90)" textLength="26.4" lengthAdjust="spacingAndGlyphs" class="cb">9268</text>
<rect x="296.8" y="93.3" width="7.6" height="6.8" fill="#111"/>
<text transform="translate(334,92.3) rotate(90)" textLength="26.4" lengthAdjust="spacingAndGlyphs" class="cb">9266</text>
<rect x="323.6" y="93.3" width="7.6" height="6.8" fill="#111"/>
<text transform="translate(355.6,92) rotate(90) scale(1.1,1)" x="0 5.91 11.82 17.73" class="cb">9264</text>
<path d="M355.2,119.3L355.2,126.9L363.7,123.1Z" fill="#111"/>
<text transform="translate(373.75,92) rotate(90) scale(1.1,1)" x="0 5.91 11.82 17.73" class="cb">9262</text>
<path d="M373.35,119.3L373.35,126.9L381.85,123.1Z" fill="#111"/>
<text transform="translate(391.7,92) rotate(90) scale(1.1,1)" x="0 5.91 11.82 17.73" class="cb">9260</text>
<path d="M391.3,119.3L391.3,126.9L399.8,123.1Z" fill="#111"/>
<text transform="translate(409.85,92) rotate(90) scale(1.1,1)" x="0 5.91 11.82 17.73" class="cb">9258</text>
<path d="M409.45,119.3L409.45,126.9L417.95,123.1Z" fill="#111"/>
<text transform="translate(427.65,92) rotate(90) scale(1.1,1)" x="0 5.91 11.82 17.73" class="cb">9256</text>
<path d="M427.25,119.3L427.25,126.9L435.75,123.1Z" fill="#111"/>
<text transform="translate(445.45,92) rotate(90) scale(1.1,1)" x="0 5.91 11.82 17.73" class="cb">9254</text>
<path d="M445.05,119.3L445.05,126.9L453.55,123.1Z" fill="#111"/>
<text transform="translate(463.25,92) rotate(90) scale(1.1,1)" x="0 5.91 11.82 17.73" class="cb">9252</text>
<path d="M462.85,119.3L462.85,126.9L471.35,123.1Z" fill="#111"/>
<text transform="translate(480.9,92) rotate(90) scale(1.1,1)" x="0 5.91 11.82 17.73" class="cb">9250</text>
<path d="M480.5,119.3L480.5,126.9L489,123.1Z" fill="#111"/>
<text transform="translate(498.65,92) rotate(90) scale(1.1,1)" x="0 5.91 11.82 17.73" class="cb">9248</text>
<path d="M498.25,119.3L498.25,126.9L506.75,123.1Z" fill="#111"/>
<text transform="translate(516.55,92) rotate(90) scale(1.1,1)" x="0 5.91 11.82 17.73" class="cb">9244</text>
<path d="M516.15,119.3L516.15,126.9L524.65,123.1Z" fill="#111"/>
<text transform="translate(534.35,100.9) rotate(90) scale(1.1,1)" x="0 5.91 11.82 17.73" class="cb">9240</text>
<path d="M533.95,128.2L533.95,135.8L542.45,132Z" fill="#111"/>
<text transform="translate(552.3,100.9) rotate(90) scale(1.1,1)" x="0 5.91 11.82 17.73" class="cb">9236</text>
<path d="M551.9,128.2L551.9,135.8L560.4,132Z" fill="#111"/>
<text transform="translate(570.25,100.9) rotate(90) scale(1.1,1)" x="0 5.91 11.82 17.73" class="cb">9232</text>
<path d="M569.85,128.2L569.85,135.8L578.35,132Z" fill="#111"/>
<text transform="translate(588.4,100.9) rotate(90) scale(1.1,1)" x="0 5.91 11.82 17.73" class="cb">9230</text>
<path d="M588,128.2L588,135.8L596.5,132Z" fill="#111"/>
<text transform="translate(606.55,100.9) rotate(90) scale(1.1,1)" x="0 5.91 11.82 17.73" class="cb">9228</text>
<path d="M606.15,128.2L606.15,135.8L614.65,132Z" fill="#111"/>
<text transform="translate(624.35,100.9) rotate(90) scale(1.1,1)" x="0 5.91 11.82 17.73" class="cb">9226</text>
<path d="M623.95,128.2L623.95,135.8L632.45,132Z" fill="#111"/>
<text transform="translate(645.05,86.5) rotate(90) scale(1.1,1)" x="0 5.91 11.82 17.73" class="cb">9224</text>
<path d="M644.65,113.8L644.65,121.4L653.15,117.6Z" fill="#111"/>
<text transform="translate(662.9,86.5) rotate(90) scale(1.1,1)" x="0 5.91 11.82 17.73" class="cb">9222</text>
<path d="M662.5,113.8L662.5,121.4L671,117.6Z" fill="#111"/>
<text transform="translate(681,86.5) rotate(90) scale(1.1,1)" x="0 5.91 11.82 17.73" class="cb">9220</text>
<path d="M680.6,113.8L680.6,121.4L689.1,117.6Z" fill="#111"/>
<text transform="translate(698.6,87.25) rotate(90) scale(1.1,1)" x="0 5.91 11.18 16.36" class="cb">9218</text>
<path d="M698.2,113.05L698.2,120.65L706.7,116.85Z" fill="#111"/>
<text transform="translate(716.35,87.25) rotate(90) scale(1.1,1)" x="0 5.91 11.18 16.36" class="cb">9216</text>
<path d="M715.95,113.05L715.95,120.65L724.45,116.85Z" fill="#111"/>
<text transform="translate(734.2,87.25) rotate(90) scale(1.1,1)" x="0 5.91 11.18 16.36" class="cb">9214</text>
<path d="M733.8,113.05L733.8,120.65L742.3,116.85Z" fill="#111"/>
<text transform="translate(752.05,87.25) rotate(90) scale(1.1,1)" x="0 5.91 11.18 16.36" class="cb">9212</text>
<path d="M751.65,113.05L751.65,120.65L760.15,116.85Z" fill="#111"/>
<text transform="translate(769.85,87.25) rotate(90) scale(1.1,1)" x="0 5.91 11.18 16.36" class="cb">9210</text>
<path d="M769.45,113.05L769.45,120.65L777.95,116.85Z" fill="#111"/>
<text transform="translate(787.65,86.5) rotate(90) scale(1.1,1)" x="0 5.91 11.82 17.73" class="cb">9208</text>
<path d="M787.25,113.8L787.25,121.4L795.75,117.6Z" fill="#111"/>
<text transform="translate(805.5,86.5) rotate(90) scale(1.1,1)" x="0 5.91 11.82 17.73" class="cb">9206</text>
<path d="M805.1,113.8L805.1,121.4L813.6,117.6Z" fill="#111"/>
<text transform="translate(823.65,86.5) rotate(90) scale(1.1,1)" x="0 5.91 11.82 17.73" class="cb">9204</text>
<path d="M823.25,113.8L823.25,121.4L831.75,117.6Z" fill="#111"/>
<text transform="translate(841.55,86.5) rotate(90) scale(1.1,1)" x="0 5.91 11.82 17.73" class="cb">9202</text>
<path d="M841.15,113.8L841.15,121.4L849.65,117.6Z" fill="#111"/>
<text transform="translate(859.5,86.5) rotate(90) scale(1.1,1)" x="0 5.91 11.82 17.73" class="cb">9200</text>
<path d="M859.1,113.8L859.1,121.4L867.6,117.6Z" fill="#111"/>
<text transform="translate(877.65,87.25) rotate(90) scale(1.1,1)" x="0 5.27 10.45 16.36" class="cb">9198</text>
<path d="M877.25,113.05L877.25,120.65L885.75,116.85Z" fill="#111"/>
<text transform="translate(895.6,87.25) rotate(90) scale(1.1,1)" x="0 5.27 10.45 16.36" class="cb">9196</text>
<path d="M895.2,113.05L895.2,120.65L903.7,116.85Z" fill="#111"/>
<text transform="translate(914.2,87.25) rotate(90) scale(1.1,1)" x="0 5.27 10.45 16.36" class="cb">9194</text>
<path d="M913.8,113.05L913.8,120.65L922.3,116.85Z" fill="#111"/>
<text transform="translate(933.45,87.25) rotate(90) scale(1.1,1)" x="0 5.27 10.45 16.36" class="cb">9192</text>
<path d="M933.05,113.05L933.05,120.65L941.55,116.85Z" fill="#111"/>
<text transform="translate(952.05,87.25) rotate(90) scale(1.1,1)" x="0 5.27 10.45 16.36" class="cb">9190</text>
<path d="M951.65,113.05L951.65,120.65L960.15,116.85Z" fill="#111"/>
<text transform="translate(969.85,87.25) rotate(90) scale(1.1,1)" x="0 5.27 10.45 16.36" class="cb">9188</text>
<path d="M969.45,113.05L969.45,120.65L977.95,116.85Z" fill="#111"/>
<text transform="translate(987.8,87.25) rotate(90) scale(1.1,1)" x="0 5.27 10.45 16.36" class="cb">9186</text>
<path d="M987.4,113.05L987.4,120.65L995.9,116.85Z" fill="#111"/>
<text transform="translate(1006.25,102.15) rotate(90) scale(1.1,1)" x="0 5.27 10.45 16.36" class="cb">9182</text>
<path d="M1005.85,127.95L1005.85,135.55L1014.35,131.75Z" fill="#111"/>
<text transform="translate(1024.2,102.15) rotate(90) scale(1.1,1)" x="0 5.27 10.45 16.36" class="cb">9178</text>
<path d="M1023.8,127.95L1023.8,135.55L1032.3,131.75Z" fill="#111"/>
<text transform="translate(1041.85,102.15) rotate(90) scale(1.1,1)" x="0 5.27 10.45 16.36" class="cb">9174</text>
<path d="M1041.45,127.95L1041.45,135.55L1049.95,131.75Z" fill="#111"/>
<text transform="translate(1059.65,102.15) rotate(90) scale(1.1,1)" x="0 5.27 10.45 16.36" class="cb">9170</text>
<path d="M1059.25,127.95L1059.25,135.55L1067.75,131.75Z" fill="#111"/>
<text transform="translate(1077.55,102.15) rotate(90) scale(1.1,1)" x="0 5.27 10.45 16.36" class="cb">9166</text>
<path d="M1077.15,127.95L1077.15,135.55L1085.65,131.75Z" fill="#111"/>
<text transform="translate(1095.6,102.15) rotate(90) scale(1.1,1)" x="0 5.27 10.45 16.36" class="cb">9162</text>
<path d="M1095.2,127.95L1095.2,135.55L1103.7,131.75Z" fill="#111"/>
<text transform="translate(1113.55,102.15) rotate(90) scale(1.1,1)" x="0 5.27 10.45 16.36" class="cb">9158</text>
<path d="M1113.15,127.95L1113.15,135.55L1121.65,131.75Z" fill="#111"/>
<text transform="translate(1131.5,102.15) rotate(90) scale(1.1,1)" x="0 5.27 10.45 16.36" class="cb">9154</text>
<path d="M1131.1,127.95L1131.1,135.55L1139.6,131.75Z" fill="#111"/>
<text transform="translate(1149.45,102.15) rotate(90) scale(1.1,1)" x="0 5.27 10.45 16.36" class="cb">9150</text>
<path d="M1149.05,127.95L1149.05,135.55L1157.55,131.75Z" fill="#111"/>
<text transform="translate(1167.25,102.15) rotate(90) scale(1.1,1)" x="0 5.27 10.45 16.36" class="cb">9146</text>
<path d="M1166.85,127.95L1166.85,135.55L1175.35,131.75Z" fill="#111"/>
<text transform="translate(1185.05,102.15) rotate(90) scale(1.1,1)" x="0 5.27 10.45 16.36" class="cb">9142</text>
<path d="M1184.65,127.95L1184.65,135.55L1193.15,131.75Z" fill="#111"/>
<text transform="translate(1204,102.15) rotate(90) scale(1.1,1)" x="0 5.27 10.45 16.36" class="cb">9138</text>
<path d="M1203.6,127.95L1203.6,135.55L1212.1,131.75Z" fill="#111"/>
<text transform="translate(1223.6,102.15) rotate(90) scale(1.1,1)" x="0 5.27 10.45 16.36" class="cb">9134</text>
<path d="M1223.2,127.95L1223.2,135.55L1231.7,131.75Z" fill="#111"/>
<text transform="translate(1242.1,102.15) rotate(90) scale(1.1,1)" x="0 5.27 10.45 16.36" class="cb">9130</text>
<path d="M1241.7,127.95L1241.7,135.55L1250.2,131.75Z" fill="#111"/>
<text transform="translate(1260.05,102.15) rotate(90) scale(1.1,1)" x="0 5.27 10.45 16.36" class="cb">9126</text>
<path d="M1259.65,127.95L1259.65,135.55L1268.15,131.75Z" fill="#111"/>
<text transform="translate(1277.95,102.15) rotate(90) scale(1.1,1)" x="0 5.27 10.45 16.36" class="cb">9122</text>
<path d="M1277.55,127.95L1277.55,135.55L1286.05,131.75Z" fill="#111"/>
<text transform="translate(1295.95,102.9) rotate(90) scale(1.1,1)" x="0 5.27 9.82 15" class="cb">9118</text>
<path d="M1295.55,127.2L1295.55,134.8L1304.05,131Z" fill="#111"/>
<text transform="translate(1314.1,102.9) rotate(90) scale(1.1,1)" x="0 5.27 9.82 15" class="cb">9114</text>
<path d="M1313.7,127.2L1313.7,134.8L1322.2,131Z" fill="#111"/>
<text transform="translate(1332.05,98.55) rotate(90) scale(1.1,1)" x="0 5.27 9.82 15" class="cb">9110</text>
<path d="M1331.65,122.85L1331.65,130.45L1340.15,126.65Z" fill="#111"/>
<text transform="translate(1349.65,97.8) rotate(90) scale(1.1,1)" x="0 5.27 10.45 16.36" class="cb">9106</text>
<path d="M1349.25,123.6L1349.25,131.2L1357.75,127.4Z" fill="#111"/>
<text transform="translate(1367.25,97.05) rotate(90) scale(1.1,1)" x="0 5.27 10.45 16.36" class="cb">9102</text>
<path d="M1366.85,122.85L1366.85,130.45L1375.35,126.65Z" fill="#111"/>
<text transform="translate(1385.2,97.05) rotate(90) scale(1.1,1)" x="0 5.27 10.45 16.36" class="cb">9100</text>
<path d="M1384.8,122.85L1384.8,130.45L1393.3,126.65Z" fill="#111"/>
<text transform="translate(1403.35,96.3) rotate(90) scale(1.1,1)" x="0 5.91 11.82 17.73" class="cb">9098</text>
<path d="M1402.95,123.6L1402.95,131.2L1411.45,127.4Z" fill="#111"/>
<text transform="translate(1421.35,96.3) rotate(90) scale(1.1,1)" x="0 5.91 11.82 17.73" class="cb">9096</text>
<path d="M1420.95,123.6L1420.95,131.2L1429.45,127.4Z" fill="#111"/>
<text transform="translate(1439.65,96.3) rotate(90) scale(1.1,1)" x="0 5.91 11.82 17.73" class="cb">9094</text>
<path d="M1439.25,123.6L1439.25,131.2L1447.75,127.4Z" fill="#111"/>
<text transform="translate(1457.75,96.3) rotate(90) scale(1.1,1)" x="0 5.91 11.82 17.73" class="cb">9092</text>
<path d="M1457.35,123.6L1457.35,131.2L1465.85,127.4Z" fill="#111"/>
<text transform="translate(1475.55,96.3) rotate(90) scale(1.1,1)" x="0 5.91 11.82 17.73" class="cb">9088</text>
<path d="M1475.15,123.6L1475.15,131.2L1483.65,127.4Z" fill="#111"/>
<text transform="translate(1494.2,96.3) rotate(90) scale(1.1,1)" x="0 5.91 11.82 17.73" class="cb">9086</text>
<path d="M1493.8,123.6L1493.8,131.2L1502.3,127.4Z" fill="#111"/>
<text transform="translate(1513.45,96.3) rotate(90) scale(1.1,1)" x="0 5.91 11.82 17.73" class="cb">9084</text>
<path d="M1513.05,123.6L1513.05,131.2L1521.55,127.4Z" fill="#111"/>
<text transform="translate(1531.85,96.3) rotate(90) scale(1.1,1)" x="0 5.91 11.82 17.73" class="cb">9082</text>
<path d="M1531.45,123.6L1531.45,131.2L1539.95,127.4Z" fill="#111"/>
<text transform="translate(1548.95,97.35) rotate(90) scale(1.1,1)" x="0 5.91 11.82 17.73" class="cb">9080</text>
<path d="M1548.55,124.65L1548.55,132.25L1557.05,128.45Z" fill="#111"/>
<text transform="translate(1566.75,97.35) rotate(90) scale(1.1,1)" x="0 5.91 11.82 17.73" class="cb">9078</text>
<path d="M1566.35,124.65L1566.35,132.25L1574.85,128.45Z" fill="#111"/>
<text transform="translate(1585.2,98.55) rotate(90) scale(1.1,1)" x="0 5.91 11.82 17.73" class="cb">9076</text>
<path d="M1584.8,125.85L1584.8,133.45L1593.3,129.65Z" fill="#111"/>
<text transform="translate(1603.15,98.55) rotate(90) scale(1.1,1)" x="0 5.91 11.82 17.73" class="cb">9072</text>
<path d="M1602.75,125.85L1602.75,133.45L1611.25,129.65Z" fill="#111"/>
<text transform="translate(1620.95,98.55) rotate(90) scale(1.1,1)" x="0 5.91 11.82 17.73" class="cb">9068</text>
<path d="M1620.55,125.85L1620.55,133.45L1629.05,129.65Z" fill="#111"/>
<text transform="translate(1638.7,98.55) rotate(90) scale(1.1,1)" x="0 5.91 11.82 17.73" class="cb">9064</text>
<path d="M1638.3,125.85L1638.3,133.45L1646.8,129.65Z" fill="#111"/>
<text transform="translate(1656.45,98.55) rotate(90) scale(1.1,1)" x="0 5.91 11.82 17.73" class="cb">9060</text>
<path d="M1656.05,125.85L1656.05,133.45L1664.55,129.65Z" fill="#111"/>
<text transform="translate(1674.25,98.55) rotate(90) scale(1.1,1)" x="0 5.91 11.82 17.73" class="cb">9056</text>
<path d="M1673.85,125.85L1673.85,133.45L1682.35,129.65Z" fill="#111"/>
<text transform="translate(1692.3,98.55) rotate(90) scale(1.1,1)" x="0 5.91 11.82 17.73" class="cb">9052</text>
<path d="M1691.9,125.85L1691.9,133.45L1700.4,129.65Z" fill="#111"/>
<text transform="translate(1710.45,98.55) rotate(90) scale(1.1,1)" x="0 5.91 11.82 17.73" class="cb">9048</text>
<path d="M1710.05,125.85L1710.05,133.45L1718.55,129.65Z" fill="#111"/>
<text transform="translate(1728.35,98.55) rotate(90) scale(1.1,1)" x="0 5.91 11.82 17.73" class="cb">9044</text>
<path d="M1727.95,125.85L1727.95,133.45L1736.45,129.65Z" fill="#111"/>
<text transform="translate(1745.95,98.55) rotate(90) scale(1.1,1)" x="0 5.91 11.82 17.73" class="cb">9040</text>
<path d="M1745.55,125.85L1745.55,133.45L1754.05,129.65Z" fill="#111"/>
<text transform="translate(1763.9,98.55) rotate(90) scale(1.1,1)" x="0 5.91 11.82 17.73" class="cb">9036</text>
<path d="M1763.5,125.85L1763.5,133.45L1772,129.65Z" fill="#111"/>
<text transform="translate(1782.2,98.55) rotate(90) scale(1.1,1)" x="0 5.91 11.82 17.73" class="cb">9032</text>
<path d="M1781.8,125.85L1781.8,133.45L1790.3,129.65Z" fill="#111"/>
<text transform="translate(1802.45,99.45) rotate(90) scale(1.1,1)" x="0 5.91 11.82 17.73" class="cb">9028</text>
<path d="M1802.05,126.75L1802.05,134.35L1810.55,130.55Z" fill="#111"/>
<text transform="translate(1820.65,99.45) rotate(90) scale(1.1,1)" x="0 5.91 11.82 17.73" class="cb">9026</text>
<path d="M1820.25,126.75L1820.25,134.35L1828.75,130.55Z" fill="#111"/>
<text transform="translate(1838.7,99.45) rotate(90) scale(1.1,1)" x="0 5.91 11.82 17.73" class="cb">9024</text>
<path d="M1838.3,126.75L1838.3,134.35L1846.8,130.55Z" fill="#111"/>
<text transform="translate(1856.75,99.45) rotate(90) scale(1.1,1)" x="0 5.91 11.82 17.73" class="cb">9020</text>
<path d="M1856.35,126.75L1856.35,134.35L1864.85,130.55Z" fill="#111"/>
<text transform="translate(1874.65,89.2) rotate(90) scale(1.1,1)" x="0 5.91 11.18 16.36" class="cb">9016</text>
<path d="M1874.25,115L1874.25,122.6L1882.75,118.8Z" fill="#111"/>
<rect x="1874.55" y="125" width="7.4" height="7.4" fill="none" stroke="#111" stroke-width="1.4"/>
<text transform="translate(1892.55,89.2) rotate(90) scale(1.1,1)" x="0 5.91 11.18 16.36" class="cb">9012</text>
<path d="M1892.15,115L1892.15,122.6L1900.65,118.8Z" fill="#111"/>
<rect x="1892.45" y="125" width="7.4" height="7.4" fill="none" stroke="#111" stroke-width="1.4"/>
<text transform="translate(1910.6,88.45) rotate(90) scale(1.1,1)" x="0 5.91 11.82 17.73" class="cb">9008</text>
<path d="M1910.2,115.75L1910.2,123.35L1918.7,119.55Z" fill="#111"/>
<rect x="1910.5" y="125.75" width="7.4" height="7.4" fill="none" stroke="#111" stroke-width="1.4"/>
<text transform="translate(1928.65,88.45) rotate(90) scale(1.1,1)" x="0 5.91 11.82 17.73" class="cb">9004</text>
<path d="M1928.25,115.75L1928.25,123.35L1936.75,119.55Z" fill="#111"/>
<rect x="1928.55" y="125.75" width="7.4" height="7.4" fill="none" stroke="#111" stroke-width="1.4"/>
<text transform="translate(1948.05,88.45) rotate(90) scale(1.1,1)" x="0 5.91 11.82 17.73" class="cb">9000</text>
<path d="M1947.65,115.75L1947.65,123.35L1956.15,119.55Z" fill="#111"/>
<rect x="1947.95" y="125.75" width="7.4" height="7.4" fill="none" stroke="#111" stroke-width="1.4"/>
<text transform="translate(118.85,292.15) rotate(90) scale(1.1,1)" x="0 5.91 11.82 17.73" class="cb">9287</text>
<path d="M118.45,319.45L118.45,327.05L126.95,323.25Z" fill="#111"/>
<text transform="translate(137.75,292.15) rotate(90) scale(1.1,1)" x="0 5.91 11.82 17.73" class="cb">9285</text>
<path d="M137.35,319.45L137.35,327.05L145.85,323.25Z" fill="#111"/>
<text transform="translate(155.65,292.15) rotate(90) scale(1.1,1)" x="0 5.91 11.82 17.73" class="cb">9283</text>
<path d="M155.25,319.45L155.25,327.05L163.75,323.25Z" fill="#111"/>
<text transform="translate(173.25,292.9) rotate(90) scale(1.1,1)" x="0 5.91 11.82 17.09" class="cb">9281</text>
<path d="M172.85,318.7L172.85,326.3L181.35,322.5Z" fill="#111"/>
<text transform="translate(190.55,292.15) rotate(90) scale(1.1,1)" x="0 5.91 11.82 17.73" class="cb">9279</text>
<path d="M190.15,319.45L190.15,327.05L198.65,323.25Z" fill="#111"/>
<text transform="translate(208.15,292.15) rotate(90) scale(1.1,1)" x="0 5.91 11.82 17.73" class="cb">9277</text>
<path d="M207.75,319.45L207.75,327.05L216.25,323.25Z" fill="#111"/>
<text transform="translate(226.45,292.15) rotate(90) scale(1.1,1)" x="0 5.91 11.82 17.73" class="cb">9275</text>
<path d="M226.05,319.45L226.05,327.05L234.55,323.25Z" fill="#111"/>
<text transform="translate(244.7,292.15) rotate(90) scale(1.1,1)" x="0 5.91 11.82 17.73" class="cb">9273</text>
<path d="M244.3,319.45L244.3,327.05L252.8,323.25Z" fill="#111"/>
<text transform="translate(262.55,292.9) rotate(90) scale(1.1,1)" x="0 5.91 11.82 17.09" class="cb">9271</text>
<path d="M262.15,318.7L262.15,326.3L270.65,322.5Z" fill="#111"/>
<text transform="translate(280.65,292.15) rotate(90) scale(1.1,1)" x="0 5.91 11.82 17.73" class="cb">9269</text>
<path d="M280.25,319.45L280.25,327.05L288.75,323.25Z" fill="#111"/>
<text transform="translate(307.2,296.2) rotate(90)" textLength="26.4" lengthAdjust="spacingAndGlyphs" class="cb">9267</text>
<rect x="296.8" y="297.2" width="7.6" height="6.8" fill="#111"/>
<text transform="translate(334,296.2) rotate(90)" textLength="26.4" lengthAdjust="spacingAndGlyphs" class="cb">9265</text>
<rect x="323.6" y="297.2" width="7.6" height="6.8" fill="#111"/>
<text transform="translate(355.6,286) rotate(90) scale(1.1,1)" x="0 5.91 11.82 17.73" class="cb">9263</text>
<path d="M355.2,313.3L355.2,320.9L363.7,317.1Z" fill="#111"/>
<text transform="translate(373.75,286.75) rotate(90) scale(1.1,1)" x="0 5.91 11.82 17.09" class="cb">9261</text>
<path d="M373.35,312.55L373.35,320.15L381.85,316.35Z" fill="#111"/>
<text transform="translate(391.7,286) rotate(90) scale(1.1,1)" x="0 5.91 11.82 17.73" class="cb">9259</text>
<path d="M391.3,313.3L391.3,320.9L399.8,317.1Z" fill="#111"/>
<text transform="translate(409.85,286) rotate(90) scale(1.1,1)" x="0 5.91 11.82 17.73" class="cb">9257</text>
<path d="M409.45,313.3L409.45,320.9L417.95,317.1Z" fill="#111"/>
<text transform="translate(427.65,286) rotate(90) scale(1.1,1)" x="0 5.91 11.82 17.73" class="cb">9255</text>
<path d="M427.25,313.3L427.25,320.9L435.75,317.1Z" fill="#111"/>
<text transform="translate(445.45,286) rotate(90) scale(1.1,1)" x="0 5.91 11.82 17.73" class="cb">9253</text>
<path d="M445.05,313.3L445.05,320.9L453.55,317.1Z" fill="#111"/>
<text transform="translate(463.25,286.75) rotate(90) scale(1.1,1)" x="0 5.91 11.82 17.09" class="cb">9251</text>
<path d="M462.85,312.55L462.85,320.15L471.35,316.35Z" fill="#111"/>
<text transform="translate(480.9,286) rotate(90) scale(1.1,1)" x="0 5.91 11.82 17.73" class="cb">9249</text>
<path d="M480.5,313.3L480.5,320.9L489,317.1Z" fill="#111"/>
<text transform="translate(498.65,286) rotate(90) scale(1.1,1)" x="0 5.91 11.82 17.73" class="cb">9247</text>
<path d="M498.25,313.3L498.25,320.9L506.75,317.1Z" fill="#111"/>
<text transform="translate(516.55,286) rotate(90) scale(1.1,1)" x="0 5.91 11.82 17.73" class="cb">9243</text>
<path d="M516.15,313.3L516.15,320.9L524.65,317.1Z" fill="#111"/>
<text transform="translate(534.35,279.3) rotate(90) scale(1.1,1)" x="0 5.91 11.82 17.73" class="cb">9239</text>
<path d="M533.95,306.6L533.95,314.2L542.45,310.4Z" fill="#111"/>
<text transform="translate(552.3,279.3) rotate(90) scale(1.1,1)" x="0 5.91 11.82 17.73" class="cb">9235</text>
<path d="M551.9,306.6L551.9,314.2L560.4,310.4Z" fill="#111"/>
<text transform="translate(570.25,280.05) rotate(90) scale(1.1,1)" x="0 5.91 11.82 17.09" class="cb">9231</text>
<path d="M569.85,305.85L569.85,313.45L578.35,309.65Z" fill="#111"/>
<text transform="translate(588.4,279.3) rotate(90) scale(1.1,1)" x="0 5.91 11.82 17.73" class="cb">9229</text>
<path d="M588,306.6L588,314.2L596.5,310.4Z" fill="#111"/>
<text transform="translate(606.55,279.3) rotate(90) scale(1.1,1)" x="0 5.91 11.82 17.73" class="cb">9227</text>
<path d="M606.15,306.6L606.15,314.2L614.65,310.4Z" fill="#111"/>
<text transform="translate(624.35,279.3) rotate(90) scale(1.1,1)" x="0 5.91 11.82 17.73" class="cb">9225</text>
<path d="M623.95,306.6L623.95,314.2L632.45,310.4Z" fill="#111"/>
<text transform="translate(645.05,293.05) rotate(90) scale(1.1,1)" x="0 5.91 11.82 17.73" class="cb">9223</text>
<path d="M644.65,320.35L644.65,327.95L653.15,324.15Z" fill="#111"/>
<text transform="translate(662.9,293.8) rotate(90) scale(1.1,1)" x="0 5.91 11.82 17.09" class="cb">9221</text>
<path d="M662.5,319.6L662.5,327.2L671,323.4Z" fill="#111"/>
<text transform="translate(681,293.8) rotate(90) scale(1.1,1)" x="0 5.91 11.18 16.36" class="cb">9219</text>
<path d="M680.6,319.6L680.6,327.2L689.1,323.4Z" fill="#111"/>
<text transform="translate(698.6,293.8) rotate(90) scale(1.1,1)" x="0 5.91 11.18 16.36" class="cb">9217</text>
<path d="M698.2,319.6L698.2,327.2L706.7,323.4Z" fill="#111"/>
<text transform="translate(716.35,293.8) rotate(90) scale(1.1,1)" x="0 5.91 11.18 16.36" class="cb">9215</text>
<path d="M715.95,319.6L715.95,327.2L724.45,323.4Z" fill="#111"/>
<text transform="translate(734.2,293.8) rotate(90) scale(1.1,1)" x="0 5.91 11.18 16.36" class="cb">9213</text>
<path d="M733.8,319.6L733.8,327.2L742.3,323.4Z" fill="#111"/>
<text transform="translate(752.05,294.55) rotate(90) scale(1.1,1)" x="0 5.91 11.18 15.73" class="cb">9211</text>
<path d="M751.65,318.85L751.65,326.45L760.15,322.65Z" fill="#111"/>
<text transform="translate(769.85,293.05) rotate(90) scale(1.1,1)" x="0 5.91 11.82 17.73" class="cb">9209</text>
<path d="M769.45,320.35L769.45,327.95L777.95,324.15Z" fill="#111"/>
<text transform="translate(787.65,293.05) rotate(90) scale(1.1,1)" x="0 5.91 11.82 17.73" class="cb">9207</text>
<path d="M787.25,320.35L787.25,327.95L795.75,324.15Z" fill="#111"/>
<text transform="translate(805.5,293.05) rotate(90) scale(1.1,1)" x="0 5.91 11.82 17.73" class="cb">9205</text>
<path d="M805.1,320.35L805.1,327.95L813.6,324.15Z" fill="#111"/>
<text transform="translate(823.65,293.05) rotate(90) scale(1.1,1)" x="0 5.91 11.82 17.73" class="cb">9203</text>
<path d="M823.25,320.35L823.25,327.95L831.75,324.15Z" fill="#111"/>
<text transform="translate(841.55,293.8) rotate(90) scale(1.1,1)" x="0 5.91 11.82 17.09" class="cb">9201</text>
<path d="M841.15,319.6L841.15,327.2L849.65,323.4Z" fill="#111"/>
<text transform="translate(859.5,293.8) rotate(90) scale(1.1,1)" x="0 5.27 10.45 16.36" class="cb">9199</text>
<path d="M859.1,319.6L859.1,327.2L867.6,323.4Z" fill="#111"/>
<text transform="translate(877.65,293.8) rotate(90) scale(1.1,1)" x="0 5.27 10.45 16.36" class="cb">9197</text>
<path d="M877.25,319.6L877.25,327.2L885.75,323.4Z" fill="#111"/>
<text transform="translate(895.6,293.8) rotate(90) scale(1.1,1)" x="0 5.27 10.45 16.36" class="cb">9195</text>
<path d="M895.2,319.6L895.2,327.2L903.7,323.4Z" fill="#111"/>
<text transform="translate(914.2,293.8) rotate(90) scale(1.1,1)" x="0 5.27 10.45 16.36" class="cb">9193</text>
<path d="M913.8,319.6L913.8,327.2L922.3,323.4Z" fill="#111"/>
<text transform="translate(933.45,294.55) rotate(90) scale(1.1,1)" x="0 5.27 10.45 15.73" class="cb">9191</text>
<path d="M933.05,318.85L933.05,326.45L941.55,322.65Z" fill="#111"/>
<text transform="translate(952.05,293.8) rotate(90) scale(1.1,1)" x="0 5.27 10.45 16.36" class="cb">9189</text>
<path d="M951.65,319.6L951.65,327.2L960.15,323.4Z" fill="#111"/>
<text transform="translate(969.85,293.8) rotate(90) scale(1.1,1)" x="0 5.27 10.45 16.36" class="cb">9187</text>
<path d="M969.45,319.6L969.45,327.2L977.95,323.4Z" fill="#111"/>
<text transform="translate(987.8,293.8) rotate(90) scale(1.1,1)" x="0 5.27 10.45 16.36" class="cb">9185</text>
<path d="M987.4,319.6L987.4,327.2L995.9,323.4Z" fill="#111"/>
<text transform="translate(1006.25,280.2) rotate(90) scale(1.1,1)" x="0 5.27 10.45 15.73" class="cb">9181</text>
<path d="M1005.85,304.5L1005.85,312.1L1014.35,308.3Z" fill="#111"/>
<text transform="translate(1024.2,279.45) rotate(90) scale(1.1,1)" x="0 5.27 10.45 16.36" class="cb">9177</text>
<path d="M1023.8,305.25L1023.8,312.85L1032.3,309.05Z" fill="#111"/>
<text transform="translate(1041.85,279.45) rotate(90) scale(1.1,1)" x="0 5.27 10.45 16.36" class="cb">9173</text>
<path d="M1041.45,305.25L1041.45,312.85L1049.95,309.05Z" fill="#111"/>
<text transform="translate(1059.65,279.45) rotate(90) scale(1.1,1)" x="0 5.27 10.45 16.36" class="cb">9169</text>
<path d="M1059.25,305.25L1059.25,312.85L1067.75,309.05Z" fill="#111"/>
<text transform="translate(1077.55,279.45) rotate(90) scale(1.1,1)" x="0 5.27 10.45 16.36" class="cb">9165</text>
<path d="M1077.15,305.25L1077.15,312.85L1085.65,309.05Z" fill="#111"/>
<text transform="translate(1095.6,280.2) rotate(90) scale(1.1,1)" x="0 5.27 10.45 15.73" class="cb">9161</text>
<path d="M1095.2,304.5L1095.2,312.1L1103.7,308.3Z" fill="#111"/>
<text transform="translate(1113.55,279.45) rotate(90) scale(1.1,1)" x="0 5.27 10.45 16.36" class="cb">9157</text>
<path d="M1113.15,305.25L1113.15,312.85L1121.65,309.05Z" fill="#111"/>
<text transform="translate(1131.5,279.45) rotate(90) scale(1.1,1)" x="0 5.27 10.45 16.36" class="cb">9153</text>
<path d="M1131.1,305.25L1131.1,312.85L1139.6,309.05Z" fill="#111"/>
<text transform="translate(1149.45,279.45) rotate(90) scale(1.1,1)" x="0 5.27 10.45 16.36" class="cb">9149</text>
<path d="M1149.05,305.25L1149.05,312.85L1157.55,309.05Z" fill="#111"/>
<text transform="translate(1167.25,279.45) rotate(90) scale(1.1,1)" x="0 5.27 10.45 16.36" class="cb">9145</text>
<path d="M1166.85,305.25L1166.85,312.85L1175.35,309.05Z" fill="#111"/>
<text transform="translate(1185.05,280.2) rotate(90) scale(1.1,1)" x="0 5.27 10.45 15.73" class="cb">9141</text>
<path d="M1184.65,304.5L1184.65,312.1L1193.15,308.3Z" fill="#111"/>
<text transform="translate(1204,279.45) rotate(90) scale(1.1,1)" x="0 5.27 10.45 16.36" class="cb">9137</text>
<path d="M1203.6,305.25L1203.6,312.85L1212.1,309.05Z" fill="#111"/>
<text transform="translate(1223.6,279.45) rotate(90) scale(1.1,1)" x="0 5.27 10.45 16.36" class="cb">9133</text>
<path d="M1223.2,305.25L1223.2,312.85L1231.7,309.05Z" fill="#111"/>
<text transform="translate(1242.1,279.45) rotate(90) scale(1.1,1)" x="0 5.27 10.45 16.36" class="cb">9129</text>
<path d="M1241.7,305.25L1241.7,312.85L1250.2,309.05Z" fill="#111"/>
<text transform="translate(1260.05,279.45) rotate(90) scale(1.1,1)" x="0 5.27 10.45 16.36" class="cb">9125</text>
<path d="M1259.65,305.25L1259.65,312.85L1268.15,309.05Z" fill="#111"/>
<text transform="translate(1277.95,280.2) rotate(90) scale(1.1,1)" x="0 5.27 10.45 15.73" class="cb">9121</text>
<path d="M1277.55,304.5L1277.55,312.1L1286.05,308.3Z" fill="#111"/>
<text transform="translate(1295.95,280.2) rotate(90) scale(1.1,1)" x="0 5.27 9.82 15" class="cb">9117</text>
<path d="M1295.55,304.5L1295.55,312.1L1304.05,308.3Z" fill="#111"/>
<text transform="translate(1314.1,280.2) rotate(90) scale(1.1,1)" x="0 5.27 9.82 15" class="cb">9113</text>
<path d="M1313.7,304.5L1313.7,312.1L1322.2,308.3Z" fill="#111"/>
<text transform="translate(1332.05,282.1) rotate(90) scale(1.1,1)" x="0 5.27 10.45 16.36" class="cb">9109</text>
<path d="M1331.65,307.9L1331.65,315.5L1340.15,311.7Z" fill="#111"/>
<text transform="translate(1349.65,282.1) rotate(90) scale(1.1,1)" x="0 5.27 10.45 16.36" class="cb">9105</text>
<path d="M1349.25,307.9L1349.25,315.5L1357.75,311.7Z" fill="#111"/>
<text transform="translate(1367.25,283) rotate(90) scale(1.1,1)" x="0 5.27 10.45 15.73" class="cb">9101</text>
<path d="M1366.85,307.3L1366.85,314.9L1375.35,311.1Z" fill="#111"/>
<text transform="translate(1385.2,281.5) rotate(90) scale(1.1,1)" x="0 5.91 11.82 17.73" class="cb">9099</text>
<path d="M1384.8,308.8L1384.8,316.4L1393.3,312.6Z" fill="#111"/>
<text transform="translate(1403.35,281.5) rotate(90) scale(1.1,1)" x="0 5.91 11.82 17.73" class="cb">9097</text>
<path d="M1402.95,308.8L1402.95,316.4L1411.45,312.6Z" fill="#111"/>
<text transform="translate(1421.35,281.5) rotate(90) scale(1.1,1)" x="0 5.91 11.82 17.73" class="cb">9095</text>
<path d="M1420.95,308.8L1420.95,316.4L1429.45,312.6Z" fill="#111"/>
<text transform="translate(1439.65,281.5) rotate(90) scale(1.1,1)" x="0 5.91 11.82 17.73" class="cb">9093</text>
<path d="M1439.25,308.8L1439.25,316.4L1447.75,312.6Z" fill="#111"/>
<text transform="translate(1457.75,282.25) rotate(90) scale(1.1,1)" x="0 5.91 11.82 17.09" class="cb">9091</text>
<path d="M1457.35,308.05L1457.35,315.65L1465.85,311.85Z" fill="#111"/>
<text transform="translate(1475.55,281.5) rotate(90) scale(1.1,1)" x="0 5.91 11.82 17.73" class="cb">9087</text>
<path d="M1475.15,308.8L1475.15,316.4L1483.65,312.6Z" fill="#111"/>
<text transform="translate(1494.2,281.5) rotate(90) scale(1.1,1)" x="0 5.91 11.82 17.73" class="cb">9085</text>
<path d="M1493.8,308.8L1493.8,316.4L1502.3,312.6Z" fill="#111"/>
<text transform="translate(1513.45,281.5) rotate(90) scale(1.1,1)" x="0 5.91 11.82 17.73" class="cb">9083</text>
<path d="M1513.05,308.8L1513.05,316.4L1521.55,312.6Z" fill="#111"/>
<text transform="translate(1531.85,282.25) rotate(90) scale(1.1,1)" x="0 5.91 11.82 17.09" class="cb">9081</text>
<path d="M1531.45,308.05L1531.45,315.65L1539.95,311.85Z" fill="#111"/>
<text transform="translate(1548.95,281.95) rotate(90) scale(1.1,1)" x="0 5.91 11.82 17.73" class="cb">9079</text>
<path d="M1548.55,309.25L1548.55,316.85L1557.05,313.05Z" fill="#111"/>
<text transform="translate(1566.75,281.95) rotate(90) scale(1.1,1)" x="0 5.91 11.82 17.73" class="cb">9077</text>
<path d="M1566.35,309.25L1566.35,316.85L1574.85,313.05Z" fill="#111"/>
<text transform="translate(1585.2,277.75) rotate(90) scale(1.1,1)" x="0 5.91 11.82 17.73" class="cb">9075</text>
<path d="M1584.8,305.05L1584.8,312.65L1593.3,308.85Z" fill="#111"/>
<text transform="translate(1603.15,278.5) rotate(90) scale(1.1,1)" x="0 5.91 11.82 17.09" class="cb">9071</text>
<path d="M1602.75,304.3L1602.75,311.9L1611.25,308.1Z" fill="#111"/>
<text transform="translate(1620.95,277.75) rotate(90) scale(1.1,1)" x="0 5.91 11.82 17.73" class="cb">9067</text>
<path d="M1620.55,305.05L1620.55,312.65L1629.05,308.85Z" fill="#111"/>
<text transform="translate(1638.7,277.75) rotate(90) scale(1.1,1)" x="0 5.91 11.82 17.73" class="cb">9063</text>
<path d="M1638.3,305.05L1638.3,312.65L1646.8,308.85Z" fill="#111"/>
<text transform="translate(1656.45,277.75) rotate(90) scale(1.1,1)" x="0 5.91 11.82 17.73" class="cb">9059</text>
<path d="M1656.05,305.05L1656.05,312.65L1664.55,308.85Z" fill="#111"/>
<text transform="translate(1674.25,277.75) rotate(90) scale(1.1,1)" x="0 5.91 11.82 17.73" class="cb">9055</text>
<path d="M1673.85,305.05L1673.85,312.65L1682.35,308.85Z" fill="#111"/>
<text transform="translate(1692.3,278.5) rotate(90) scale(1.1,1)" x="0 5.91 11.82 17.09" class="cb">9051</text>
<path d="M1691.9,304.3L1691.9,311.9L1700.4,308.1Z" fill="#111"/>
<text transform="translate(1710.45,277.75) rotate(90) scale(1.1,1)" x="0 5.91 11.82 17.73" class="cb">9047</text>
<path d="M1710.05,305.05L1710.05,312.65L1718.55,308.85Z" fill="#111"/>
<text transform="translate(1728.35,277.75) rotate(90) scale(1.1,1)" x="0 5.91 11.82 17.73" class="cb">9043</text>
<path d="M1727.95,305.05L1727.95,312.65L1736.45,308.85Z" fill="#111"/>
<text transform="translate(1745.95,277.75) rotate(90) scale(1.1,1)" x="0 5.91 11.82 17.73" class="cb">9039</text>
<path d="M1745.55,305.05L1745.55,312.65L1754.05,308.85Z" fill="#111"/>
<text transform="translate(1763.9,277.75) rotate(90) scale(1.1,1)" x="0 5.91 11.82 17.73" class="cb">9035</text>
<path d="M1763.5,305.05L1763.5,312.65L1772,308.85Z" fill="#111"/>
<text transform="translate(1782.2,278.5) rotate(90) scale(1.1,1)" x="0 5.91 11.82 17.09" class="cb">9031</text>
<path d="M1781.8,304.3L1781.8,311.9L1790.3,308.1Z" fill="#111"/>
<text transform="translate(1802.45,275.55) rotate(90) scale(1.1,1)" x="0 5.91 11.82 17.73" class="cb">9029</text>
<path d="M1802.05,302.85L1802.05,310.45L1810.55,306.65Z" fill="#111"/>
<text transform="translate(1820.65,275.55) rotate(90) scale(1.1,1)" x="0 5.91 11.82 17.73" class="cb">9027</text>
<path d="M1820.25,302.85L1820.25,310.45L1828.75,306.65Z" fill="#111"/>
<text transform="translate(1838.7,275.55) rotate(90) scale(1.1,1)" x="0 5.91 11.82 17.73" class="cb">9025</text>
<path d="M1838.3,302.85L1838.3,310.45L1846.8,306.65Z" fill="#111"/>
<text transform="translate(1856.75,276.3) rotate(90) scale(1.1,1)" x="0 5.91 11.82 17.09" class="cb">9021</text>
<path d="M1856.35,302.1L1856.35,309.7L1864.85,305.9Z" fill="#111"/>
<text transform="translate(1874.65,276.3) rotate(90) scale(1.1,1)" x="0 5.91 11.18 16.36" class="cb">9017</text>
<path d="M1874.25,302.1L1874.25,309.7L1882.75,305.9Z" fill="#111"/>
<rect x="1874.55" y="312.1" width="7.4" height="7.4" fill="none" stroke="#111" stroke-width="1.4"/>
<text transform="translate(1892.55,276.3) rotate(90) scale(1.1,1)" x="0 5.91 11.18 16.36" class="cb">9013</text>
<path d="M1892.15,302.1L1892.15,309.7L1900.65,305.9Z" fill="#111"/>
<rect x="1892.45" y="312.1" width="7.4" height="7.4" fill="none" stroke="#111" stroke-width="1.4"/>
<text transform="translate(1910.6,275.55) rotate(90) scale(1.1,1)" x="0 5.91 11.82 17.73" class="cb">9009</text>
<path d="M1910.2,302.85L1910.2,310.45L1918.7,306.65Z" fill="#111"/>
<rect x="1910.5" y="312.85" width="7.4" height="7.4" fill="none" stroke="#111" stroke-width="1.4"/>
<text transform="translate(1928.65,275.55) rotate(90) scale(1.1,1)" x="0 5.91 11.82 17.73" class="cb">9005</text>
<path d="M1928.25,302.85L1928.25,310.45L1936.75,306.65Z" fill="#111"/>
<rect x="1928.55" y="312.85" width="7.4" height="7.4" fill="none" stroke="#111" stroke-width="1.4"/>
<text transform="translate(1948.05,276.3) rotate(90) scale(1.1,1)" x="0 5.91 11.82 17.09" class="cb">9001</text>
<path d="M1947.65,302.1L1947.65,309.7L1956.15,305.9Z" fill="#111"/>
<rect x="1947.95" y="312.1" width="7.4" height="7.4" fill="none" stroke="#111" stroke-width="1.4"/>
<path d="M64,69.5 L530,69.5 L547.5,83.2 L619,83.2 L637.5,69.5 L1001,69.5 L1018.6,83.2 L1291.7,83.2 L1362,69.5 L1545.4,69.5 L1579.5,83.2 L1777,83.2 L1794.7,69.5 L1930,69.6 C1996,69.6 2010,116 2010,206 C2010,246 2017,342.9 1930,342.9 L1794.7,343 L1777,329.3 L1579.5,329.3 L1545.4,343 L1362,343 L1291.7,329.3 L1018.6,329.3 L1001,343 L637.5,343 L619,329.3 L547.5,329.3 L530,343 L64,343 Q46.5,343 46.5,325.5 L46.5,87 Q46.5,69.5 64,69.5 Z" fill="none" stroke="#1c1c1c" stroke-width="2.1" stroke-linejoin="round"/>
</svg>
</body></html>
